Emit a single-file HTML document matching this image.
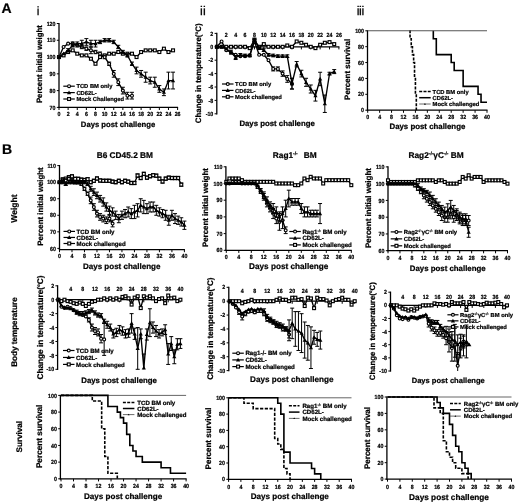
<!DOCTYPE html>
<html><head><meta charset="utf-8"><title>Figure</title>
<style>
html,body{margin:0;padding:0;background:#fff;width:520px;height:504px;overflow:hidden}
svg{display:block}
text{font-family:"Liberation Sans", Arial, sans-serif;fill:#000;text-rendering:geometricPrecision}
text.b{font-weight:bold;stroke:#000;stroke-width:0.22px}
text.n{font-weight:normal;stroke:#000;stroke-width:0.25px}
.mo{fill:#fff;stroke:#000;stroke-width:1.15px}
</style></head>
<body>
<svg width="520" height="504" viewBox="0 0 520 504">
<rect width="520" height="504" fill="#fff"/>
<path d="M59.00 22.90L59.00 108.05" stroke="#000" stroke-width="1.3"/>
<path d="M56.80 107.40L59.00 107.40" stroke="#000" stroke-width="1.0"/>
<text transform="translate(55.50 109.55) scale(0.88 1)" font-size="6.0" class="b" text-anchor="end">70</text>
<path d="M56.80 90.62L59.00 90.62" stroke="#000" stroke-width="1.0"/>
<text transform="translate(55.50 92.77) scale(0.88 1)" font-size="6.0" class="b" text-anchor="end">80</text>
<path d="M56.80 73.84L59.00 73.84" stroke="#000" stroke-width="1.0"/>
<text transform="translate(55.50 75.99) scale(0.88 1)" font-size="6.0" class="b" text-anchor="end">90</text>
<path d="M56.80 57.06L59.00 57.06" stroke="#000" stroke-width="1.0"/>
<text transform="translate(55.50 59.21) scale(0.88 1)" font-size="6.0" class="b" text-anchor="end">100</text>
<path d="M56.80 40.28L59.00 40.28" stroke="#000" stroke-width="1.0"/>
<text transform="translate(55.50 42.43) scale(0.88 1)" font-size="6.0" class="b" text-anchor="end">110</text>
<path d="M56.80 23.50L59.00 23.50" stroke="#000" stroke-width="1.0"/>
<text transform="translate(55.50 25.65) scale(0.88 1)" font-size="6.0" class="b" text-anchor="end">120</text>
<path d="M58.40 107.40L178.10 107.40" stroke="#000" stroke-width="1.3"/>
<path d="M59.00 107.40L59.00 110.00" stroke="#000" stroke-width="1.0"/>
<text transform="translate(59.00 116.40) scale(0.88 1)" font-size="6.0" class="b" text-anchor="middle">0</text>
<path d="M68.12 107.40L68.12 110.00" stroke="#000" stroke-width="1.0"/>
<text transform="translate(68.12 116.40) scale(0.88 1)" font-size="6.0" class="b" text-anchor="middle">2</text>
<path d="M77.25 107.40L77.25 110.00" stroke="#000" stroke-width="1.0"/>
<text transform="translate(77.25 116.40) scale(0.88 1)" font-size="6.0" class="b" text-anchor="middle">4</text>
<path d="M86.37 107.40L86.37 110.00" stroke="#000" stroke-width="1.0"/>
<text transform="translate(86.37 116.40) scale(0.88 1)" font-size="6.0" class="b" text-anchor="middle">6</text>
<path d="M95.49 107.40L95.49 110.00" stroke="#000" stroke-width="1.0"/>
<text transform="translate(95.49 116.40) scale(0.88 1)" font-size="6.0" class="b" text-anchor="middle">8</text>
<path d="M104.62 107.40L104.62 110.00" stroke="#000" stroke-width="1.0"/>
<text transform="translate(104.62 116.40) scale(0.88 1)" font-size="6.0" class="b" text-anchor="middle">10</text>
<path d="M113.74 107.40L113.74 110.00" stroke="#000" stroke-width="1.0"/>
<text transform="translate(113.74 116.40) scale(0.88 1)" font-size="6.0" class="b" text-anchor="middle">12</text>
<path d="M122.86 107.40L122.86 110.00" stroke="#000" stroke-width="1.0"/>
<text transform="translate(122.86 116.40) scale(0.88 1)" font-size="6.0" class="b" text-anchor="middle">14</text>
<path d="M131.98 107.40L131.98 110.00" stroke="#000" stroke-width="1.0"/>
<text transform="translate(131.98 116.40) scale(0.88 1)" font-size="6.0" class="b" text-anchor="middle">16</text>
<path d="M141.11 107.40L141.11 110.00" stroke="#000" stroke-width="1.0"/>
<text transform="translate(141.11 116.40) scale(0.88 1)" font-size="6.0" class="b" text-anchor="middle">18</text>
<path d="M150.23 107.40L150.23 110.00" stroke="#000" stroke-width="1.0"/>
<text transform="translate(150.23 116.40) scale(0.88 1)" font-size="6.0" class="b" text-anchor="middle">20</text>
<path d="M159.35 107.40L159.35 110.00" stroke="#000" stroke-width="1.0"/>
<text transform="translate(159.35 116.40) scale(0.88 1)" font-size="6.0" class="b" text-anchor="middle">22</text>
<path d="M168.48 107.40L168.48 110.00" stroke="#000" stroke-width="1.0"/>
<text transform="translate(168.48 116.40) scale(0.88 1)" font-size="6.0" class="b" text-anchor="middle">24</text>
<path d="M177.60 107.40L177.60 110.00" stroke="#000" stroke-width="1.0"/>
<text transform="translate(177.60 116.40) scale(0.88 1)" font-size="6.0" class="b" text-anchor="middle">26</text>
<text x="1.40" y="13.00" font-size="14.0" class="b" stroke-width="0.55">A</text>
<text x="36.70" y="14.70" font-size="12.0" class="n">i</text>
<text x="42.00" y="64.10" font-size="7.8" class="b" text-anchor="middle" transform="rotate(-90 42.00 64.10)">Percent initial weight</text>
<text x="118.00" y="127.00" font-size="7.7" class="b" text-anchor="middle">Days post challenge</text>
<polyline points="59.00,57.06 63.56,55.38 68.12,52.03 72.68,50.35 77.25,53.70 81.81,55.38 86.37,55.38 90.93,58.74 95.49,63.77 100.05,57.06 104.62,55.38 109.18,53.70 113.74,53.70 118.30,52.03 122.86,53.70 127.42,53.70 131.98,53.70 136.55,57.06 141.11,52.03 145.67,50.35 150.23,50.35 154.79,50.35 159.35,52.03 163.92,48.67 168.48,52.03 173.04,50.35" fill="none" stroke="#000" stroke-width="1.35" stroke-linejoin="miter"/>
<rect x="57.55" y="55.61" width="2.90" height="2.90" class="mo"/>
<rect x="62.11" y="53.93" width="2.90" height="2.90" class="mo"/>
<rect x="66.67" y="50.58" width="2.90" height="2.90" class="mo"/>
<rect x="71.23" y="48.90" width="2.90" height="2.90" class="mo"/>
<rect x="75.80" y="52.25" width="2.90" height="2.90" class="mo"/>
<rect x="80.36" y="53.93" width="2.90" height="2.90" class="mo"/>
<rect x="84.92" y="53.93" width="2.90" height="2.90" class="mo"/>
<rect x="89.48" y="57.29" width="2.90" height="2.90" class="mo"/>
<rect x="94.04" y="62.32" width="2.90" height="2.90" class="mo"/>
<rect x="98.60" y="55.61" width="2.90" height="2.90" class="mo"/>
<rect x="103.17" y="53.93" width="2.90" height="2.90" class="mo"/>
<rect x="107.73" y="52.25" width="2.90" height="2.90" class="mo"/>
<rect x="112.29" y="52.25" width="2.90" height="2.90" class="mo"/>
<rect x="116.85" y="50.58" width="2.90" height="2.90" class="mo"/>
<rect x="121.41" y="52.25" width="2.90" height="2.90" class="mo"/>
<rect x="125.97" y="52.25" width="2.90" height="2.90" class="mo"/>
<rect x="130.53" y="52.25" width="2.90" height="2.90" class="mo"/>
<rect x="135.10" y="55.61" width="2.90" height="2.90" class="mo"/>
<rect x="139.66" y="50.58" width="2.90" height="2.90" class="mo"/>
<rect x="144.22" y="48.90" width="2.90" height="2.90" class="mo"/>
<rect x="148.78" y="48.90" width="2.90" height="2.90" class="mo"/>
<rect x="153.34" y="48.90" width="2.90" height="2.90" class="mo"/>
<rect x="157.90" y="50.58" width="2.90" height="2.90" class="mo"/>
<rect x="162.47" y="47.22" width="2.90" height="2.90" class="mo"/>
<rect x="167.03" y="50.58" width="2.90" height="2.90" class="mo"/>
<rect x="171.59" y="48.90" width="2.90" height="2.90" class="mo"/>
<polyline points="59.00,57.06 63.56,46.99 68.12,43.64 72.68,43.64 77.25,45.31 81.81,46.99 86.37,48.67 90.93,50.35 95.49,52.03 100.05,53.70 104.62,57.06 109.18,63.77 113.74,73.84 118.30,82.23 122.86,90.62 127.42,95.65 131.98,95.65" fill="none" stroke="#000" stroke-width="1.35" stroke-linejoin="miter"/>
<path d="M72.68 41.96L72.68 45.31" stroke="#000" stroke-width="1.0"/>
<path d="M70.68 41.96L74.68 41.96" stroke="#000" stroke-width="1.0"/>
<path d="M70.68 45.31L74.68 45.31" stroke="#000" stroke-width="1.0"/>
<path d="M77.25 43.64L77.25 46.99" stroke="#000" stroke-width="1.0"/>
<path d="M75.25 43.64L79.25 43.64" stroke="#000" stroke-width="1.0"/>
<path d="M75.25 46.99L79.25 46.99" stroke="#000" stroke-width="1.0"/>
<path d="M81.81 45.31L81.81 48.67" stroke="#000" stroke-width="1.0"/>
<path d="M79.81 45.31L83.81 45.31" stroke="#000" stroke-width="1.0"/>
<path d="M79.81 48.67L83.81 48.67" stroke="#000" stroke-width="1.0"/>
<path d="M86.37 46.99L86.37 50.35" stroke="#000" stroke-width="1.0"/>
<path d="M84.37 46.99L88.37 46.99" stroke="#000" stroke-width="1.0"/>
<path d="M84.37 50.35L88.37 50.35" stroke="#000" stroke-width="1.0"/>
<path d="M90.93 46.99L90.93 53.70" stroke="#000" stroke-width="1.0"/>
<path d="M88.93 46.99L92.93 46.99" stroke="#000" stroke-width="1.0"/>
<path d="M88.93 53.70L92.93 53.70" stroke="#000" stroke-width="1.0"/>
<path d="M95.49 50.35L95.49 53.70" stroke="#000" stroke-width="1.0"/>
<path d="M93.49 50.35L97.49 50.35" stroke="#000" stroke-width="1.0"/>
<path d="M93.49 53.70L97.49 53.70" stroke="#000" stroke-width="1.0"/>
<path d="M100.05 52.03L100.05 55.38" stroke="#000" stroke-width="1.0"/>
<path d="M98.05 52.03L102.05 52.03" stroke="#000" stroke-width="1.0"/>
<path d="M98.05 55.38L102.05 55.38" stroke="#000" stroke-width="1.0"/>
<path d="M104.62 55.38L104.62 58.74" stroke="#000" stroke-width="1.0"/>
<path d="M102.62 55.38L106.62 55.38" stroke="#000" stroke-width="1.0"/>
<path d="M102.62 58.74L106.62 58.74" stroke="#000" stroke-width="1.0"/>
<path d="M109.18 62.09L109.18 65.45" stroke="#000" stroke-width="1.0"/>
<path d="M107.18 62.09L111.18 62.09" stroke="#000" stroke-width="1.0"/>
<path d="M107.18 65.45L111.18 65.45" stroke="#000" stroke-width="1.0"/>
<path d="M113.74 70.48L113.74 77.20" stroke="#000" stroke-width="1.0"/>
<path d="M111.74 70.48L115.74 70.48" stroke="#000" stroke-width="1.0"/>
<path d="M111.74 77.20L115.74 77.20" stroke="#000" stroke-width="1.0"/>
<path d="M118.30 78.87L118.30 85.59" stroke="#000" stroke-width="1.0"/>
<path d="M116.30 78.87L120.30 78.87" stroke="#000" stroke-width="1.0"/>
<path d="M116.30 85.59L120.30 85.59" stroke="#000" stroke-width="1.0"/>
<path d="M122.86 87.26L122.86 93.98" stroke="#000" stroke-width="1.0"/>
<path d="M120.86 87.26L124.86 87.26" stroke="#000" stroke-width="1.0"/>
<path d="M120.86 93.98L124.86 93.98" stroke="#000" stroke-width="1.0"/>
<path d="M127.42 92.30L127.42 99.01" stroke="#000" stroke-width="1.0"/>
<path d="M125.42 92.30L129.42 92.30" stroke="#000" stroke-width="1.0"/>
<path d="M125.42 99.01L129.42 99.01" stroke="#000" stroke-width="1.0"/>
<path d="M131.98 92.30L131.98 99.01" stroke="#000" stroke-width="1.0"/>
<path d="M129.98 92.30L133.98 92.30" stroke="#000" stroke-width="1.0"/>
<path d="M129.98 99.01L133.98 99.01" stroke="#000" stroke-width="1.0"/>
<circle cx="59.00" cy="57.06" r="1.45" class="mo"/>
<circle cx="63.56" cy="46.99" r="1.45" class="mo"/>
<circle cx="68.12" cy="43.64" r="1.45" class="mo"/>
<circle cx="72.68" cy="43.64" r="1.45" class="mo"/>
<circle cx="77.25" cy="45.31" r="1.45" class="mo"/>
<circle cx="81.81" cy="46.99" r="1.45" class="mo"/>
<circle cx="86.37" cy="48.67" r="1.45" class="mo"/>
<circle cx="90.93" cy="50.35" r="1.45" class="mo"/>
<circle cx="95.49" cy="52.03" r="1.45" class="mo"/>
<circle cx="100.05" cy="53.70" r="1.45" class="mo"/>
<circle cx="104.62" cy="57.06" r="1.45" class="mo"/>
<circle cx="109.18" cy="63.77" r="1.45" class="mo"/>
<circle cx="113.74" cy="73.84" r="1.45" class="mo"/>
<circle cx="118.30" cy="82.23" r="1.45" class="mo"/>
<circle cx="122.86" cy="90.62" r="1.45" class="mo"/>
<circle cx="127.42" cy="95.65" r="1.45" class="mo"/>
<circle cx="131.98" cy="95.65" r="1.45" class="mo"/>
<polyline points="59.00,57.06 63.56,53.70 68.12,50.35 72.68,45.31 77.25,43.64 81.81,43.64 86.37,41.96 90.93,43.64 95.49,43.64 100.05,41.96 104.62,40.28 109.18,40.28 113.74,41.96 118.30,46.99 122.86,52.03 127.42,55.38 131.98,63.77 136.55,70.48 141.11,73.84 145.67,77.20 150.23,80.55 154.79,82.23 159.35,88.94 163.92,92.30 168.48,80.55 173.04,80.55" fill="none" stroke="#000" stroke-width="1.35" stroke-linejoin="miter"/>
<path d="M68.12 48.67L68.12 52.03" stroke="#000" stroke-width="1.0"/>
<path d="M66.12 48.67L70.12 48.67" stroke="#000" stroke-width="1.0"/>
<path d="M66.12 52.03L70.12 52.03" stroke="#000" stroke-width="1.0"/>
<path d="M72.68 43.64L72.68 46.99" stroke="#000" stroke-width="1.0"/>
<path d="M70.68 43.64L74.68 43.64" stroke="#000" stroke-width="1.0"/>
<path d="M70.68 46.99L74.68 46.99" stroke="#000" stroke-width="1.0"/>
<path d="M77.25 41.96L77.25 45.31" stroke="#000" stroke-width="1.0"/>
<path d="M75.25 41.96L79.25 41.96" stroke="#000" stroke-width="1.0"/>
<path d="M75.25 45.31L79.25 45.31" stroke="#000" stroke-width="1.0"/>
<path d="M81.81 40.28L81.81 46.99" stroke="#000" stroke-width="1.0"/>
<path d="M79.81 40.28L83.81 40.28" stroke="#000" stroke-width="1.0"/>
<path d="M79.81 46.99L83.81 46.99" stroke="#000" stroke-width="1.0"/>
<path d="M86.37 38.60L86.37 45.31" stroke="#000" stroke-width="1.0"/>
<path d="M84.37 38.60L88.37 38.60" stroke="#000" stroke-width="1.0"/>
<path d="M84.37 45.31L88.37 45.31" stroke="#000" stroke-width="1.0"/>
<path d="M90.93 40.28L90.93 46.99" stroke="#000" stroke-width="1.0"/>
<path d="M88.93 40.28L92.93 40.28" stroke="#000" stroke-width="1.0"/>
<path d="M88.93 46.99L92.93 46.99" stroke="#000" stroke-width="1.0"/>
<path d="M95.49 40.28L95.49 46.99" stroke="#000" stroke-width="1.0"/>
<path d="M93.49 40.28L97.49 40.28" stroke="#000" stroke-width="1.0"/>
<path d="M93.49 46.99L97.49 46.99" stroke="#000" stroke-width="1.0"/>
<path d="M100.05 40.28L100.05 43.64" stroke="#000" stroke-width="1.0"/>
<path d="M98.05 40.28L102.05 40.28" stroke="#000" stroke-width="1.0"/>
<path d="M98.05 43.64L102.05 43.64" stroke="#000" stroke-width="1.0"/>
<path d="M104.62 38.60L104.62 41.96" stroke="#000" stroke-width="1.0"/>
<path d="M102.62 38.60L106.62 38.60" stroke="#000" stroke-width="1.0"/>
<path d="M102.62 41.96L106.62 41.96" stroke="#000" stroke-width="1.0"/>
<path d="M109.18 38.60L109.18 41.96" stroke="#000" stroke-width="1.0"/>
<path d="M107.18 38.60L111.18 38.60" stroke="#000" stroke-width="1.0"/>
<path d="M107.18 41.96L111.18 41.96" stroke="#000" stroke-width="1.0"/>
<path d="M113.74 40.28L113.74 43.64" stroke="#000" stroke-width="1.0"/>
<path d="M111.74 40.28L115.74 40.28" stroke="#000" stroke-width="1.0"/>
<path d="M111.74 43.64L115.74 43.64" stroke="#000" stroke-width="1.0"/>
<path d="M118.30 45.31L118.30 48.67" stroke="#000" stroke-width="1.0"/>
<path d="M116.30 45.31L120.30 45.31" stroke="#000" stroke-width="1.0"/>
<path d="M116.30 48.67L120.30 48.67" stroke="#000" stroke-width="1.0"/>
<path d="M122.86 50.35L122.86 53.70" stroke="#000" stroke-width="1.0"/>
<path d="M120.86 50.35L124.86 50.35" stroke="#000" stroke-width="1.0"/>
<path d="M120.86 53.70L124.86 53.70" stroke="#000" stroke-width="1.0"/>
<path d="M127.42 53.70L127.42 57.06" stroke="#000" stroke-width="1.0"/>
<path d="M125.42 53.70L129.42 53.70" stroke="#000" stroke-width="1.0"/>
<path d="M125.42 57.06L129.42 57.06" stroke="#000" stroke-width="1.0"/>
<path d="M131.98 62.09L131.98 65.45" stroke="#000" stroke-width="1.0"/>
<path d="M129.98 62.09L133.98 62.09" stroke="#000" stroke-width="1.0"/>
<path d="M129.98 65.45L133.98 65.45" stroke="#000" stroke-width="1.0"/>
<path d="M136.55 67.13L136.55 73.84" stroke="#000" stroke-width="1.0"/>
<path d="M134.55 67.13L138.55 67.13" stroke="#000" stroke-width="1.0"/>
<path d="M134.55 73.84L138.55 73.84" stroke="#000" stroke-width="1.0"/>
<path d="M141.11 70.48L141.11 77.20" stroke="#000" stroke-width="1.0"/>
<path d="M139.11 70.48L143.11 70.48" stroke="#000" stroke-width="1.0"/>
<path d="M139.11 77.20L143.11 77.20" stroke="#000" stroke-width="1.0"/>
<path d="M145.67 72.16L145.67 82.23" stroke="#000" stroke-width="1.0"/>
<path d="M143.67 72.16L147.67 72.16" stroke="#000" stroke-width="1.0"/>
<path d="M143.67 82.23L147.67 82.23" stroke="#000" stroke-width="1.0"/>
<path d="M150.23 77.20L150.23 83.91" stroke="#000" stroke-width="1.0"/>
<path d="M148.23 77.20L152.23 77.20" stroke="#000" stroke-width="1.0"/>
<path d="M148.23 83.91L152.23 83.91" stroke="#000" stroke-width="1.0"/>
<path d="M154.79 77.20L154.79 87.26" stroke="#000" stroke-width="1.0"/>
<path d="M152.79 77.20L156.79 77.20" stroke="#000" stroke-width="1.0"/>
<path d="M152.79 87.26L156.79 87.26" stroke="#000" stroke-width="1.0"/>
<path d="M159.35 85.59L159.35 92.30" stroke="#000" stroke-width="1.0"/>
<path d="M157.35 85.59L161.35 85.59" stroke="#000" stroke-width="1.0"/>
<path d="M157.35 92.30L161.35 92.30" stroke="#000" stroke-width="1.0"/>
<path d="M163.92 88.94L163.92 95.65" stroke="#000" stroke-width="1.0"/>
<path d="M161.92 88.94L165.92 88.94" stroke="#000" stroke-width="1.0"/>
<path d="M161.92 95.65L165.92 95.65" stroke="#000" stroke-width="1.0"/>
<path d="M168.48 72.16L168.48 88.94" stroke="#000" stroke-width="1.0"/>
<path d="M166.48 72.16L170.48 72.16" stroke="#000" stroke-width="1.0"/>
<path d="M166.48 88.94L170.48 88.94" stroke="#000" stroke-width="1.0"/>
<path d="M173.04 72.16L173.04 88.94" stroke="#000" stroke-width="1.0"/>
<path d="M171.04 72.16L175.04 72.16" stroke="#000" stroke-width="1.0"/>
<path d="M171.04 88.94L175.04 88.94" stroke="#000" stroke-width="1.0"/>
<path d="M59.00 54.96L61.10 58.64L56.90 58.64Z"/>
<path d="M63.56 51.60L65.66 55.28L61.46 55.28Z"/>
<path d="M68.12 48.25L70.22 51.92L66.02 51.92Z"/>
<path d="M72.68 43.21L74.78 46.89L70.58 46.89Z"/>
<path d="M77.25 41.54L79.35 45.21L75.15 45.21Z"/>
<path d="M81.81 41.54L83.91 45.21L79.71 45.21Z"/>
<path d="M86.37 39.86L88.47 43.53L84.27 43.53Z"/>
<path d="M90.93 41.54L93.03 45.21L88.83 45.21Z"/>
<path d="M95.49 41.54L97.59 45.21L93.39 45.21Z"/>
<path d="M100.05 39.86L102.15 43.53L97.95 43.53Z"/>
<path d="M104.62 38.18L106.72 41.86L102.52 41.86Z"/>
<path d="M109.18 38.18L111.28 41.86L107.08 41.86Z"/>
<path d="M113.74 39.86L115.84 43.53L111.64 43.53Z"/>
<path d="M118.30 44.89L120.40 48.57L116.20 48.57Z"/>
<path d="M122.86 49.93L124.96 53.60L120.76 53.60Z"/>
<path d="M127.42 53.28L129.52 56.96L125.32 56.96Z"/>
<path d="M131.98 61.67L134.08 65.35L129.88 65.35Z"/>
<path d="M136.55 68.38L138.65 72.06L134.45 72.06Z"/>
<path d="M141.11 71.74L143.21 75.42L139.01 75.42Z"/>
<path d="M145.67 75.10L147.77 78.77L143.57 78.77Z"/>
<path d="M150.23 78.45L152.33 82.13L148.13 82.13Z"/>
<path d="M154.79 80.13L156.89 83.81L152.69 83.81Z"/>
<path d="M159.35 86.84L161.45 90.52L157.25 90.52Z"/>
<path d="M163.92 90.20L166.02 93.87L161.82 93.87Z"/>
<path d="M168.48 78.45L170.58 82.13L166.38 82.13Z"/>
<path d="M173.04 78.45L175.14 82.13L170.94 82.13Z"/>
<path d="M63.30 86.20L74.80 86.20" stroke="#000" stroke-width="1.2"/>
<circle cx="69.05" cy="86.20" r="1.45" class="mo"/>
<text x="76.40" y="88.35" font-size="5.8" class="b">TCD BM only</text>
<path d="M63.30 92.60L74.80 92.60" stroke="#000" stroke-width="1.2"/>
<path d="M69.05 90.50L71.15 94.18L66.95 94.18Z"/>
<text x="76.40" y="94.75" font-size="5.8" class="b">CD62L-</text>
<path d="M63.30 99.00L74.80 99.00" stroke="#000" stroke-width="1.2"/>
<rect x="67.60" y="97.55" width="2.90" height="2.90" class="mo"/>
<text x="76.40" y="101.15" font-size="5.8" class="b">Mock Challenged</text>
<path d="M216.80 32.80L216.80 114.45" stroke="#000" stroke-width="1.3"/>
<path d="M214.60 113.80L216.80 113.80" stroke="#000" stroke-width="1.0"/>
<text transform="translate(213.30 115.95) scale(0.88 1)" font-size="6.0" class="b" text-anchor="end">-10</text>
<path d="M214.60 100.40L216.80 100.40" stroke="#000" stroke-width="1.0"/>
<text transform="translate(213.30 102.55) scale(0.88 1)" font-size="6.0" class="b" text-anchor="end">-8</text>
<path d="M214.60 87.00L216.80 87.00" stroke="#000" stroke-width="1.0"/>
<text transform="translate(213.30 89.15) scale(0.88 1)" font-size="6.0" class="b" text-anchor="end">-6</text>
<path d="M214.60 73.60L216.80 73.60" stroke="#000" stroke-width="1.0"/>
<text transform="translate(213.30 75.75) scale(0.88 1)" font-size="6.0" class="b" text-anchor="end">-4</text>
<path d="M214.60 60.20L216.80 60.20" stroke="#000" stroke-width="1.0"/>
<text transform="translate(213.30 62.35) scale(0.88 1)" font-size="6.0" class="b" text-anchor="end">-2</text>
<path d="M214.60 46.80L216.80 46.80" stroke="#000" stroke-width="1.0"/>
<text transform="translate(213.30 48.95) scale(0.88 1)" font-size="6.0" class="b" text-anchor="end">0</text>
<path d="M214.60 33.40L216.80 33.40" stroke="#000" stroke-width="1.0"/>
<text transform="translate(213.30 35.55) scale(0.88 1)" font-size="6.0" class="b" text-anchor="end">2</text>
<path d="M216.20 46.80L339.40 46.80" stroke="#000" stroke-width="1.3"/>
<path d="M216.90 46.80L216.90 49.40" stroke="#000" stroke-width="1.0"/>
<path d="M226.28 46.80L226.28 49.40" stroke="#000" stroke-width="1.0"/>
<text transform="translate(226.28 36.50) scale(0.88 1)" font-size="6.0" class="b" text-anchor="middle">2</text>
<path d="M235.67 46.80L235.67 49.40" stroke="#000" stroke-width="1.0"/>
<text transform="translate(235.67 36.50) scale(0.88 1)" font-size="6.0" class="b" text-anchor="middle">4</text>
<path d="M245.05 46.80L245.05 49.40" stroke="#000" stroke-width="1.0"/>
<text transform="translate(245.05 36.50) scale(0.88 1)" font-size="6.0" class="b" text-anchor="middle">6</text>
<path d="M254.44 46.80L254.44 49.40" stroke="#000" stroke-width="1.0"/>
<text transform="translate(254.44 36.50) scale(0.88 1)" font-size="6.0" class="b" text-anchor="middle">8</text>
<path d="M263.82 46.80L263.82 49.40" stroke="#000" stroke-width="1.0"/>
<text transform="translate(263.82 36.50) scale(0.88 1)" font-size="6.0" class="b" text-anchor="middle">10</text>
<path d="M273.21 46.80L273.21 49.40" stroke="#000" stroke-width="1.0"/>
<text transform="translate(273.21 36.50) scale(0.88 1)" font-size="6.0" class="b" text-anchor="middle">12</text>
<path d="M282.59 46.80L282.59 49.40" stroke="#000" stroke-width="1.0"/>
<text transform="translate(282.59 36.50) scale(0.88 1)" font-size="6.0" class="b" text-anchor="middle">14</text>
<path d="M291.98 46.80L291.98 49.40" stroke="#000" stroke-width="1.0"/>
<text transform="translate(291.98 36.50) scale(0.88 1)" font-size="6.0" class="b" text-anchor="middle">16</text>
<path d="M301.36 46.80L301.36 49.40" stroke="#000" stroke-width="1.0"/>
<text transform="translate(301.36 36.50) scale(0.88 1)" font-size="6.0" class="b" text-anchor="middle">18</text>
<path d="M310.75 46.80L310.75 49.40" stroke="#000" stroke-width="1.0"/>
<text transform="translate(310.75 36.50) scale(0.88 1)" font-size="6.0" class="b" text-anchor="middle">20</text>
<path d="M320.13 46.80L320.13 49.40" stroke="#000" stroke-width="1.0"/>
<text transform="translate(320.13 36.50) scale(0.88 1)" font-size="6.0" class="b" text-anchor="middle">22</text>
<path d="M329.52 46.80L329.52 49.40" stroke="#000" stroke-width="1.0"/>
<text transform="translate(329.52 36.50) scale(0.88 1)" font-size="6.0" class="b" text-anchor="middle">24</text>
<path d="M338.90 46.80L338.90 49.40" stroke="#000" stroke-width="1.0"/>
<text transform="translate(338.90 36.50) scale(0.88 1)" font-size="6.0" class="b" text-anchor="middle">26</text>
<text x="200.00" y="14.80" font-size="12.5" class="n">i<tspan dx="0.3">i</tspan></text>
<text x="200.60" y="73.30" font-size="7.92" class="b" text-anchor="middle" transform="rotate(-90 200.60 73.30)">Change in temperature(<tspan font-size="4.6" dy="-2.8">o</tspan><tspan dy="2.8">C)</tspan></text>
<text x="277.10" y="126.20" font-size="7.8" class="b" text-anchor="middle">Days post challenge</text>
<polyline points="216.90,46.80 221.59,46.80 226.28,46.80 230.98,46.80 235.67,46.80 240.36,46.80 245.05,46.80 249.75,48.14 254.44,40.10 259.13,46.80 263.82,44.12 268.52,46.80 273.21,46.80 277.90,46.80 282.59,46.80 287.28,45.46 291.98,46.80 296.67,41.44 301.36,42.78 306.05,44.79 310.75,46.80 315.44,48.14 320.13,44.79 324.82,42.78 329.52,42.11 334.21,44.12" fill="none" stroke="#000" stroke-width="1.35" stroke-linejoin="miter"/>
<rect x="215.45" y="45.35" width="2.90" height="2.90" class="mo"/>
<rect x="220.14" y="45.35" width="2.90" height="2.90" class="mo"/>
<rect x="224.83" y="45.35" width="2.90" height="2.90" class="mo"/>
<rect x="229.53" y="45.35" width="2.90" height="2.90" class="mo"/>
<rect x="234.22" y="45.35" width="2.90" height="2.90" class="mo"/>
<rect x="238.91" y="45.35" width="2.90" height="2.90" class="mo"/>
<rect x="243.60" y="45.35" width="2.90" height="2.90" class="mo"/>
<rect x="248.30" y="46.69" width="2.90" height="2.90" class="mo"/>
<rect x="252.99" y="38.65" width="2.90" height="2.90" class="mo"/>
<rect x="257.68" y="45.35" width="2.90" height="2.90" class="mo"/>
<rect x="262.37" y="42.67" width="2.90" height="2.90" class="mo"/>
<rect x="267.07" y="45.35" width="2.90" height="2.90" class="mo"/>
<rect x="271.76" y="45.35" width="2.90" height="2.90" class="mo"/>
<rect x="276.45" y="45.35" width="2.90" height="2.90" class="mo"/>
<rect x="281.14" y="45.35" width="2.90" height="2.90" class="mo"/>
<rect x="285.83" y="44.01" width="2.90" height="2.90" class="mo"/>
<rect x="290.53" y="45.35" width="2.90" height="2.90" class="mo"/>
<rect x="295.22" y="39.99" width="2.90" height="2.90" class="mo"/>
<rect x="299.91" y="41.33" width="2.90" height="2.90" class="mo"/>
<rect x="304.60" y="43.34" width="2.90" height="2.90" class="mo"/>
<rect x="309.30" y="45.35" width="2.90" height="2.90" class="mo"/>
<rect x="313.99" y="46.69" width="2.90" height="2.90" class="mo"/>
<rect x="318.68" y="43.34" width="2.90" height="2.90" class="mo"/>
<rect x="323.37" y="41.33" width="2.90" height="2.90" class="mo"/>
<rect x="328.07" y="40.66" width="2.90" height="2.90" class="mo"/>
<rect x="332.76" y="42.67" width="2.90" height="2.90" class="mo"/>
<polyline points="216.90,46.80 221.59,41.44 226.28,50.15 230.98,52.16 235.67,54.84 240.36,56.18 245.05,56.18 249.75,55.51 254.44,41.44 259.13,54.84 263.82,54.84 268.52,60.20 273.21,68.91 277.90,68.91 282.59,73.60 287.28,78.96 291.98,83.65" fill="none" stroke="#000" stroke-width="1.35" stroke-linejoin="miter"/>
<path d="M254.44 39.43L254.44 43.45" stroke="#000" stroke-width="1.0"/>
<path d="M252.44 39.43L256.44 39.43" stroke="#000" stroke-width="1.0"/>
<path d="M252.44 43.45L256.44 43.45" stroke="#000" stroke-width="1.0"/>
<path d="M273.21 66.90L273.21 70.92" stroke="#000" stroke-width="1.0"/>
<path d="M271.21 66.90L275.21 66.90" stroke="#000" stroke-width="1.0"/>
<path d="M271.21 70.92L275.21 70.92" stroke="#000" stroke-width="1.0"/>
<path d="M277.90 66.90L277.90 70.92" stroke="#000" stroke-width="1.0"/>
<path d="M275.90 66.90L279.90 66.90" stroke="#000" stroke-width="1.0"/>
<path d="M275.90 70.92L279.90 70.92" stroke="#000" stroke-width="1.0"/>
<path d="M282.59 70.92L282.59 76.28" stroke="#000" stroke-width="1.0"/>
<path d="M280.59 70.92L284.59 70.92" stroke="#000" stroke-width="1.0"/>
<path d="M280.59 76.28L284.59 76.28" stroke="#000" stroke-width="1.0"/>
<path d="M287.28 75.61L287.28 82.31" stroke="#000" stroke-width="1.0"/>
<path d="M285.28 75.61L289.28 75.61" stroke="#000" stroke-width="1.0"/>
<path d="M285.28 82.31L289.28 82.31" stroke="#000" stroke-width="1.0"/>
<path d="M291.98 78.29L291.98 89.01" stroke="#000" stroke-width="1.0"/>
<path d="M289.98 78.29L293.98 78.29" stroke="#000" stroke-width="1.0"/>
<path d="M289.98 89.01L293.98 89.01" stroke="#000" stroke-width="1.0"/>
<circle cx="216.90" cy="46.80" r="1.45" class="mo"/>
<circle cx="221.59" cy="41.44" r="1.45" class="mo"/>
<circle cx="226.28" cy="50.15" r="1.45" class="mo"/>
<circle cx="230.98" cy="52.16" r="1.45" class="mo"/>
<circle cx="235.67" cy="54.84" r="1.45" class="mo"/>
<circle cx="240.36" cy="56.18" r="1.45" class="mo"/>
<circle cx="245.05" cy="56.18" r="1.45" class="mo"/>
<circle cx="249.75" cy="55.51" r="1.45" class="mo"/>
<circle cx="254.44" cy="41.44" r="1.45" class="mo"/>
<circle cx="259.13" cy="54.84" r="1.45" class="mo"/>
<circle cx="263.82" cy="54.84" r="1.45" class="mo"/>
<circle cx="268.52" cy="60.20" r="1.45" class="mo"/>
<circle cx="273.21" cy="68.91" r="1.45" class="mo"/>
<circle cx="277.90" cy="68.91" r="1.45" class="mo"/>
<circle cx="282.59" cy="73.60" r="1.45" class="mo"/>
<circle cx="287.28" cy="78.96" r="1.45" class="mo"/>
<circle cx="291.98" cy="83.65" r="1.45" class="mo"/>
<polyline points="216.90,46.80 221.59,46.80 226.28,48.81 230.98,52.16 235.67,57.52 240.36,54.84 245.05,55.51 249.75,55.51 254.44,40.10 259.13,48.14 263.82,50.15 268.52,54.84 273.21,55.51 277.90,56.18 282.59,56.18 287.28,56.18 291.98,83.65 296.67,64.22 301.36,73.60 306.05,82.31 310.75,89.01 315.44,95.71 320.13,78.96 324.82,103.75 329.52,73.60 334.21,71.59" fill="none" stroke="#000" stroke-width="1.35" stroke-linejoin="miter"/>
<path d="M230.98 50.15L230.98 54.17" stroke="#000" stroke-width="1.0"/>
<path d="M228.98 50.15L232.98 50.15" stroke="#000" stroke-width="1.0"/>
<path d="M228.98 54.17L232.98 54.17" stroke="#000" stroke-width="1.0"/>
<path d="M235.67 55.51L235.67 59.53" stroke="#000" stroke-width="1.0"/>
<path d="M233.67 55.51L237.67 55.51" stroke="#000" stroke-width="1.0"/>
<path d="M233.67 59.53L237.67 59.53" stroke="#000" stroke-width="1.0"/>
<path d="M240.36 53.50L240.36 56.18" stroke="#000" stroke-width="1.0"/>
<path d="M238.36 53.50L242.36 53.50" stroke="#000" stroke-width="1.0"/>
<path d="M238.36 56.18L242.36 56.18" stroke="#000" stroke-width="1.0"/>
<path d="M245.05 54.17L245.05 56.85" stroke="#000" stroke-width="1.0"/>
<path d="M243.05 54.17L247.05 54.17" stroke="#000" stroke-width="1.0"/>
<path d="M243.05 56.85L247.05 56.85" stroke="#000" stroke-width="1.0"/>
<path d="M249.75 54.17L249.75 56.85" stroke="#000" stroke-width="1.0"/>
<path d="M247.75 54.17L251.75 54.17" stroke="#000" stroke-width="1.0"/>
<path d="M247.75 56.85L251.75 56.85" stroke="#000" stroke-width="1.0"/>
<path d="M254.44 38.09L254.44 42.11" stroke="#000" stroke-width="1.0"/>
<path d="M252.44 38.09L256.44 38.09" stroke="#000" stroke-width="1.0"/>
<path d="M252.44 42.11L256.44 42.11" stroke="#000" stroke-width="1.0"/>
<path d="M259.13 46.80L259.13 49.48" stroke="#000" stroke-width="1.0"/>
<path d="M257.13 46.80L261.13 46.80" stroke="#000" stroke-width="1.0"/>
<path d="M257.13 49.48L261.13 49.48" stroke="#000" stroke-width="1.0"/>
<path d="M263.82 48.81L263.82 51.49" stroke="#000" stroke-width="1.0"/>
<path d="M261.82 48.81L265.82 48.81" stroke="#000" stroke-width="1.0"/>
<path d="M261.82 51.49L265.82 51.49" stroke="#000" stroke-width="1.0"/>
<path d="M268.52 53.50L268.52 56.18" stroke="#000" stroke-width="1.0"/>
<path d="M266.52 53.50L270.52 53.50" stroke="#000" stroke-width="1.0"/>
<path d="M266.52 56.18L270.52 56.18" stroke="#000" stroke-width="1.0"/>
<path d="M273.21 54.17L273.21 56.85" stroke="#000" stroke-width="1.0"/>
<path d="M271.21 54.17L275.21 54.17" stroke="#000" stroke-width="1.0"/>
<path d="M271.21 56.85L275.21 56.85" stroke="#000" stroke-width="1.0"/>
<path d="M277.90 54.84L277.90 57.52" stroke="#000" stroke-width="1.0"/>
<path d="M275.90 54.84L279.90 54.84" stroke="#000" stroke-width="1.0"/>
<path d="M275.90 57.52L279.90 57.52" stroke="#000" stroke-width="1.0"/>
<path d="M282.59 54.84L282.59 57.52" stroke="#000" stroke-width="1.0"/>
<path d="M280.59 54.84L284.59 54.84" stroke="#000" stroke-width="1.0"/>
<path d="M280.59 57.52L284.59 57.52" stroke="#000" stroke-width="1.0"/>
<path d="M287.28 54.84L287.28 57.52" stroke="#000" stroke-width="1.0"/>
<path d="M285.28 54.84L289.28 54.84" stroke="#000" stroke-width="1.0"/>
<path d="M285.28 57.52L289.28 57.52" stroke="#000" stroke-width="1.0"/>
<path d="M291.98 78.29L291.98 89.01" stroke="#000" stroke-width="1.0"/>
<path d="M289.98 78.29L293.98 78.29" stroke="#000" stroke-width="1.0"/>
<path d="M289.98 89.01L293.98 89.01" stroke="#000" stroke-width="1.0"/>
<path d="M296.67 61.54L296.67 66.90" stroke="#000" stroke-width="1.0"/>
<path d="M294.67 61.54L298.67 61.54" stroke="#000" stroke-width="1.0"/>
<path d="M294.67 66.90L298.67 66.90" stroke="#000" stroke-width="1.0"/>
<path d="M301.36 70.25L301.36 76.95" stroke="#000" stroke-width="1.0"/>
<path d="M299.36 70.25L303.36 70.25" stroke="#000" stroke-width="1.0"/>
<path d="M299.36 76.95L303.36 76.95" stroke="#000" stroke-width="1.0"/>
<path d="M306.05 78.29L306.05 86.33" stroke="#000" stroke-width="1.0"/>
<path d="M304.05 78.29L308.05 78.29" stroke="#000" stroke-width="1.0"/>
<path d="M304.05 86.33L308.05 86.33" stroke="#000" stroke-width="1.0"/>
<path d="M310.75 84.99L310.75 93.03" stroke="#000" stroke-width="1.0"/>
<path d="M308.75 84.99L312.75 84.99" stroke="#000" stroke-width="1.0"/>
<path d="M308.75 93.03L312.75 93.03" stroke="#000" stroke-width="1.0"/>
<path d="M315.44 90.35L315.44 101.07" stroke="#000" stroke-width="1.0"/>
<path d="M313.44 90.35L317.44 90.35" stroke="#000" stroke-width="1.0"/>
<path d="M313.44 101.07L317.44 101.07" stroke="#000" stroke-width="1.0"/>
<path d="M320.13 72.26L320.13 85.66" stroke="#000" stroke-width="1.0"/>
<path d="M318.13 72.26L322.13 72.26" stroke="#000" stroke-width="1.0"/>
<path d="M318.13 85.66L322.13 85.66" stroke="#000" stroke-width="1.0"/>
<path d="M324.82 95.04L324.82 112.46" stroke="#000" stroke-width="1.0"/>
<path d="M322.82 95.04L326.82 95.04" stroke="#000" stroke-width="1.0"/>
<path d="M322.82 112.46L326.82 112.46" stroke="#000" stroke-width="1.0"/>
<path d="M329.52 72.26L329.52 74.94" stroke="#000" stroke-width="1.0"/>
<path d="M327.52 72.26L331.52 72.26" stroke="#000" stroke-width="1.0"/>
<path d="M327.52 74.94L331.52 74.94" stroke="#000" stroke-width="1.0"/>
<path d="M334.21 69.58L334.21 73.60" stroke="#000" stroke-width="1.0"/>
<path d="M332.21 69.58L336.21 69.58" stroke="#000" stroke-width="1.0"/>
<path d="M332.21 73.60L336.21 73.60" stroke="#000" stroke-width="1.0"/>
<path d="M216.90 44.70L219.00 48.38L214.80 48.38Z"/>
<path d="M221.59 44.70L223.69 48.38L219.49 48.38Z"/>
<path d="M226.28 46.71L228.38 50.39L224.18 50.39Z"/>
<path d="M230.98 50.06L233.08 53.74L228.88 53.74Z"/>
<path d="M235.67 55.42L237.77 59.09L233.57 59.09Z"/>
<path d="M240.36 52.74L242.46 56.41L238.26 56.41Z"/>
<path d="M245.05 53.41L247.15 57.09L242.95 57.09Z"/>
<path d="M249.75 53.41L251.85 57.09L247.65 57.09Z"/>
<path d="M254.44 38.00L256.54 41.67L252.34 41.67Z"/>
<path d="M259.13 46.04L261.23 49.71L257.03 49.71Z"/>
<path d="M263.82 48.05L265.92 51.73L261.72 51.73Z"/>
<path d="M268.52 52.74L270.62 56.41L266.42 56.41Z"/>
<path d="M273.21 53.41L275.31 57.09L271.11 57.09Z"/>
<path d="M277.90 54.08L280.00 57.76L275.80 57.76Z"/>
<path d="M282.59 54.08L284.69 57.76L280.49 57.76Z"/>
<path d="M287.28 54.08L289.38 57.76L285.18 57.76Z"/>
<path d="M291.98 81.55L294.08 85.22L289.88 85.22Z"/>
<path d="M296.67 62.12L298.77 65.80L294.57 65.80Z"/>
<path d="M301.36 71.50L303.46 75.17L299.26 75.17Z"/>
<path d="M306.05 80.21L308.15 83.89L303.95 83.89Z"/>
<path d="M310.75 86.91L312.85 90.58L308.65 90.58Z"/>
<path d="M315.44 93.61L317.54 97.28L313.34 97.28Z"/>
<path d="M320.13 76.86L322.23 80.53L318.03 80.53Z"/>
<path d="M324.82 101.65L326.92 105.33L322.72 105.33Z"/>
<path d="M329.52 71.50L331.62 75.17L327.42 75.17Z"/>
<path d="M334.21 69.49L336.31 73.17L332.11 73.17Z"/>
<path d="M222.00 84.00L233.50 84.00" stroke="#000" stroke-width="1.2"/>
<circle cx="227.75" cy="84.00" r="1.45" class="mo"/>
<text x="235.10" y="86.15" font-size="5.8" class="b">TCD BM only</text>
<path d="M222.00 90.40L233.50 90.40" stroke="#000" stroke-width="1.2"/>
<path d="M227.75 88.30L229.85 91.98L225.65 91.98Z"/>
<text x="235.10" y="92.55" font-size="5.8" class="b">CD62L-</text>
<path d="M222.00 96.80L233.50 96.80" stroke="#000" stroke-width="1.2"/>
<rect x="226.30" y="95.35" width="2.90" height="2.90" class="mo"/>
<text x="235.10" y="98.95" font-size="5.8" class="b">Mock challenged</text>
<path d="M367.50 30.20L367.50 110.85" stroke="#000" stroke-width="1.3"/>
<path d="M365.30 110.20L367.50 110.20" stroke="#000" stroke-width="1.0"/>
<text transform="translate(364.00 112.35) scale(0.88 1)" font-size="6.0" class="b" text-anchor="end">0</text>
<path d="M365.30 94.32L367.50 94.32" stroke="#000" stroke-width="1.0"/>
<text transform="translate(364.00 96.47) scale(0.88 1)" font-size="6.0" class="b" text-anchor="end">20</text>
<path d="M365.30 78.44L367.50 78.44" stroke="#000" stroke-width="1.0"/>
<text transform="translate(364.00 80.59) scale(0.88 1)" font-size="6.0" class="b" text-anchor="end">40</text>
<path d="M365.30 62.56L367.50 62.56" stroke="#000" stroke-width="1.0"/>
<text transform="translate(364.00 64.71) scale(0.88 1)" font-size="6.0" class="b" text-anchor="end">60</text>
<path d="M365.30 46.68L367.50 46.68" stroke="#000" stroke-width="1.0"/>
<text transform="translate(364.00 48.83) scale(0.88 1)" font-size="6.0" class="b" text-anchor="end">80</text>
<path d="M365.30 30.80L367.50 30.80" stroke="#000" stroke-width="1.0"/>
<text transform="translate(364.00 32.95) scale(0.88 1)" font-size="6.0" class="b" text-anchor="end">100</text>
<path d="M366.90 110.20L487.50 110.20" stroke="#000" stroke-width="1.3"/>
<path d="M367.70 110.20L367.70 112.80" stroke="#000" stroke-width="1.0"/>
<text transform="translate(367.70 118.70) scale(0.88 1)" font-size="6.0" class="b" text-anchor="middle">0</text>
<path d="M379.63 110.20L379.63 112.80" stroke="#000" stroke-width="1.0"/>
<text transform="translate(379.63 118.70) scale(0.88 1)" font-size="6.0" class="b" text-anchor="middle">4</text>
<path d="M391.56 110.20L391.56 112.80" stroke="#000" stroke-width="1.0"/>
<text transform="translate(391.56 118.70) scale(0.88 1)" font-size="6.0" class="b" text-anchor="middle">8</text>
<path d="M403.49 110.20L403.49 112.80" stroke="#000" stroke-width="1.0"/>
<text transform="translate(403.49 118.70) scale(0.88 1)" font-size="6.0" class="b" text-anchor="middle">12</text>
<path d="M415.42 110.20L415.42 112.80" stroke="#000" stroke-width="1.0"/>
<text transform="translate(415.42 118.70) scale(0.88 1)" font-size="6.0" class="b" text-anchor="middle">16</text>
<path d="M427.35 110.20L427.35 112.80" stroke="#000" stroke-width="1.0"/>
<text transform="translate(427.35 118.70) scale(0.88 1)" font-size="6.0" class="b" text-anchor="middle">20</text>
<path d="M439.28 110.20L439.28 112.80" stroke="#000" stroke-width="1.0"/>
<text transform="translate(439.28 118.70) scale(0.88 1)" font-size="6.0" class="b" text-anchor="middle">24</text>
<path d="M451.21 110.20L451.21 112.80" stroke="#000" stroke-width="1.0"/>
<text transform="translate(451.21 118.70) scale(0.88 1)" font-size="6.0" class="b" text-anchor="middle">28</text>
<path d="M463.14 110.20L463.14 112.80" stroke="#000" stroke-width="1.0"/>
<text transform="translate(463.14 118.70) scale(0.88 1)" font-size="6.0" class="b" text-anchor="middle">32</text>
<path d="M475.07 110.20L475.07 112.80" stroke="#000" stroke-width="1.0"/>
<text transform="translate(475.07 118.70) scale(0.88 1)" font-size="6.0" class="b" text-anchor="middle">36</text>
<path d="M487.00 110.20L487.00 112.80" stroke="#000" stroke-width="1.0"/>
<text transform="translate(487.00 118.70) scale(0.88 1)" font-size="6.0" class="b" text-anchor="middle">40</text>
<text x="356.70" y="14.80" font-size="12.5" class="n" letter-spacing="-0.35">iii</text>
<text x="350.30" y="69.40" font-size="7.9" class="b" text-anchor="middle" transform="rotate(-90 350.30 69.40)">Percent survival</text>
<text x="427.40" y="129.00" font-size="7.85" class="b" text-anchor="middle">Days post challenge</text>
<polyline points="409.45,30.80 410.05,30.80 410.05,38.74 411.24,38.74 411.24,46.68 412.44,46.68 412.44,54.62 413.63,54.62 413.63,62.56 414.53,62.56 414.53,78.44 415.42,78.44 415.42,94.32 416.31,94.32 416.31,110.20" fill="none" stroke="#000" stroke-width="1.6" stroke-linejoin="miter" stroke-dasharray="3,1.4"/>
<polyline points="433.31,30.80 433.31,30.80 433.31,38.74 436.30,38.74 436.30,54.62 451.21,54.62 451.21,62.56 454.19,62.56 454.19,70.50 463.14,70.50 463.14,86.38 478.05,86.38 478.05,94.32 481.03,94.32 481.03,102.26 487.00,102.26 487.00,102.26" fill="none" stroke="#000" stroke-width="1.6" stroke-linejoin="miter"/>
<polyline points="367.70,30.80 487.00,30.80 487.00,30.80" fill="none" stroke="#555" stroke-width="1.1" stroke-linejoin="miter"/>
<path d="M419.20 91.40L430.70 91.40" stroke="#000" stroke-width="1.5" stroke-dasharray="3,1.3"/>
<text x="432.60" y="93.55" font-size="5.8" class="b">TCD BM only</text>
<path d="M419.20 97.70L430.70 97.70" stroke="#000" stroke-width="1.5"/>
<text x="432.60" y="99.85" font-size="5.8" class="b">CD62L-</text>
<path d="M419.20 104.00L430.70 104.00" stroke="#444" stroke-width="0.8"/>
<path d="M424.95 103.06L425.89 104.71L424.00 104.71Z"/>
<text x="432.60" y="106.15" font-size="5.8" class="b">Mock challenged</text>
<text x="1.90" y="154.20" font-size="14.0" class="b" stroke-width="0.5">B</text>
<text x="17.50" y="208.60" font-size="8.5" class="b" text-anchor="middle" transform="rotate(-90 17.50 208.60)">Weight</text>
<text x="17.40" y="332.10" font-size="8.15" class="b" text-anchor="middle" transform="rotate(-90 17.40 332.10)">Body temperature</text>
<text x="21.90" y="436.70" font-size="8.1" class="b" text-anchor="middle" transform="rotate(-90 21.90 436.70)">Survival</text>
<path d="M59.50 165.00L59.50 250.25" stroke="#000" stroke-width="1.3"/>
<path d="M57.30 248.40L59.50 248.40" stroke="#000" stroke-width="1.0"/>
<text transform="translate(56.00 250.55) scale(0.88 1)" font-size="6.0" class="b" text-anchor="end">60</text>
<path d="M57.30 231.84L59.50 231.84" stroke="#000" stroke-width="1.0"/>
<text transform="translate(56.00 233.99) scale(0.88 1)" font-size="6.0" class="b" text-anchor="end">70</text>
<path d="M57.30 215.28L59.50 215.28" stroke="#000" stroke-width="1.0"/>
<text transform="translate(56.00 217.43) scale(0.88 1)" font-size="6.0" class="b" text-anchor="end">80</text>
<path d="M57.30 198.72L59.50 198.72" stroke="#000" stroke-width="1.0"/>
<text transform="translate(56.00 200.87) scale(0.88 1)" font-size="6.0" class="b" text-anchor="end">90</text>
<path d="M57.30 182.16L59.50 182.16" stroke="#000" stroke-width="1.0"/>
<text transform="translate(56.00 184.31) scale(0.88 1)" font-size="6.0" class="b" text-anchor="end">100</text>
<path d="M57.30 165.60L59.50 165.60" stroke="#000" stroke-width="1.0"/>
<text transform="translate(56.00 167.75) scale(0.88 1)" font-size="6.0" class="b" text-anchor="end">110</text>
<path d="M58.90 249.60L184.90 249.60" stroke="#000" stroke-width="1.3"/>
<path d="M59.50 249.60L59.50 252.20" stroke="#000" stroke-width="1.0"/>
<text transform="translate(59.50 257.80) scale(0.88 1)" font-size="6.0" class="b" text-anchor="middle">0</text>
<path d="M71.99 249.60L71.99 252.20" stroke="#000" stroke-width="1.0"/>
<text transform="translate(71.99 257.80) scale(0.88 1)" font-size="6.0" class="b" text-anchor="middle">4</text>
<path d="M84.48 249.60L84.48 252.20" stroke="#000" stroke-width="1.0"/>
<text transform="translate(84.48 257.80) scale(0.88 1)" font-size="6.0" class="b" text-anchor="middle">8</text>
<path d="M96.97 249.60L96.97 252.20" stroke="#000" stroke-width="1.0"/>
<text transform="translate(96.97 257.80) scale(0.88 1)" font-size="6.0" class="b" text-anchor="middle">12</text>
<path d="M109.46 249.60L109.46 252.20" stroke="#000" stroke-width="1.0"/>
<text transform="translate(109.46 257.80) scale(0.88 1)" font-size="6.0" class="b" text-anchor="middle">16</text>
<path d="M121.95 249.60L121.95 252.20" stroke="#000" stroke-width="1.0"/>
<text transform="translate(121.95 257.80) scale(0.88 1)" font-size="6.0" class="b" text-anchor="middle">20</text>
<path d="M134.44 249.60L134.44 252.20" stroke="#000" stroke-width="1.0"/>
<text transform="translate(134.44 257.80) scale(0.88 1)" font-size="6.0" class="b" text-anchor="middle">24</text>
<path d="M146.93 249.60L146.93 252.20" stroke="#000" stroke-width="1.0"/>
<text transform="translate(146.93 257.80) scale(0.88 1)" font-size="6.0" class="b" text-anchor="middle">28</text>
<path d="M159.42 249.60L159.42 252.20" stroke="#000" stroke-width="1.0"/>
<text transform="translate(159.42 257.80) scale(0.88 1)" font-size="6.0" class="b" text-anchor="middle">32</text>
<path d="M171.91 249.60L171.91 252.20" stroke="#000" stroke-width="1.0"/>
<text transform="translate(171.91 257.80) scale(0.88 1)" font-size="6.0" class="b" text-anchor="middle">36</text>
<path d="M184.40 249.60L184.40 252.20" stroke="#000" stroke-width="1.0"/>
<text transform="translate(184.40 257.80) scale(0.88 1)" font-size="6.0" class="b" text-anchor="middle">40</text>
<text x="124.85" y="158.00" font-size="8.3" class="b" text-anchor="middle">B6 CD45.2 BM</text>
<text x="42.80" y="206.50" font-size="7.85" class="b" text-anchor="middle" transform="rotate(-90 42.80 206.50)">Percent initial weight</text>
<text x="121.70" y="268.90" font-size="8.0" class="b" text-anchor="middle">Days post challenge</text>
<polyline points="59.50,182.16 62.62,179.18 65.75,178.52 68.87,177.19 71.99,176.36 75.11,178.85 78.23,178.85 81.36,179.68 84.48,180.01 87.60,179.18 90.72,182.16 93.85,180.84 96.97,178.52 100.09,180.50 103.22,180.84 106.34,180.84 109.46,180.84 112.58,181.66 115.70,182.16 118.83,180.84 121.95,182.16 125.07,180.84 128.19,181.66 131.32,182.99 134.44,182.99 137.56,175.54 140.69,178.02 143.81,173.88 146.93,177.69 150.05,176.20 153.18,175.20 156.30,175.70 159.42,178.68 162.54,181.50 165.67,178.68 168.79,177.69 171.91,178.02 175.03,178.02 178.16,178.02 181.28,184.64" fill="none" stroke="#000" stroke-width="1.35" stroke-linejoin="miter"/>
<path d="M68.87 175.54L68.87 178.85" stroke="#000" stroke-width="1.0"/>
<path d="M66.87 175.54L70.87 175.54" stroke="#000" stroke-width="1.0"/>
<path d="M66.87 178.85L70.87 178.85" stroke="#000" stroke-width="1.0"/>
<path d="M71.99 174.71L71.99 178.02" stroke="#000" stroke-width="1.0"/>
<path d="M69.99 174.71L73.99 174.71" stroke="#000" stroke-width="1.0"/>
<path d="M69.99 178.02L73.99 178.02" stroke="#000" stroke-width="1.0"/>
<path d="M75.11 177.19L75.11 180.50" stroke="#000" stroke-width="1.0"/>
<path d="M73.11 177.19L77.11 177.19" stroke="#000" stroke-width="1.0"/>
<path d="M73.11 180.50L77.11 180.50" stroke="#000" stroke-width="1.0"/>
<path d="M78.23 177.19L78.23 180.50" stroke="#000" stroke-width="1.0"/>
<path d="M76.23 177.19L80.23 177.19" stroke="#000" stroke-width="1.0"/>
<path d="M76.23 180.50L80.23 180.50" stroke="#000" stroke-width="1.0"/>
<path d="M81.36 178.02L81.36 181.33" stroke="#000" stroke-width="1.0"/>
<path d="M79.36 178.02L83.36 178.02" stroke="#000" stroke-width="1.0"/>
<path d="M79.36 181.33L83.36 181.33" stroke="#000" stroke-width="1.0"/>
<path d="M84.48 178.35L84.48 181.66" stroke="#000" stroke-width="1.0"/>
<path d="M82.48 178.35L86.48 178.35" stroke="#000" stroke-width="1.0"/>
<path d="M82.48 181.66L86.48 181.66" stroke="#000" stroke-width="1.0"/>
<path d="M87.60 177.52L87.60 180.84" stroke="#000" stroke-width="1.0"/>
<path d="M85.60 177.52L89.60 177.52" stroke="#000" stroke-width="1.0"/>
<path d="M85.60 180.84L89.60 180.84" stroke="#000" stroke-width="1.0"/>
<path d="M90.72 180.50L90.72 183.82" stroke="#000" stroke-width="1.0"/>
<path d="M88.72 180.50L92.72 180.50" stroke="#000" stroke-width="1.0"/>
<path d="M88.72 183.82L92.72 183.82" stroke="#000" stroke-width="1.0"/>
<path d="M93.85 179.18L93.85 182.49" stroke="#000" stroke-width="1.0"/>
<path d="M91.85 179.18L95.85 179.18" stroke="#000" stroke-width="1.0"/>
<path d="M91.85 182.49L95.85 182.49" stroke="#000" stroke-width="1.0"/>
<path d="M96.97 176.86L96.97 180.17" stroke="#000" stroke-width="1.0"/>
<path d="M94.97 176.86L98.97 176.86" stroke="#000" stroke-width="1.0"/>
<path d="M94.97 180.17L98.97 180.17" stroke="#000" stroke-width="1.0"/>
<path d="M100.09 178.85L100.09 182.16" stroke="#000" stroke-width="1.0"/>
<path d="M98.09 178.85L102.09 178.85" stroke="#000" stroke-width="1.0"/>
<path d="M98.09 182.16L102.09 182.16" stroke="#000" stroke-width="1.0"/>
<path d="M103.22 179.18L103.22 182.49" stroke="#000" stroke-width="1.0"/>
<path d="M101.22 179.18L105.22 179.18" stroke="#000" stroke-width="1.0"/>
<path d="M101.22 182.49L105.22 182.49" stroke="#000" stroke-width="1.0"/>
<path d="M106.34 179.18L106.34 182.49" stroke="#000" stroke-width="1.0"/>
<path d="M104.34 179.18L108.34 179.18" stroke="#000" stroke-width="1.0"/>
<path d="M104.34 182.49L108.34 182.49" stroke="#000" stroke-width="1.0"/>
<path d="M109.46 179.18L109.46 182.49" stroke="#000" stroke-width="1.0"/>
<path d="M107.46 179.18L111.46 179.18" stroke="#000" stroke-width="1.0"/>
<path d="M107.46 182.49L111.46 182.49" stroke="#000" stroke-width="1.0"/>
<path d="M112.58 180.01L112.58 183.32" stroke="#000" stroke-width="1.0"/>
<path d="M110.58 180.01L114.58 180.01" stroke="#000" stroke-width="1.0"/>
<path d="M110.58 183.32L114.58 183.32" stroke="#000" stroke-width="1.0"/>
<path d="M115.70 180.50L115.70 183.82" stroke="#000" stroke-width="1.0"/>
<path d="M113.70 180.50L117.70 180.50" stroke="#000" stroke-width="1.0"/>
<path d="M113.70 183.82L117.70 183.82" stroke="#000" stroke-width="1.0"/>
<path d="M118.83 179.18L118.83 182.49" stroke="#000" stroke-width="1.0"/>
<path d="M116.83 179.18L120.83 179.18" stroke="#000" stroke-width="1.0"/>
<path d="M116.83 182.49L120.83 182.49" stroke="#000" stroke-width="1.0"/>
<path d="M121.95 180.50L121.95 183.82" stroke="#000" stroke-width="1.0"/>
<path d="M119.95 180.50L123.95 180.50" stroke="#000" stroke-width="1.0"/>
<path d="M119.95 183.82L123.95 183.82" stroke="#000" stroke-width="1.0"/>
<path d="M125.07 179.18L125.07 182.49" stroke="#000" stroke-width="1.0"/>
<path d="M123.07 179.18L127.07 179.18" stroke="#000" stroke-width="1.0"/>
<path d="M123.07 182.49L127.07 182.49" stroke="#000" stroke-width="1.0"/>
<path d="M128.19 180.01L128.19 183.32" stroke="#000" stroke-width="1.0"/>
<path d="M126.19 180.01L130.19 180.01" stroke="#000" stroke-width="1.0"/>
<path d="M126.19 183.32L130.19 183.32" stroke="#000" stroke-width="1.0"/>
<path d="M131.32 181.33L131.32 184.64" stroke="#000" stroke-width="1.0"/>
<path d="M129.32 181.33L133.32 181.33" stroke="#000" stroke-width="1.0"/>
<path d="M129.32 184.64L133.32 184.64" stroke="#000" stroke-width="1.0"/>
<path d="M134.44 181.33L134.44 184.64" stroke="#000" stroke-width="1.0"/>
<path d="M132.44 181.33L136.44 181.33" stroke="#000" stroke-width="1.0"/>
<path d="M132.44 184.64L136.44 184.64" stroke="#000" stroke-width="1.0"/>
<path d="M137.56 173.88L137.56 177.19" stroke="#000" stroke-width="1.0"/>
<path d="M135.56 173.88L139.56 173.88" stroke="#000" stroke-width="1.0"/>
<path d="M135.56 177.19L139.56 177.19" stroke="#000" stroke-width="1.0"/>
<path d="M140.69 176.36L140.69 179.68" stroke="#000" stroke-width="1.0"/>
<path d="M138.69 176.36L142.69 176.36" stroke="#000" stroke-width="1.0"/>
<path d="M138.69 179.68L142.69 179.68" stroke="#000" stroke-width="1.0"/>
<path d="M143.81 172.22L143.81 175.54" stroke="#000" stroke-width="1.0"/>
<path d="M141.81 172.22L145.81 172.22" stroke="#000" stroke-width="1.0"/>
<path d="M141.81 175.54L145.81 175.54" stroke="#000" stroke-width="1.0"/>
<path d="M146.93 176.03L146.93 179.34" stroke="#000" stroke-width="1.0"/>
<path d="M144.93 176.03L148.93 176.03" stroke="#000" stroke-width="1.0"/>
<path d="M144.93 179.34L148.93 179.34" stroke="#000" stroke-width="1.0"/>
<path d="M150.05 174.54L150.05 177.85" stroke="#000" stroke-width="1.0"/>
<path d="M148.05 174.54L152.05 174.54" stroke="#000" stroke-width="1.0"/>
<path d="M148.05 177.85L152.05 177.85" stroke="#000" stroke-width="1.0"/>
<path d="M153.18 173.55L153.18 176.86" stroke="#000" stroke-width="1.0"/>
<path d="M151.18 173.55L155.18 173.55" stroke="#000" stroke-width="1.0"/>
<path d="M151.18 176.86L155.18 176.86" stroke="#000" stroke-width="1.0"/>
<path d="M156.30 174.05L156.30 177.36" stroke="#000" stroke-width="1.0"/>
<path d="M154.30 174.05L158.30 174.05" stroke="#000" stroke-width="1.0"/>
<path d="M154.30 177.36L158.30 177.36" stroke="#000" stroke-width="1.0"/>
<path d="M159.42 177.03L159.42 180.34" stroke="#000" stroke-width="1.0"/>
<path d="M157.42 177.03L161.42 177.03" stroke="#000" stroke-width="1.0"/>
<path d="M157.42 180.34L161.42 180.34" stroke="#000" stroke-width="1.0"/>
<path d="M162.54 179.84L162.54 183.15" stroke="#000" stroke-width="1.0"/>
<path d="M160.54 179.84L164.54 179.84" stroke="#000" stroke-width="1.0"/>
<path d="M160.54 183.15L164.54 183.15" stroke="#000" stroke-width="1.0"/>
<path d="M165.67 177.03L165.67 180.34" stroke="#000" stroke-width="1.0"/>
<path d="M163.67 177.03L167.67 177.03" stroke="#000" stroke-width="1.0"/>
<path d="M163.67 180.34L167.67 180.34" stroke="#000" stroke-width="1.0"/>
<path d="M168.79 176.03L168.79 179.34" stroke="#000" stroke-width="1.0"/>
<path d="M166.79 176.03L170.79 176.03" stroke="#000" stroke-width="1.0"/>
<path d="M166.79 179.34L170.79 179.34" stroke="#000" stroke-width="1.0"/>
<path d="M171.91 176.36L171.91 179.68" stroke="#000" stroke-width="1.0"/>
<path d="M169.91 176.36L173.91 176.36" stroke="#000" stroke-width="1.0"/>
<path d="M169.91 179.68L173.91 179.68" stroke="#000" stroke-width="1.0"/>
<path d="M175.03 176.36L175.03 179.68" stroke="#000" stroke-width="1.0"/>
<path d="M173.03 176.36L177.03 176.36" stroke="#000" stroke-width="1.0"/>
<path d="M173.03 179.68L177.03 179.68" stroke="#000" stroke-width="1.0"/>
<path d="M178.16 176.36L178.16 179.68" stroke="#000" stroke-width="1.0"/>
<path d="M176.16 176.36L180.16 176.36" stroke="#000" stroke-width="1.0"/>
<path d="M176.16 179.68L180.16 179.68" stroke="#000" stroke-width="1.0"/>
<path d="M181.28 182.99L181.28 186.30" stroke="#000" stroke-width="1.0"/>
<path d="M179.28 182.99L183.28 182.99" stroke="#000" stroke-width="1.0"/>
<path d="M179.28 186.30L183.28 186.30" stroke="#000" stroke-width="1.0"/>
<rect x="58.05" y="180.71" width="2.90" height="2.90" class="mo"/>
<rect x="61.17" y="177.73" width="2.90" height="2.90" class="mo"/>
<rect x="64.30" y="177.07" width="2.90" height="2.90" class="mo"/>
<rect x="67.42" y="175.74" width="2.90" height="2.90" class="mo"/>
<rect x="70.54" y="174.91" width="2.90" height="2.90" class="mo"/>
<rect x="73.66" y="177.40" width="2.90" height="2.90" class="mo"/>
<rect x="76.78" y="177.40" width="2.90" height="2.90" class="mo"/>
<rect x="79.91" y="178.23" width="2.90" height="2.90" class="mo"/>
<rect x="83.03" y="178.56" width="2.90" height="2.90" class="mo"/>
<rect x="86.15" y="177.73" width="2.90" height="2.90" class="mo"/>
<rect x="89.27" y="180.71" width="2.90" height="2.90" class="mo"/>
<rect x="92.40" y="179.39" width="2.90" height="2.90" class="mo"/>
<rect x="95.52" y="177.07" width="2.90" height="2.90" class="mo"/>
<rect x="98.64" y="179.05" width="2.90" height="2.90" class="mo"/>
<rect x="101.77" y="179.39" width="2.90" height="2.90" class="mo"/>
<rect x="104.89" y="179.39" width="2.90" height="2.90" class="mo"/>
<rect x="108.01" y="179.39" width="2.90" height="2.90" class="mo"/>
<rect x="111.13" y="180.21" width="2.90" height="2.90" class="mo"/>
<rect x="114.25" y="180.71" width="2.90" height="2.90" class="mo"/>
<rect x="117.38" y="179.39" width="2.90" height="2.90" class="mo"/>
<rect x="120.50" y="180.71" width="2.90" height="2.90" class="mo"/>
<rect x="123.62" y="179.39" width="2.90" height="2.90" class="mo"/>
<rect x="126.74" y="180.21" width="2.90" height="2.90" class="mo"/>
<rect x="129.87" y="181.54" width="2.90" height="2.90" class="mo"/>
<rect x="132.99" y="181.54" width="2.90" height="2.90" class="mo"/>
<rect x="136.11" y="174.09" width="2.90" height="2.90" class="mo"/>
<rect x="139.24" y="176.57" width="2.90" height="2.90" class="mo"/>
<rect x="142.36" y="172.43" width="2.90" height="2.90" class="mo"/>
<rect x="145.48" y="176.24" width="2.90" height="2.90" class="mo"/>
<rect x="148.60" y="174.75" width="2.90" height="2.90" class="mo"/>
<rect x="151.73" y="173.75" width="2.90" height="2.90" class="mo"/>
<rect x="154.85" y="174.25" width="2.90" height="2.90" class="mo"/>
<rect x="157.97" y="177.23" width="2.90" height="2.90" class="mo"/>
<rect x="161.09" y="180.05" width="2.90" height="2.90" class="mo"/>
<rect x="164.22" y="177.23" width="2.90" height="2.90" class="mo"/>
<rect x="167.34" y="176.24" width="2.90" height="2.90" class="mo"/>
<rect x="170.46" y="176.57" width="2.90" height="2.90" class="mo"/>
<rect x="173.58" y="176.57" width="2.90" height="2.90" class="mo"/>
<rect x="176.71" y="176.57" width="2.90" height="2.90" class="mo"/>
<rect x="179.83" y="183.19" width="2.90" height="2.90" class="mo"/>
<polyline points="59.50,182.16 62.62,180.50 65.75,180.50 68.87,178.85 71.99,180.50 75.11,182.16 78.23,182.16 81.36,183.82 84.48,188.78 87.60,193.75 90.72,200.38 93.85,207.00 96.97,213.62 100.09,216.94 103.22,218.59 106.34,220.25 109.46,218.59 112.58,223.56" fill="none" stroke="#000" stroke-width="1.35" stroke-linejoin="miter"/>
<path d="M62.62 178.85L62.62 182.16" stroke="#000" stroke-width="1.0"/>
<path d="M60.62 178.85L64.62 178.85" stroke="#000" stroke-width="1.0"/>
<path d="M60.62 182.16L64.62 182.16" stroke="#000" stroke-width="1.0"/>
<path d="M65.75 178.85L65.75 182.16" stroke="#000" stroke-width="1.0"/>
<path d="M63.75 178.85L67.75 178.85" stroke="#000" stroke-width="1.0"/>
<path d="M63.75 182.16L67.75 182.16" stroke="#000" stroke-width="1.0"/>
<path d="M68.87 177.19L68.87 180.50" stroke="#000" stroke-width="1.0"/>
<path d="M66.87 177.19L70.87 177.19" stroke="#000" stroke-width="1.0"/>
<path d="M66.87 180.50L70.87 180.50" stroke="#000" stroke-width="1.0"/>
<path d="M71.99 178.85L71.99 182.16" stroke="#000" stroke-width="1.0"/>
<path d="M69.99 178.85L73.99 178.85" stroke="#000" stroke-width="1.0"/>
<path d="M69.99 182.16L73.99 182.16" stroke="#000" stroke-width="1.0"/>
<path d="M75.11 180.50L75.11 183.82" stroke="#000" stroke-width="1.0"/>
<path d="M73.11 180.50L77.11 180.50" stroke="#000" stroke-width="1.0"/>
<path d="M73.11 183.82L77.11 183.82" stroke="#000" stroke-width="1.0"/>
<path d="M78.23 180.50L78.23 183.82" stroke="#000" stroke-width="1.0"/>
<path d="M76.23 180.50L80.23 180.50" stroke="#000" stroke-width="1.0"/>
<path d="M76.23 183.82L80.23 183.82" stroke="#000" stroke-width="1.0"/>
<path d="M81.36 182.16L81.36 185.47" stroke="#000" stroke-width="1.0"/>
<path d="M79.36 182.16L83.36 182.16" stroke="#000" stroke-width="1.0"/>
<path d="M79.36 185.47L83.36 185.47" stroke="#000" stroke-width="1.0"/>
<path d="M84.48 187.13L84.48 190.44" stroke="#000" stroke-width="1.0"/>
<path d="M82.48 187.13L86.48 187.13" stroke="#000" stroke-width="1.0"/>
<path d="M82.48 190.44L86.48 190.44" stroke="#000" stroke-width="1.0"/>
<path d="M87.60 192.10L87.60 195.41" stroke="#000" stroke-width="1.0"/>
<path d="M85.60 192.10L89.60 192.10" stroke="#000" stroke-width="1.0"/>
<path d="M85.60 195.41L89.60 195.41" stroke="#000" stroke-width="1.0"/>
<path d="M90.72 197.06L90.72 203.69" stroke="#000" stroke-width="1.0"/>
<path d="M88.72 197.06L92.72 197.06" stroke="#000" stroke-width="1.0"/>
<path d="M88.72 203.69L92.72 203.69" stroke="#000" stroke-width="1.0"/>
<path d="M93.85 203.69L93.85 210.31" stroke="#000" stroke-width="1.0"/>
<path d="M91.85 203.69L95.85 203.69" stroke="#000" stroke-width="1.0"/>
<path d="M91.85 210.31L95.85 210.31" stroke="#000" stroke-width="1.0"/>
<path d="M96.97 210.31L96.97 216.94" stroke="#000" stroke-width="1.0"/>
<path d="M94.97 210.31L98.97 210.31" stroke="#000" stroke-width="1.0"/>
<path d="M94.97 216.94L98.97 216.94" stroke="#000" stroke-width="1.0"/>
<path d="M100.09 213.62L100.09 220.25" stroke="#000" stroke-width="1.0"/>
<path d="M98.09 213.62L102.09 213.62" stroke="#000" stroke-width="1.0"/>
<path d="M98.09 220.25L102.09 220.25" stroke="#000" stroke-width="1.0"/>
<path d="M103.22 215.28L103.22 221.90" stroke="#000" stroke-width="1.0"/>
<path d="M101.22 215.28L105.22 215.28" stroke="#000" stroke-width="1.0"/>
<path d="M101.22 221.90L105.22 221.90" stroke="#000" stroke-width="1.0"/>
<path d="M106.34 216.94L106.34 223.56" stroke="#000" stroke-width="1.0"/>
<path d="M104.34 216.94L108.34 216.94" stroke="#000" stroke-width="1.0"/>
<path d="M104.34 223.56L108.34 223.56" stroke="#000" stroke-width="1.0"/>
<path d="M109.46 215.28L109.46 221.90" stroke="#000" stroke-width="1.0"/>
<path d="M107.46 215.28L111.46 215.28" stroke="#000" stroke-width="1.0"/>
<path d="M107.46 221.90L111.46 221.90" stroke="#000" stroke-width="1.0"/>
<path d="M112.58 220.25L112.58 226.87" stroke="#000" stroke-width="1.0"/>
<path d="M110.58 220.25L114.58 220.25" stroke="#000" stroke-width="1.0"/>
<path d="M110.58 226.87L114.58 226.87" stroke="#000" stroke-width="1.0"/>
<circle cx="59.50" cy="182.16" r="1.45" class="mo"/>
<circle cx="62.62" cy="180.50" r="1.45" class="mo"/>
<circle cx="65.75" cy="180.50" r="1.45" class="mo"/>
<circle cx="68.87" cy="178.85" r="1.45" class="mo"/>
<circle cx="71.99" cy="180.50" r="1.45" class="mo"/>
<circle cx="75.11" cy="182.16" r="1.45" class="mo"/>
<circle cx="78.23" cy="182.16" r="1.45" class="mo"/>
<circle cx="81.36" cy="183.82" r="1.45" class="mo"/>
<circle cx="84.48" cy="188.78" r="1.45" class="mo"/>
<circle cx="87.60" cy="193.75" r="1.45" class="mo"/>
<circle cx="90.72" cy="200.38" r="1.45" class="mo"/>
<circle cx="93.85" cy="207.00" r="1.45" class="mo"/>
<circle cx="96.97" cy="213.62" r="1.45" class="mo"/>
<circle cx="100.09" cy="216.94" r="1.45" class="mo"/>
<circle cx="103.22" cy="218.59" r="1.45" class="mo"/>
<circle cx="106.34" cy="220.25" r="1.45" class="mo"/>
<circle cx="109.46" cy="218.59" r="1.45" class="mo"/>
<circle cx="112.58" cy="223.56" r="1.45" class="mo"/>
<polyline points="59.50,182.16 62.62,182.16 65.75,183.82 68.87,182.16 71.99,182.16 75.11,182.16 78.23,182.16 81.36,182.16 84.48,182.16 87.60,183.82 90.72,188.78 93.85,192.10 96.97,195.41 100.09,198.72 103.22,202.03 106.34,207.00 109.46,210.31 112.58,211.97 115.70,215.28 118.83,218.59 121.95,215.28 125.07,213.62 128.19,211.97 131.32,213.62 134.44,211.97 137.56,210.31 140.69,205.34 143.81,207.00 146.93,208.66 150.05,207.00 153.18,207.00 156.30,210.31 159.42,211.97 162.54,213.62 165.67,215.28 168.79,220.25 171.91,215.28 175.03,218.59 178.16,220.25 181.28,221.90 184.40,225.22" fill="none" stroke="#000" stroke-width="1.35" stroke-linejoin="miter"/>
<path d="M62.62 180.50L62.62 183.82" stroke="#000" stroke-width="1.0"/>
<path d="M60.62 180.50L64.62 180.50" stroke="#000" stroke-width="1.0"/>
<path d="M60.62 183.82L64.62 183.82" stroke="#000" stroke-width="1.0"/>
<path d="M65.75 182.16L65.75 185.47" stroke="#000" stroke-width="1.0"/>
<path d="M63.75 182.16L67.75 182.16" stroke="#000" stroke-width="1.0"/>
<path d="M63.75 185.47L67.75 185.47" stroke="#000" stroke-width="1.0"/>
<path d="M68.87 180.50L68.87 183.82" stroke="#000" stroke-width="1.0"/>
<path d="M66.87 180.50L70.87 180.50" stroke="#000" stroke-width="1.0"/>
<path d="M66.87 183.82L70.87 183.82" stroke="#000" stroke-width="1.0"/>
<path d="M71.99 180.50L71.99 183.82" stroke="#000" stroke-width="1.0"/>
<path d="M69.99 180.50L73.99 180.50" stroke="#000" stroke-width="1.0"/>
<path d="M69.99 183.82L73.99 183.82" stroke="#000" stroke-width="1.0"/>
<path d="M75.11 180.50L75.11 183.82" stroke="#000" stroke-width="1.0"/>
<path d="M73.11 180.50L77.11 180.50" stroke="#000" stroke-width="1.0"/>
<path d="M73.11 183.82L77.11 183.82" stroke="#000" stroke-width="1.0"/>
<path d="M78.23 180.50L78.23 183.82" stroke="#000" stroke-width="1.0"/>
<path d="M76.23 180.50L80.23 180.50" stroke="#000" stroke-width="1.0"/>
<path d="M76.23 183.82L80.23 183.82" stroke="#000" stroke-width="1.0"/>
<path d="M81.36 180.50L81.36 183.82" stroke="#000" stroke-width="1.0"/>
<path d="M79.36 180.50L83.36 180.50" stroke="#000" stroke-width="1.0"/>
<path d="M79.36 183.82L83.36 183.82" stroke="#000" stroke-width="1.0"/>
<path d="M84.48 180.50L84.48 183.82" stroke="#000" stroke-width="1.0"/>
<path d="M82.48 180.50L86.48 180.50" stroke="#000" stroke-width="1.0"/>
<path d="M82.48 183.82L86.48 183.82" stroke="#000" stroke-width="1.0"/>
<path d="M87.60 182.16L87.60 185.47" stroke="#000" stroke-width="1.0"/>
<path d="M85.60 182.16L89.60 182.16" stroke="#000" stroke-width="1.0"/>
<path d="M85.60 185.47L89.60 185.47" stroke="#000" stroke-width="1.0"/>
<path d="M90.72 186.30L90.72 191.27" stroke="#000" stroke-width="1.0"/>
<path d="M88.72 186.30L92.72 186.30" stroke="#000" stroke-width="1.0"/>
<path d="M88.72 191.27L92.72 191.27" stroke="#000" stroke-width="1.0"/>
<path d="M93.85 188.78L93.85 195.41" stroke="#000" stroke-width="1.0"/>
<path d="M91.85 188.78L95.85 188.78" stroke="#000" stroke-width="1.0"/>
<path d="M91.85 195.41L95.85 195.41" stroke="#000" stroke-width="1.0"/>
<path d="M96.97 192.10L96.97 198.72" stroke="#000" stroke-width="1.0"/>
<path d="M94.97 192.10L98.97 192.10" stroke="#000" stroke-width="1.0"/>
<path d="M94.97 198.72L98.97 198.72" stroke="#000" stroke-width="1.0"/>
<path d="M100.09 195.41L100.09 202.03" stroke="#000" stroke-width="1.0"/>
<path d="M98.09 195.41L102.09 195.41" stroke="#000" stroke-width="1.0"/>
<path d="M98.09 202.03L102.09 202.03" stroke="#000" stroke-width="1.0"/>
<path d="M103.22 197.89L103.22 206.17" stroke="#000" stroke-width="1.0"/>
<path d="M101.22 197.89L105.22 197.89" stroke="#000" stroke-width="1.0"/>
<path d="M101.22 206.17L105.22 206.17" stroke="#000" stroke-width="1.0"/>
<path d="M106.34 202.86L106.34 211.14" stroke="#000" stroke-width="1.0"/>
<path d="M104.34 202.86L108.34 202.86" stroke="#000" stroke-width="1.0"/>
<path d="M104.34 211.14L108.34 211.14" stroke="#000" stroke-width="1.0"/>
<path d="M109.46 206.17L109.46 214.45" stroke="#000" stroke-width="1.0"/>
<path d="M107.46 206.17L111.46 206.17" stroke="#000" stroke-width="1.0"/>
<path d="M107.46 214.45L111.46 214.45" stroke="#000" stroke-width="1.0"/>
<path d="M112.58 207.83L112.58 216.11" stroke="#000" stroke-width="1.0"/>
<path d="M110.58 207.83L114.58 207.83" stroke="#000" stroke-width="1.0"/>
<path d="M110.58 216.11L114.58 216.11" stroke="#000" stroke-width="1.0"/>
<path d="M115.70 211.14L115.70 219.42" stroke="#000" stroke-width="1.0"/>
<path d="M113.70 211.14L117.70 211.14" stroke="#000" stroke-width="1.0"/>
<path d="M113.70 219.42L117.70 219.42" stroke="#000" stroke-width="1.0"/>
<path d="M118.83 214.45L118.83 222.73" stroke="#000" stroke-width="1.0"/>
<path d="M116.83 214.45L120.83 214.45" stroke="#000" stroke-width="1.0"/>
<path d="M116.83 222.73L120.83 222.73" stroke="#000" stroke-width="1.0"/>
<path d="M121.95 211.14L121.95 219.42" stroke="#000" stroke-width="1.0"/>
<path d="M119.95 211.14L123.95 211.14" stroke="#000" stroke-width="1.0"/>
<path d="M119.95 219.42L123.95 219.42" stroke="#000" stroke-width="1.0"/>
<path d="M125.07 209.48L125.07 217.76" stroke="#000" stroke-width="1.0"/>
<path d="M123.07 209.48L127.07 209.48" stroke="#000" stroke-width="1.0"/>
<path d="M123.07 217.76L127.07 217.76" stroke="#000" stroke-width="1.0"/>
<path d="M128.19 207.00L128.19 216.94" stroke="#000" stroke-width="1.0"/>
<path d="M126.19 207.00L130.19 207.00" stroke="#000" stroke-width="1.0"/>
<path d="M126.19 216.94L130.19 216.94" stroke="#000" stroke-width="1.0"/>
<path d="M131.32 208.66L131.32 218.59" stroke="#000" stroke-width="1.0"/>
<path d="M129.32 208.66L133.32 208.66" stroke="#000" stroke-width="1.0"/>
<path d="M129.32 218.59L133.32 218.59" stroke="#000" stroke-width="1.0"/>
<path d="M134.44 205.34L134.44 218.59" stroke="#000" stroke-width="1.0"/>
<path d="M132.44 205.34L136.44 205.34" stroke="#000" stroke-width="1.0"/>
<path d="M132.44 218.59L136.44 218.59" stroke="#000" stroke-width="1.0"/>
<path d="M137.56 203.69L137.56 216.94" stroke="#000" stroke-width="1.0"/>
<path d="M135.56 203.69L139.56 203.69" stroke="#000" stroke-width="1.0"/>
<path d="M135.56 216.94L139.56 216.94" stroke="#000" stroke-width="1.0"/>
<path d="M140.69 198.72L140.69 211.97" stroke="#000" stroke-width="1.0"/>
<path d="M138.69 198.72L142.69 198.72" stroke="#000" stroke-width="1.0"/>
<path d="M138.69 211.97L142.69 211.97" stroke="#000" stroke-width="1.0"/>
<path d="M143.81 200.38L143.81 213.62" stroke="#000" stroke-width="1.0"/>
<path d="M141.81 200.38L145.81 200.38" stroke="#000" stroke-width="1.0"/>
<path d="M141.81 213.62L145.81 213.62" stroke="#000" stroke-width="1.0"/>
<path d="M146.93 203.69L146.93 213.62" stroke="#000" stroke-width="1.0"/>
<path d="M144.93 203.69L148.93 203.69" stroke="#000" stroke-width="1.0"/>
<path d="M144.93 213.62L148.93 213.62" stroke="#000" stroke-width="1.0"/>
<path d="M150.05 202.03L150.05 211.97" stroke="#000" stroke-width="1.0"/>
<path d="M148.05 202.03L152.05 202.03" stroke="#000" stroke-width="1.0"/>
<path d="M148.05 211.97L152.05 211.97" stroke="#000" stroke-width="1.0"/>
<path d="M153.18 202.03L153.18 211.97" stroke="#000" stroke-width="1.0"/>
<path d="M151.18 202.03L155.18 202.03" stroke="#000" stroke-width="1.0"/>
<path d="M151.18 211.97L155.18 211.97" stroke="#000" stroke-width="1.0"/>
<path d="M156.30 205.34L156.30 215.28" stroke="#000" stroke-width="1.0"/>
<path d="M154.30 205.34L158.30 205.34" stroke="#000" stroke-width="1.0"/>
<path d="M154.30 215.28L158.30 215.28" stroke="#000" stroke-width="1.0"/>
<path d="M159.42 207.83L159.42 216.11" stroke="#000" stroke-width="1.0"/>
<path d="M157.42 207.83L161.42 207.83" stroke="#000" stroke-width="1.0"/>
<path d="M157.42 216.11L161.42 216.11" stroke="#000" stroke-width="1.0"/>
<path d="M162.54 209.48L162.54 217.76" stroke="#000" stroke-width="1.0"/>
<path d="M160.54 209.48L164.54 209.48" stroke="#000" stroke-width="1.0"/>
<path d="M160.54 217.76L164.54 217.76" stroke="#000" stroke-width="1.0"/>
<path d="M165.67 210.31L165.67 220.25" stroke="#000" stroke-width="1.0"/>
<path d="M163.67 210.31L167.67 210.31" stroke="#000" stroke-width="1.0"/>
<path d="M163.67 220.25L167.67 220.25" stroke="#000" stroke-width="1.0"/>
<path d="M168.79 215.28L168.79 225.22" stroke="#000" stroke-width="1.0"/>
<path d="M166.79 215.28L170.79 215.28" stroke="#000" stroke-width="1.0"/>
<path d="M166.79 225.22L170.79 225.22" stroke="#000" stroke-width="1.0"/>
<path d="M171.91 210.31L171.91 220.25" stroke="#000" stroke-width="1.0"/>
<path d="M169.91 210.31L173.91 210.31" stroke="#000" stroke-width="1.0"/>
<path d="M169.91 220.25L173.91 220.25" stroke="#000" stroke-width="1.0"/>
<path d="M175.03 213.62L175.03 223.56" stroke="#000" stroke-width="1.0"/>
<path d="M173.03 213.62L177.03 213.62" stroke="#000" stroke-width="1.0"/>
<path d="M173.03 223.56L177.03 223.56" stroke="#000" stroke-width="1.0"/>
<path d="M178.16 216.11L178.16 224.39" stroke="#000" stroke-width="1.0"/>
<path d="M176.16 216.11L180.16 216.11" stroke="#000" stroke-width="1.0"/>
<path d="M176.16 224.39L180.16 224.39" stroke="#000" stroke-width="1.0"/>
<path d="M181.28 217.76L181.28 226.04" stroke="#000" stroke-width="1.0"/>
<path d="M179.28 217.76L183.28 217.76" stroke="#000" stroke-width="1.0"/>
<path d="M179.28 226.04L183.28 226.04" stroke="#000" stroke-width="1.0"/>
<path d="M184.40 221.08L184.40 229.36" stroke="#000" stroke-width="1.0"/>
<path d="M182.40 221.08L186.40 221.08" stroke="#000" stroke-width="1.0"/>
<path d="M182.40 229.36L186.40 229.36" stroke="#000" stroke-width="1.0"/>
<path d="M59.50 180.06L61.60 183.73L57.40 183.73Z"/>
<path d="M62.62 180.06L64.72 183.73L60.52 183.73Z"/>
<path d="M65.75 181.72L67.84 185.39L63.65 185.39Z"/>
<path d="M68.87 180.06L70.97 183.73L66.77 183.73Z"/>
<path d="M71.99 180.06L74.09 183.73L69.89 183.73Z"/>
<path d="M75.11 180.06L77.21 183.73L73.01 183.73Z"/>
<path d="M78.23 180.06L80.33 183.73L76.14 183.73Z"/>
<path d="M81.36 180.06L83.46 183.73L79.26 183.73Z"/>
<path d="M84.48 180.06L86.58 183.73L82.38 183.73Z"/>
<path d="M87.60 181.72L89.70 185.39L85.50 185.39Z"/>
<path d="M90.72 186.68L92.82 190.36L88.62 190.36Z"/>
<path d="M93.85 190.00L95.95 193.67L91.75 193.67Z"/>
<path d="M96.97 193.31L99.07 196.98L94.87 196.98Z"/>
<path d="M100.09 196.62L102.19 200.29L97.99 200.29Z"/>
<path d="M103.22 199.93L105.31 203.61L101.12 203.61Z"/>
<path d="M106.34 204.90L108.44 208.57L104.24 208.57Z"/>
<path d="M109.46 208.21L111.56 211.89L107.36 211.89Z"/>
<path d="M112.58 209.87L114.68 213.54L110.48 213.54Z"/>
<path d="M115.70 213.18L117.80 216.85L113.61 216.85Z"/>
<path d="M118.83 216.49L120.93 220.17L116.73 220.17Z"/>
<path d="M121.95 213.18L124.05 216.85L119.85 216.85Z"/>
<path d="M125.07 211.52L127.17 215.20L122.97 215.20Z"/>
<path d="M128.19 209.87L130.29 213.54L126.09 213.54Z"/>
<path d="M131.32 211.52L133.42 215.20L129.22 215.20Z"/>
<path d="M134.44 209.87L136.54 213.54L132.34 213.54Z"/>
<path d="M137.56 208.21L139.66 211.89L135.46 211.89Z"/>
<path d="M140.69 203.24L142.78 206.92L138.59 206.92Z"/>
<path d="M143.81 204.90L145.91 208.57L141.71 208.57Z"/>
<path d="M146.93 206.56L149.03 210.23L144.83 210.23Z"/>
<path d="M150.05 204.90L152.15 208.57L147.95 208.57Z"/>
<path d="M153.18 204.90L155.28 208.57L151.08 208.57Z"/>
<path d="M156.30 208.21L158.40 211.89L154.20 211.89Z"/>
<path d="M159.42 209.87L161.52 213.54L157.32 213.54Z"/>
<path d="M162.54 211.52L164.64 215.20L160.44 215.20Z"/>
<path d="M165.67 213.18L167.77 216.85L163.57 216.85Z"/>
<path d="M168.79 218.15L170.89 221.82L166.69 221.82Z"/>
<path d="M171.91 213.18L174.01 216.85L169.81 216.85Z"/>
<path d="M175.03 216.49L177.13 220.17L172.93 220.17Z"/>
<path d="M178.16 218.15L180.25 221.82L176.06 221.82Z"/>
<path d="M181.28 219.80L183.38 223.48L179.18 223.48Z"/>
<path d="M184.40 223.12L186.50 226.79L182.30 226.79Z"/>
<path d="M63.50 231.40L75.00 231.40" stroke="#000" stroke-width="1.2"/>
<circle cx="69.25" cy="231.40" r="1.45" class="mo"/>
<text x="76.60" y="233.66" font-size="6.1" class="b">TCD BM only</text>
<path d="M63.50 237.45L75.00 237.45" stroke="#000" stroke-width="1.2"/>
<path d="M69.25 235.35L71.35 239.03L67.15 239.03Z"/>
<text x="76.60" y="239.71" font-size="6.1" class="b">CD62L-</text>
<path d="M63.50 243.50L75.00 243.50" stroke="#000" stroke-width="1.2"/>
<rect x="67.80" y="242.05" width="2.90" height="2.90" class="mo"/>
<text x="76.60" y="245.76" font-size="6.1" class="b">Mock challenged</text>
<path d="M225.90 166.20L225.90 250.95" stroke="#000" stroke-width="1.3"/>
<path d="M223.70 250.30L225.90 250.30" stroke="#000" stroke-width="1.0"/>
<text transform="translate(222.40 252.45) scale(0.88 1)" font-size="6.0" class="b" text-anchor="end">60</text>
<path d="M223.70 233.60L225.90 233.60" stroke="#000" stroke-width="1.0"/>
<text transform="translate(222.40 235.75) scale(0.88 1)" font-size="6.0" class="b" text-anchor="end">70</text>
<path d="M223.70 216.90L225.90 216.90" stroke="#000" stroke-width="1.0"/>
<text transform="translate(222.40 219.05) scale(0.88 1)" font-size="6.0" class="b" text-anchor="end">80</text>
<path d="M223.70 200.20L225.90 200.20" stroke="#000" stroke-width="1.0"/>
<text transform="translate(222.40 202.35) scale(0.88 1)" font-size="6.0" class="b" text-anchor="end">90</text>
<path d="M223.70 183.50L225.90 183.50" stroke="#000" stroke-width="1.0"/>
<text transform="translate(222.40 185.65) scale(0.88 1)" font-size="6.0" class="b" text-anchor="end">100</text>
<path d="M223.70 166.80L225.90 166.80" stroke="#000" stroke-width="1.0"/>
<text transform="translate(222.40 168.95) scale(0.88 1)" font-size="6.0" class="b" text-anchor="end">110</text>
<path d="M225.30 250.30L351.80 250.30" stroke="#000" stroke-width="1.3"/>
<path d="M226.30 250.30L226.30 252.90" stroke="#000" stroke-width="1.0"/>
<text transform="translate(226.30 259.10) scale(0.88 1)" font-size="6.0" class="b" text-anchor="middle">0</text>
<path d="M238.80 250.30L238.80 252.90" stroke="#000" stroke-width="1.0"/>
<text transform="translate(238.80 259.10) scale(0.88 1)" font-size="6.0" class="b" text-anchor="middle">4</text>
<path d="M251.30 250.30L251.30 252.90" stroke="#000" stroke-width="1.0"/>
<text transform="translate(251.30 259.10) scale(0.88 1)" font-size="6.0" class="b" text-anchor="middle">8</text>
<path d="M263.80 250.30L263.80 252.90" stroke="#000" stroke-width="1.0"/>
<text transform="translate(263.80 259.10) scale(0.88 1)" font-size="6.0" class="b" text-anchor="middle">12</text>
<path d="M276.30 250.30L276.30 252.90" stroke="#000" stroke-width="1.0"/>
<text transform="translate(276.30 259.10) scale(0.88 1)" font-size="6.0" class="b" text-anchor="middle">16</text>
<path d="M288.80 250.30L288.80 252.90" stroke="#000" stroke-width="1.0"/>
<text transform="translate(288.80 259.10) scale(0.88 1)" font-size="6.0" class="b" text-anchor="middle">20</text>
<path d="M301.30 250.30L301.30 252.90" stroke="#000" stroke-width="1.0"/>
<text transform="translate(301.30 259.10) scale(0.88 1)" font-size="6.0" class="b" text-anchor="middle">24</text>
<path d="M313.80 250.30L313.80 252.90" stroke="#000" stroke-width="1.0"/>
<text transform="translate(313.80 259.10) scale(0.88 1)" font-size="6.0" class="b" text-anchor="middle">28</text>
<path d="M326.30 250.30L326.30 252.90" stroke="#000" stroke-width="1.0"/>
<text transform="translate(326.30 259.10) scale(0.88 1)" font-size="6.0" class="b" text-anchor="middle">32</text>
<path d="M338.80 250.30L338.80 252.90" stroke="#000" stroke-width="1.0"/>
<text transform="translate(338.80 259.10) scale(0.88 1)" font-size="6.0" class="b" text-anchor="middle">36</text>
<path d="M351.30 250.30L351.30 252.90" stroke="#000" stroke-width="1.0"/>
<text transform="translate(351.30 259.10) scale(0.88 1)" font-size="6.0" class="b" text-anchor="middle">40</text>
<text x="272.80" y="158.30" font-size="8.3" class="b">Rag1<tspan font-size="4.8" dy="-3.0">-/-</tspan><tspan dy="3.0"></tspan></text>
<text x="303.70" y="158.30" font-size="8.3" class="b">BM</text>
<text x="208.00" y="207.60" font-size="7.9" class="b" text-anchor="middle" transform="rotate(-90 208.00 207.60)">Percent initial weight</text>
<text x="288.70" y="268.80" font-size="8.2" class="b" text-anchor="middle">Days post challenge</text>
<polyline points="226.30,181.83 229.43,178.49 232.55,178.49 235.68,178.49 238.80,178.49 241.93,180.16 245.05,181.83 248.18,181.83 251.30,181.83 254.43,181.83 257.55,181.83 260.68,181.83 263.80,181.83 266.93,181.83 270.05,181.83 273.18,181.83 276.30,183.50 279.43,183.50 282.55,183.50 285.68,183.50 288.80,183.50 291.93,183.50 295.05,185.17 298.18,185.17 301.30,183.50 304.43,178.49 307.55,180.16 310.68,176.82 313.80,178.49 316.93,178.49 320.05,178.49 323.18,183.50 326.30,180.16 329.43,180.16 332.55,180.16 335.68,180.16 338.80,180.16 341.93,180.16 345.05,180.16 348.18,180.16 351.30,185.17" fill="none" stroke="#000" stroke-width="1.35" stroke-linejoin="miter"/>
<rect x="224.85" y="180.38" width="2.90" height="2.90" class="mo"/>
<rect x="227.98" y="177.04" width="2.90" height="2.90" class="mo"/>
<rect x="231.10" y="177.04" width="2.90" height="2.90" class="mo"/>
<rect x="234.23" y="177.04" width="2.90" height="2.90" class="mo"/>
<rect x="237.35" y="177.04" width="2.90" height="2.90" class="mo"/>
<rect x="240.48" y="178.71" width="2.90" height="2.90" class="mo"/>
<rect x="243.60" y="180.38" width="2.90" height="2.90" class="mo"/>
<rect x="246.73" y="180.38" width="2.90" height="2.90" class="mo"/>
<rect x="249.85" y="180.38" width="2.90" height="2.90" class="mo"/>
<rect x="252.98" y="180.38" width="2.90" height="2.90" class="mo"/>
<rect x="256.10" y="180.38" width="2.90" height="2.90" class="mo"/>
<rect x="259.23" y="180.38" width="2.90" height="2.90" class="mo"/>
<rect x="262.35" y="180.38" width="2.90" height="2.90" class="mo"/>
<rect x="265.48" y="180.38" width="2.90" height="2.90" class="mo"/>
<rect x="268.60" y="180.38" width="2.90" height="2.90" class="mo"/>
<rect x="271.73" y="180.38" width="2.90" height="2.90" class="mo"/>
<rect x="274.85" y="182.05" width="2.90" height="2.90" class="mo"/>
<rect x="277.98" y="182.05" width="2.90" height="2.90" class="mo"/>
<rect x="281.10" y="182.05" width="2.90" height="2.90" class="mo"/>
<rect x="284.23" y="182.05" width="2.90" height="2.90" class="mo"/>
<rect x="287.35" y="182.05" width="2.90" height="2.90" class="mo"/>
<rect x="290.48" y="182.05" width="2.90" height="2.90" class="mo"/>
<rect x="293.60" y="183.72" width="2.90" height="2.90" class="mo"/>
<rect x="296.73" y="183.72" width="2.90" height="2.90" class="mo"/>
<rect x="299.85" y="182.05" width="2.90" height="2.90" class="mo"/>
<rect x="302.98" y="177.04" width="2.90" height="2.90" class="mo"/>
<rect x="306.10" y="178.71" width="2.90" height="2.90" class="mo"/>
<rect x="309.23" y="175.37" width="2.90" height="2.90" class="mo"/>
<rect x="312.35" y="177.04" width="2.90" height="2.90" class="mo"/>
<rect x="315.48" y="177.04" width="2.90" height="2.90" class="mo"/>
<rect x="318.60" y="177.04" width="2.90" height="2.90" class="mo"/>
<rect x="321.73" y="182.05" width="2.90" height="2.90" class="mo"/>
<rect x="324.85" y="178.71" width="2.90" height="2.90" class="mo"/>
<rect x="327.98" y="178.71" width="2.90" height="2.90" class="mo"/>
<rect x="331.10" y="178.71" width="2.90" height="2.90" class="mo"/>
<rect x="334.23" y="178.71" width="2.90" height="2.90" class="mo"/>
<rect x="337.35" y="178.71" width="2.90" height="2.90" class="mo"/>
<rect x="340.48" y="178.71" width="2.90" height="2.90" class="mo"/>
<rect x="343.60" y="178.71" width="2.90" height="2.90" class="mo"/>
<rect x="346.73" y="178.71" width="2.90" height="2.90" class="mo"/>
<rect x="349.85" y="183.72" width="2.90" height="2.90" class="mo"/>
<polyline points="226.30,183.50 229.43,183.50 232.55,181.83 235.68,181.83 238.80,181.83 241.93,183.50 245.05,183.50 248.18,183.50 251.30,183.50 254.43,183.50 257.55,186.84 260.68,191.85 263.80,196.86 266.93,203.54 270.05,208.55 273.18,213.56 276.30,218.57 279.43,221.91 282.55,220.24 285.68,230.26" fill="none" stroke="#000" stroke-width="1.35" stroke-linejoin="miter"/>
<path d="M257.55 185.17L257.55 188.51" stroke="#000" stroke-width="1.0"/>
<path d="M255.55 185.17L259.55 185.17" stroke="#000" stroke-width="1.0"/>
<path d="M255.55 188.51L259.55 188.51" stroke="#000" stroke-width="1.0"/>
<path d="M260.68 190.18L260.68 193.52" stroke="#000" stroke-width="1.0"/>
<path d="M258.68 190.18L262.68 190.18" stroke="#000" stroke-width="1.0"/>
<path d="M258.68 193.52L262.68 193.52" stroke="#000" stroke-width="1.0"/>
<path d="M263.80 193.52L263.80 200.20" stroke="#000" stroke-width="1.0"/>
<path d="M261.80 193.52L265.80 193.52" stroke="#000" stroke-width="1.0"/>
<path d="M261.80 200.20L265.80 200.20" stroke="#000" stroke-width="1.0"/>
<path d="M266.93 200.20L266.93 206.88" stroke="#000" stroke-width="1.0"/>
<path d="M264.93 200.20L268.93 200.20" stroke="#000" stroke-width="1.0"/>
<path d="M264.93 206.88L268.93 206.88" stroke="#000" stroke-width="1.0"/>
<path d="M270.05 205.21L270.05 211.89" stroke="#000" stroke-width="1.0"/>
<path d="M268.05 205.21L272.05 205.21" stroke="#000" stroke-width="1.0"/>
<path d="M268.05 211.89L272.05 211.89" stroke="#000" stroke-width="1.0"/>
<path d="M273.18 208.55L273.18 218.57" stroke="#000" stroke-width="1.0"/>
<path d="M271.18 208.55L275.18 208.55" stroke="#000" stroke-width="1.0"/>
<path d="M271.18 218.57L275.18 218.57" stroke="#000" stroke-width="1.0"/>
<path d="M276.30 213.56L276.30 223.58" stroke="#000" stroke-width="1.0"/>
<path d="M274.30 213.56L278.30 213.56" stroke="#000" stroke-width="1.0"/>
<path d="M274.30 223.58L278.30 223.58" stroke="#000" stroke-width="1.0"/>
<path d="M279.43 213.56L279.43 230.26" stroke="#000" stroke-width="1.0"/>
<path d="M277.43 213.56L281.43 213.56" stroke="#000" stroke-width="1.0"/>
<path d="M277.43 230.26L281.43 230.26" stroke="#000" stroke-width="1.0"/>
<path d="M282.55 211.89L282.55 228.59" stroke="#000" stroke-width="1.0"/>
<path d="M280.55 211.89L284.55 211.89" stroke="#000" stroke-width="1.0"/>
<path d="M280.55 228.59L284.55 228.59" stroke="#000" stroke-width="1.0"/>
<path d="M285.68 226.92L285.68 233.60" stroke="#000" stroke-width="1.0"/>
<path d="M283.68 226.92L287.68 226.92" stroke="#000" stroke-width="1.0"/>
<path d="M283.68 233.60L287.68 233.60" stroke="#000" stroke-width="1.0"/>
<circle cx="226.30" cy="183.50" r="1.45" class="mo"/>
<circle cx="229.43" cy="183.50" r="1.45" class="mo"/>
<circle cx="232.55" cy="181.83" r="1.45" class="mo"/>
<circle cx="235.68" cy="181.83" r="1.45" class="mo"/>
<circle cx="238.80" cy="181.83" r="1.45" class="mo"/>
<circle cx="241.93" cy="183.50" r="1.45" class="mo"/>
<circle cx="245.05" cy="183.50" r="1.45" class="mo"/>
<circle cx="248.18" cy="183.50" r="1.45" class="mo"/>
<circle cx="251.30" cy="183.50" r="1.45" class="mo"/>
<circle cx="254.43" cy="183.50" r="1.45" class="mo"/>
<circle cx="257.55" cy="186.84" r="1.45" class="mo"/>
<circle cx="260.68" cy="191.85" r="1.45" class="mo"/>
<circle cx="263.80" cy="196.86" r="1.45" class="mo"/>
<circle cx="266.93" cy="203.54" r="1.45" class="mo"/>
<circle cx="270.05" cy="208.55" r="1.45" class="mo"/>
<circle cx="273.18" cy="213.56" r="1.45" class="mo"/>
<circle cx="276.30" cy="218.57" r="1.45" class="mo"/>
<circle cx="279.43" cy="221.91" r="1.45" class="mo"/>
<circle cx="282.55" cy="220.24" r="1.45" class="mo"/>
<circle cx="285.68" cy="230.26" r="1.45" class="mo"/>
<polyline points="226.30,183.50 229.43,183.50 232.55,183.50 235.68,183.50 238.80,183.50 241.93,183.50 245.05,183.50 248.18,183.50 251.30,183.50 254.43,183.50 257.55,185.17 260.68,190.18 263.80,195.19 266.93,200.20 270.05,205.21 273.18,208.55 276.30,211.89 279.43,216.90 282.55,213.56 285.68,208.55 288.80,198.53 291.93,201.87 295.05,201.87 298.18,201.87 301.30,208.55 304.43,211.89 307.55,211.89 310.68,213.56 313.80,213.56 316.93,213.56 320.05,213.56" fill="none" stroke="#000" stroke-width="1.35" stroke-linejoin="miter"/>
<path d="M257.55 183.50L257.55 186.84" stroke="#000" stroke-width="1.0"/>
<path d="M255.55 183.50L259.55 183.50" stroke="#000" stroke-width="1.0"/>
<path d="M255.55 186.84L259.55 186.84" stroke="#000" stroke-width="1.0"/>
<path d="M260.68 188.51L260.68 191.85" stroke="#000" stroke-width="1.0"/>
<path d="M258.68 188.51L262.68 188.51" stroke="#000" stroke-width="1.0"/>
<path d="M258.68 191.85L262.68 191.85" stroke="#000" stroke-width="1.0"/>
<path d="M263.80 191.85L263.80 198.53" stroke="#000" stroke-width="1.0"/>
<path d="M261.80 191.85L265.80 191.85" stroke="#000" stroke-width="1.0"/>
<path d="M261.80 198.53L265.80 198.53" stroke="#000" stroke-width="1.0"/>
<path d="M266.93 196.86L266.93 203.54" stroke="#000" stroke-width="1.0"/>
<path d="M264.93 196.86L268.93 196.86" stroke="#000" stroke-width="1.0"/>
<path d="M264.93 203.54L268.93 203.54" stroke="#000" stroke-width="1.0"/>
<path d="M270.05 201.87L270.05 208.55" stroke="#000" stroke-width="1.0"/>
<path d="M268.05 201.87L272.05 201.87" stroke="#000" stroke-width="1.0"/>
<path d="M268.05 208.55L272.05 208.55" stroke="#000" stroke-width="1.0"/>
<path d="M273.18 203.54L273.18 213.56" stroke="#000" stroke-width="1.0"/>
<path d="M271.18 203.54L275.18 203.54" stroke="#000" stroke-width="1.0"/>
<path d="M271.18 213.56L275.18 213.56" stroke="#000" stroke-width="1.0"/>
<path d="M276.30 206.88L276.30 216.90" stroke="#000" stroke-width="1.0"/>
<path d="M274.30 206.88L278.30 206.88" stroke="#000" stroke-width="1.0"/>
<path d="M274.30 216.90L278.30 216.90" stroke="#000" stroke-width="1.0"/>
<path d="M279.43 211.89L279.43 221.91" stroke="#000" stroke-width="1.0"/>
<path d="M277.43 211.89L281.43 211.89" stroke="#000" stroke-width="1.0"/>
<path d="M277.43 221.91L281.43 221.91" stroke="#000" stroke-width="1.0"/>
<path d="M282.55 206.88L282.55 220.24" stroke="#000" stroke-width="1.0"/>
<path d="M280.55 206.88L284.55 206.88" stroke="#000" stroke-width="1.0"/>
<path d="M280.55 220.24L284.55 220.24" stroke="#000" stroke-width="1.0"/>
<path d="M285.68 200.20L285.68 216.90" stroke="#000" stroke-width="1.0"/>
<path d="M283.68 200.20L287.68 200.20" stroke="#000" stroke-width="1.0"/>
<path d="M283.68 216.90L287.68 216.90" stroke="#000" stroke-width="1.0"/>
<path d="M288.80 190.18L288.80 206.88" stroke="#000" stroke-width="1.0"/>
<path d="M286.80 190.18L290.80 190.18" stroke="#000" stroke-width="1.0"/>
<path d="M286.80 206.88L290.80 206.88" stroke="#000" stroke-width="1.0"/>
<path d="M291.93 198.53L291.93 205.21" stroke="#000" stroke-width="1.0"/>
<path d="M289.93 198.53L293.93 198.53" stroke="#000" stroke-width="1.0"/>
<path d="M289.93 205.21L293.93 205.21" stroke="#000" stroke-width="1.0"/>
<path d="M295.05 198.53L295.05 205.21" stroke="#000" stroke-width="1.0"/>
<path d="M293.05 198.53L297.05 198.53" stroke="#000" stroke-width="1.0"/>
<path d="M293.05 205.21L297.05 205.21" stroke="#000" stroke-width="1.0"/>
<path d="M298.18 198.53L298.18 205.21" stroke="#000" stroke-width="1.0"/>
<path d="M296.18 198.53L300.18 198.53" stroke="#000" stroke-width="1.0"/>
<path d="M296.18 205.21L300.18 205.21" stroke="#000" stroke-width="1.0"/>
<path d="M301.30 203.54L301.30 213.56" stroke="#000" stroke-width="1.0"/>
<path d="M299.30 203.54L303.30 203.54" stroke="#000" stroke-width="1.0"/>
<path d="M299.30 213.56L303.30 213.56" stroke="#000" stroke-width="1.0"/>
<path d="M304.43 206.88L304.43 216.90" stroke="#000" stroke-width="1.0"/>
<path d="M302.43 206.88L306.43 206.88" stroke="#000" stroke-width="1.0"/>
<path d="M302.43 216.90L306.43 216.90" stroke="#000" stroke-width="1.0"/>
<path d="M307.55 206.88L307.55 216.90" stroke="#000" stroke-width="1.0"/>
<path d="M305.55 206.88L309.55 206.88" stroke="#000" stroke-width="1.0"/>
<path d="M305.55 216.90L309.55 216.90" stroke="#000" stroke-width="1.0"/>
<path d="M310.68 210.22L310.68 216.90" stroke="#000" stroke-width="1.0"/>
<path d="M308.68 210.22L312.68 210.22" stroke="#000" stroke-width="1.0"/>
<path d="M308.68 216.90L312.68 216.90" stroke="#000" stroke-width="1.0"/>
<path d="M313.80 210.22L313.80 216.90" stroke="#000" stroke-width="1.0"/>
<path d="M311.80 210.22L315.80 210.22" stroke="#000" stroke-width="1.0"/>
<path d="M311.80 216.90L315.80 216.90" stroke="#000" stroke-width="1.0"/>
<path d="M316.93 210.22L316.93 216.90" stroke="#000" stroke-width="1.0"/>
<path d="M314.93 210.22L318.93 210.22" stroke="#000" stroke-width="1.0"/>
<path d="M314.93 216.90L318.93 216.90" stroke="#000" stroke-width="1.0"/>
<path d="M320.05 203.54L320.05 223.58" stroke="#000" stroke-width="1.0"/>
<path d="M318.05 203.54L322.05 203.54" stroke="#000" stroke-width="1.0"/>
<path d="M318.05 223.58L322.05 223.58" stroke="#000" stroke-width="1.0"/>
<path d="M226.30 181.40L228.40 185.07L224.20 185.07Z"/>
<path d="M229.43 181.40L231.53 185.07L227.33 185.07Z"/>
<path d="M232.55 181.40L234.65 185.07L230.45 185.07Z"/>
<path d="M235.68 181.40L237.78 185.07L233.58 185.07Z"/>
<path d="M238.80 181.40L240.90 185.07L236.70 185.07Z"/>
<path d="M241.93 181.40L244.03 185.07L239.83 185.07Z"/>
<path d="M245.05 181.40L247.15 185.07L242.95 185.07Z"/>
<path d="M248.18 181.40L250.28 185.07L246.08 185.07Z"/>
<path d="M251.30 181.40L253.40 185.07L249.20 185.07Z"/>
<path d="M254.43 181.40L256.53 185.07L252.33 185.07Z"/>
<path d="M257.55 183.07L259.65 186.75L255.45 186.75Z"/>
<path d="M260.68 188.08L262.78 191.75L258.57 191.75Z"/>
<path d="M263.80 193.09L265.90 196.76L261.70 196.76Z"/>
<path d="M266.93 198.10L269.03 201.78L264.82 201.78Z"/>
<path d="M270.05 203.11L272.15 206.78L267.95 206.78Z"/>
<path d="M273.18 206.45L275.28 210.12L271.07 210.12Z"/>
<path d="M276.30 209.79L278.40 213.47L274.20 213.47Z"/>
<path d="M279.43 214.80L281.53 218.47L277.32 218.47Z"/>
<path d="M282.55 211.46L284.65 215.13L280.45 215.13Z"/>
<path d="M285.68 206.45L287.78 210.12L283.57 210.12Z"/>
<path d="M288.80 196.43L290.90 200.11L286.70 200.11Z"/>
<path d="M291.93 199.77L294.03 203.44L289.82 203.44Z"/>
<path d="M295.05 199.77L297.15 203.44L292.95 203.44Z"/>
<path d="M298.18 199.77L300.28 203.44L296.07 203.44Z"/>
<path d="M301.30 206.45L303.40 210.12L299.20 210.12Z"/>
<path d="M304.43 209.79L306.53 213.47L302.32 213.47Z"/>
<path d="M307.55 209.79L309.65 213.47L305.45 213.47Z"/>
<path d="M310.68 211.46L312.78 215.13L308.57 215.13Z"/>
<path d="M313.80 211.46L315.90 215.13L311.70 215.13Z"/>
<path d="M316.93 211.46L319.03 215.13L314.82 215.13Z"/>
<path d="M320.05 211.46L322.15 215.13L317.95 215.13Z"/>
<path d="M289.30 231.50L300.80 231.50" stroke="#000" stroke-width="1.2"/>
<circle cx="295.05" cy="231.50" r="1.45" class="mo"/>
<text x="302.40" y="233.78" font-size="6.15" class="b">Rag1<tspan font-size="3.8" dy="-2.2">-/-</tspan><tspan dy="2.2"> BM only</tspan></text>
<path d="M289.30 238.20L300.80 238.20" stroke="#000" stroke-width="1.2"/>
<path d="M295.05 236.10L297.15 239.77L292.95 239.77Z"/>
<text x="302.40" y="240.48" font-size="6.15" class="b">CD62L-</text>
<path d="M289.30 244.90L300.80 244.90" stroke="#000" stroke-width="1.2"/>
<rect x="293.60" y="243.45" width="2.90" height="2.90" class="mo"/>
<text x="302.40" y="247.18" font-size="6.15" class="b">Mock challenged</text>
<path d="M388.00 166.30L388.00 251.35" stroke="#000" stroke-width="1.3"/>
<path d="M385.80 250.70L388.00 250.70" stroke="#000" stroke-width="1.0"/>
<text transform="translate(384.50 252.85) scale(0.88 1)" font-size="6.0" class="b" text-anchor="end">60</text>
<path d="M385.80 233.94L388.00 233.94" stroke="#000" stroke-width="1.0"/>
<text transform="translate(384.50 236.09) scale(0.88 1)" font-size="6.0" class="b" text-anchor="end">70</text>
<path d="M385.80 217.18L388.00 217.18" stroke="#000" stroke-width="1.0"/>
<text transform="translate(384.50 219.33) scale(0.88 1)" font-size="6.0" class="b" text-anchor="end">80</text>
<path d="M385.80 200.42L388.00 200.42" stroke="#000" stroke-width="1.0"/>
<text transform="translate(384.50 202.57) scale(0.88 1)" font-size="6.0" class="b" text-anchor="end">90</text>
<path d="M385.80 183.66L388.00 183.66" stroke="#000" stroke-width="1.0"/>
<text transform="translate(384.50 185.81) scale(0.88 1)" font-size="6.0" class="b" text-anchor="end">100</text>
<path d="M385.80 166.90L388.00 166.90" stroke="#000" stroke-width="1.0"/>
<text transform="translate(384.50 169.05) scale(0.88 1)" font-size="6.0" class="b" text-anchor="end">110</text>
<path d="M387.40 250.70L508.00 250.70" stroke="#000" stroke-width="1.3"/>
<path d="M388.00 250.70L388.00 253.30" stroke="#000" stroke-width="1.0"/>
<text transform="translate(388.00 259.70) scale(0.88 1)" font-size="6.0" class="b" text-anchor="middle">0</text>
<path d="M399.95 250.70L399.95 253.30" stroke="#000" stroke-width="1.0"/>
<text transform="translate(399.95 259.70) scale(0.88 1)" font-size="6.0" class="b" text-anchor="middle">4</text>
<path d="M411.90 250.70L411.90 253.30" stroke="#000" stroke-width="1.0"/>
<text transform="translate(411.90 259.70) scale(0.88 1)" font-size="6.0" class="b" text-anchor="middle">8</text>
<path d="M423.85 250.70L423.85 253.30" stroke="#000" stroke-width="1.0"/>
<text transform="translate(423.85 259.70) scale(0.88 1)" font-size="6.0" class="b" text-anchor="middle">12</text>
<path d="M435.80 250.70L435.80 253.30" stroke="#000" stroke-width="1.0"/>
<text transform="translate(435.80 259.70) scale(0.88 1)" font-size="6.0" class="b" text-anchor="middle">16</text>
<path d="M447.75 250.70L447.75 253.30" stroke="#000" stroke-width="1.0"/>
<text transform="translate(447.75 259.70) scale(0.88 1)" font-size="6.0" class="b" text-anchor="middle">20</text>
<path d="M459.70 250.70L459.70 253.30" stroke="#000" stroke-width="1.0"/>
<text transform="translate(459.70 259.70) scale(0.88 1)" font-size="6.0" class="b" text-anchor="middle">24</text>
<path d="M471.65 250.70L471.65 253.30" stroke="#000" stroke-width="1.0"/>
<text transform="translate(471.65 259.70) scale(0.88 1)" font-size="6.0" class="b" text-anchor="middle">28</text>
<path d="M483.60 250.70L483.60 253.30" stroke="#000" stroke-width="1.0"/>
<text transform="translate(483.60 259.70) scale(0.88 1)" font-size="6.0" class="b" text-anchor="middle">32</text>
<path d="M495.55 250.70L495.55 253.30" stroke="#000" stroke-width="1.0"/>
<text transform="translate(495.55 259.70) scale(0.88 1)" font-size="6.0" class="b" text-anchor="middle">36</text>
<path d="M507.50 250.70L507.50 253.30" stroke="#000" stroke-width="1.0"/>
<text transform="translate(507.50 259.70) scale(0.88 1)" font-size="6.0" class="b" text-anchor="middle">40</text>
<text x="408.50" y="158.10" font-size="8.3" class="b">Rag2<tspan font-size="4.8" dy="-3.0">-/-</tspan><tspan dy="3.0">&#947;C</tspan><tspan font-size="4.8" dy="-3.0">-/-</tspan><tspan dy="3.0"> BM</tspan></text>
<text x="370.90" y="208.00" font-size="8.0" class="b" text-anchor="middle" transform="rotate(-90 370.90 208.00)">Percent initial weight</text>
<text x="447.70" y="271.00" font-size="7.85" class="b" text-anchor="middle">Days post challenge</text>
<polyline points="388.00,180.31 390.99,181.98 393.98,181.98 396.96,181.98 399.95,181.98 402.94,181.98 405.93,181.98 408.91,181.98 411.90,181.98 414.89,181.98 417.88,180.31 420.86,180.31 423.85,180.31 426.84,180.31 429.82,180.31 432.81,180.31 435.80,181.98 438.79,180.31 441.77,180.31 444.76,181.98 447.75,183.66 450.74,183.66 453.73,183.66 456.71,183.66 459.70,181.98 462.69,176.96 465.68,178.63 468.66,175.28 471.65,178.63 474.64,176.96 477.62,176.96 480.61,176.96 483.60,181.98 486.59,180.31 489.57,180.31 492.56,180.31 495.55,180.31 498.54,180.31 501.52,180.31 504.51,181.98 507.50,183.66" fill="none" stroke="#000" stroke-width="1.35" stroke-linejoin="miter"/>
<rect x="386.55" y="178.86" width="2.90" height="2.90" class="mo"/>
<rect x="389.54" y="180.53" width="2.90" height="2.90" class="mo"/>
<rect x="392.53" y="180.53" width="2.90" height="2.90" class="mo"/>
<rect x="395.51" y="180.53" width="2.90" height="2.90" class="mo"/>
<rect x="398.50" y="180.53" width="2.90" height="2.90" class="mo"/>
<rect x="401.49" y="180.53" width="2.90" height="2.90" class="mo"/>
<rect x="404.48" y="180.53" width="2.90" height="2.90" class="mo"/>
<rect x="407.46" y="180.53" width="2.90" height="2.90" class="mo"/>
<rect x="410.45" y="180.53" width="2.90" height="2.90" class="mo"/>
<rect x="413.44" y="180.53" width="2.90" height="2.90" class="mo"/>
<rect x="416.43" y="178.86" width="2.90" height="2.90" class="mo"/>
<rect x="419.41" y="178.86" width="2.90" height="2.90" class="mo"/>
<rect x="422.40" y="178.86" width="2.90" height="2.90" class="mo"/>
<rect x="425.39" y="178.86" width="2.90" height="2.90" class="mo"/>
<rect x="428.38" y="178.86" width="2.90" height="2.90" class="mo"/>
<rect x="431.36" y="178.86" width="2.90" height="2.90" class="mo"/>
<rect x="434.35" y="180.53" width="2.90" height="2.90" class="mo"/>
<rect x="437.34" y="178.86" width="2.90" height="2.90" class="mo"/>
<rect x="440.32" y="178.86" width="2.90" height="2.90" class="mo"/>
<rect x="443.31" y="180.53" width="2.90" height="2.90" class="mo"/>
<rect x="446.30" y="182.21" width="2.90" height="2.90" class="mo"/>
<rect x="449.29" y="182.21" width="2.90" height="2.90" class="mo"/>
<rect x="452.28" y="182.21" width="2.90" height="2.90" class="mo"/>
<rect x="455.26" y="182.21" width="2.90" height="2.90" class="mo"/>
<rect x="458.25" y="180.53" width="2.90" height="2.90" class="mo"/>
<rect x="461.24" y="175.51" width="2.90" height="2.90" class="mo"/>
<rect x="464.23" y="177.18" width="2.90" height="2.90" class="mo"/>
<rect x="467.21" y="173.83" width="2.90" height="2.90" class="mo"/>
<rect x="470.20" y="177.18" width="2.90" height="2.90" class="mo"/>
<rect x="473.19" y="175.51" width="2.90" height="2.90" class="mo"/>
<rect x="476.18" y="175.51" width="2.90" height="2.90" class="mo"/>
<rect x="479.16" y="175.51" width="2.90" height="2.90" class="mo"/>
<rect x="482.15" y="180.53" width="2.90" height="2.90" class="mo"/>
<rect x="485.14" y="178.86" width="2.90" height="2.90" class="mo"/>
<rect x="488.12" y="178.86" width="2.90" height="2.90" class="mo"/>
<rect x="491.11" y="178.86" width="2.90" height="2.90" class="mo"/>
<rect x="494.10" y="178.86" width="2.90" height="2.90" class="mo"/>
<rect x="497.09" y="178.86" width="2.90" height="2.90" class="mo"/>
<rect x="500.07" y="178.86" width="2.90" height="2.90" class="mo"/>
<rect x="503.06" y="180.53" width="2.90" height="2.90" class="mo"/>
<rect x="506.05" y="182.21" width="2.90" height="2.90" class="mo"/>
<polyline points="388.00,183.66 390.99,183.66 393.98,183.66 396.96,183.66 399.95,183.66 402.94,183.66 405.93,183.66 408.91,183.66 411.90,183.66 414.89,185.34 417.88,188.69 420.86,192.04 423.85,195.39 426.84,198.74 429.82,202.10 432.81,205.45 435.80,208.80 438.79,212.15 441.77,215.50 444.76,217.18 447.75,217.18 450.74,213.83 453.73,217.18 456.71,215.50 459.70,218.86 462.69,220.53 465.68,220.53 468.66,220.53" fill="none" stroke="#000" stroke-width="1.35" stroke-linejoin="miter"/>
<path d="M414.89 183.66L414.89 187.01" stroke="#000" stroke-width="1.0"/>
<path d="M412.89 183.66L416.89 183.66" stroke="#000" stroke-width="1.0"/>
<path d="M412.89 187.01L416.89 187.01" stroke="#000" stroke-width="1.0"/>
<path d="M417.88 187.01L417.88 190.36" stroke="#000" stroke-width="1.0"/>
<path d="M415.88 187.01L419.88 187.01" stroke="#000" stroke-width="1.0"/>
<path d="M415.88 190.36L419.88 190.36" stroke="#000" stroke-width="1.0"/>
<path d="M420.86 190.36L420.86 193.72" stroke="#000" stroke-width="1.0"/>
<path d="M418.86 190.36L422.86 190.36" stroke="#000" stroke-width="1.0"/>
<path d="M418.86 193.72L422.86 193.72" stroke="#000" stroke-width="1.0"/>
<path d="M423.85 192.04L423.85 198.74" stroke="#000" stroke-width="1.0"/>
<path d="M421.85 192.04L425.85 192.04" stroke="#000" stroke-width="1.0"/>
<path d="M421.85 198.74L425.85 198.74" stroke="#000" stroke-width="1.0"/>
<path d="M426.84 195.39L426.84 202.10" stroke="#000" stroke-width="1.0"/>
<path d="M424.84 195.39L428.84 195.39" stroke="#000" stroke-width="1.0"/>
<path d="M424.84 202.10L428.84 202.10" stroke="#000" stroke-width="1.0"/>
<path d="M429.82 198.74L429.82 205.45" stroke="#000" stroke-width="1.0"/>
<path d="M427.82 198.74L431.82 198.74" stroke="#000" stroke-width="1.0"/>
<path d="M427.82 205.45L431.82 205.45" stroke="#000" stroke-width="1.0"/>
<path d="M432.81 202.10L432.81 208.80" stroke="#000" stroke-width="1.0"/>
<path d="M430.81 202.10L434.81 202.10" stroke="#000" stroke-width="1.0"/>
<path d="M430.81 208.80L434.81 208.80" stroke="#000" stroke-width="1.0"/>
<path d="M435.80 205.45L435.80 212.15" stroke="#000" stroke-width="1.0"/>
<path d="M433.80 205.45L437.80 205.45" stroke="#000" stroke-width="1.0"/>
<path d="M433.80 212.15L437.80 212.15" stroke="#000" stroke-width="1.0"/>
<path d="M438.79 208.80L438.79 215.50" stroke="#000" stroke-width="1.0"/>
<path d="M436.79 208.80L440.79 208.80" stroke="#000" stroke-width="1.0"/>
<path d="M436.79 215.50L440.79 215.50" stroke="#000" stroke-width="1.0"/>
<path d="M441.77 210.48L441.77 220.53" stroke="#000" stroke-width="1.0"/>
<path d="M439.77 210.48L443.77 210.48" stroke="#000" stroke-width="1.0"/>
<path d="M439.77 220.53L443.77 220.53" stroke="#000" stroke-width="1.0"/>
<path d="M444.76 212.15L444.76 222.21" stroke="#000" stroke-width="1.0"/>
<path d="M442.76 212.15L446.76 212.15" stroke="#000" stroke-width="1.0"/>
<path d="M442.76 222.21L446.76 222.21" stroke="#000" stroke-width="1.0"/>
<path d="M447.75 212.15L447.75 222.21" stroke="#000" stroke-width="1.0"/>
<path d="M445.75 212.15L449.75 212.15" stroke="#000" stroke-width="1.0"/>
<path d="M445.75 222.21L449.75 222.21" stroke="#000" stroke-width="1.0"/>
<path d="M450.74 208.80L450.74 218.86" stroke="#000" stroke-width="1.0"/>
<path d="M448.74 208.80L452.74 208.80" stroke="#000" stroke-width="1.0"/>
<path d="M448.74 218.86L452.74 218.86" stroke="#000" stroke-width="1.0"/>
<path d="M453.73 212.15L453.73 222.21" stroke="#000" stroke-width="1.0"/>
<path d="M451.73 212.15L455.73 212.15" stroke="#000" stroke-width="1.0"/>
<path d="M451.73 222.21L455.73 222.21" stroke="#000" stroke-width="1.0"/>
<path d="M456.71 210.48L456.71 220.53" stroke="#000" stroke-width="1.0"/>
<path d="M454.71 210.48L458.71 210.48" stroke="#000" stroke-width="1.0"/>
<path d="M454.71 220.53L458.71 220.53" stroke="#000" stroke-width="1.0"/>
<path d="M459.70 213.83L459.70 223.88" stroke="#000" stroke-width="1.0"/>
<path d="M457.70 213.83L461.70 213.83" stroke="#000" stroke-width="1.0"/>
<path d="M457.70 223.88L461.70 223.88" stroke="#000" stroke-width="1.0"/>
<path d="M462.69 215.50L462.69 225.56" stroke="#000" stroke-width="1.0"/>
<path d="M460.69 215.50L464.69 215.50" stroke="#000" stroke-width="1.0"/>
<path d="M460.69 225.56L464.69 225.56" stroke="#000" stroke-width="1.0"/>
<path d="M465.68 215.50L465.68 225.56" stroke="#000" stroke-width="1.0"/>
<path d="M463.68 215.50L467.68 215.50" stroke="#000" stroke-width="1.0"/>
<path d="M463.68 225.56L467.68 225.56" stroke="#000" stroke-width="1.0"/>
<path d="M468.66 215.50L468.66 225.56" stroke="#000" stroke-width="1.0"/>
<path d="M466.66 215.50L470.66 215.50" stroke="#000" stroke-width="1.0"/>
<path d="M466.66 225.56L470.66 225.56" stroke="#000" stroke-width="1.0"/>
<circle cx="388.00" cy="183.66" r="1.45" class="mo"/>
<circle cx="390.99" cy="183.66" r="1.45" class="mo"/>
<circle cx="393.98" cy="183.66" r="1.45" class="mo"/>
<circle cx="396.96" cy="183.66" r="1.45" class="mo"/>
<circle cx="399.95" cy="183.66" r="1.45" class="mo"/>
<circle cx="402.94" cy="183.66" r="1.45" class="mo"/>
<circle cx="405.93" cy="183.66" r="1.45" class="mo"/>
<circle cx="408.91" cy="183.66" r="1.45" class="mo"/>
<circle cx="411.90" cy="183.66" r="1.45" class="mo"/>
<circle cx="414.89" cy="185.34" r="1.45" class="mo"/>
<circle cx="417.88" cy="188.69" r="1.45" class="mo"/>
<circle cx="420.86" cy="192.04" r="1.45" class="mo"/>
<circle cx="423.85" cy="195.39" r="1.45" class="mo"/>
<circle cx="426.84" cy="198.74" r="1.45" class="mo"/>
<circle cx="429.82" cy="202.10" r="1.45" class="mo"/>
<circle cx="432.81" cy="205.45" r="1.45" class="mo"/>
<circle cx="435.80" cy="208.80" r="1.45" class="mo"/>
<circle cx="438.79" cy="212.15" r="1.45" class="mo"/>
<circle cx="441.77" cy="215.50" r="1.45" class="mo"/>
<circle cx="444.76" cy="217.18" r="1.45" class="mo"/>
<circle cx="447.75" cy="217.18" r="1.45" class="mo"/>
<circle cx="450.74" cy="213.83" r="1.45" class="mo"/>
<circle cx="453.73" cy="217.18" r="1.45" class="mo"/>
<circle cx="456.71" cy="215.50" r="1.45" class="mo"/>
<circle cx="459.70" cy="218.86" r="1.45" class="mo"/>
<circle cx="462.69" cy="220.53" r="1.45" class="mo"/>
<circle cx="465.68" cy="220.53" r="1.45" class="mo"/>
<circle cx="468.66" cy="220.53" r="1.45" class="mo"/>
<polyline points="388.00,183.66 390.99,183.66 393.98,183.66 396.96,183.66 399.95,183.66 402.94,183.66 405.93,183.66 408.91,183.66 411.90,183.66 414.89,183.66 417.88,185.34 420.86,188.69 423.85,190.36 426.84,192.04 429.82,195.39 432.81,198.74 435.80,202.10 438.79,205.45 441.77,208.80 444.76,212.15 447.75,210.48 450.74,207.12 453.73,210.48 456.71,213.83 459.70,217.18 462.69,218.86 465.68,218.86 468.66,232.26" fill="none" stroke="#000" stroke-width="1.35" stroke-linejoin="miter"/>
<path d="M417.88 183.66L417.88 187.01" stroke="#000" stroke-width="1.0"/>
<path d="M415.88 183.66L419.88 183.66" stroke="#000" stroke-width="1.0"/>
<path d="M415.88 187.01L419.88 187.01" stroke="#000" stroke-width="1.0"/>
<path d="M420.86 187.01L420.86 190.36" stroke="#000" stroke-width="1.0"/>
<path d="M418.86 187.01L422.86 187.01" stroke="#000" stroke-width="1.0"/>
<path d="M418.86 190.36L422.86 190.36" stroke="#000" stroke-width="1.0"/>
<path d="M423.85 188.69L423.85 192.04" stroke="#000" stroke-width="1.0"/>
<path d="M421.85 188.69L425.85 188.69" stroke="#000" stroke-width="1.0"/>
<path d="M421.85 192.04L425.85 192.04" stroke="#000" stroke-width="1.0"/>
<path d="M426.84 190.36L426.84 193.72" stroke="#000" stroke-width="1.0"/>
<path d="M424.84 190.36L428.84 190.36" stroke="#000" stroke-width="1.0"/>
<path d="M424.84 193.72L428.84 193.72" stroke="#000" stroke-width="1.0"/>
<path d="M429.82 192.04L429.82 198.74" stroke="#000" stroke-width="1.0"/>
<path d="M427.82 192.04L431.82 192.04" stroke="#000" stroke-width="1.0"/>
<path d="M427.82 198.74L431.82 198.74" stroke="#000" stroke-width="1.0"/>
<path d="M432.81 195.39L432.81 202.10" stroke="#000" stroke-width="1.0"/>
<path d="M430.81 195.39L434.81 195.39" stroke="#000" stroke-width="1.0"/>
<path d="M430.81 202.10L434.81 202.10" stroke="#000" stroke-width="1.0"/>
<path d="M435.80 198.74L435.80 205.45" stroke="#000" stroke-width="1.0"/>
<path d="M433.80 198.74L437.80 198.74" stroke="#000" stroke-width="1.0"/>
<path d="M433.80 205.45L437.80 205.45" stroke="#000" stroke-width="1.0"/>
<path d="M438.79 202.10L438.79 208.80" stroke="#000" stroke-width="1.0"/>
<path d="M436.79 202.10L440.79 202.10" stroke="#000" stroke-width="1.0"/>
<path d="M436.79 208.80L440.79 208.80" stroke="#000" stroke-width="1.0"/>
<path d="M441.77 205.45L441.77 212.15" stroke="#000" stroke-width="1.0"/>
<path d="M439.77 205.45L443.77 205.45" stroke="#000" stroke-width="1.0"/>
<path d="M439.77 212.15L443.77 212.15" stroke="#000" stroke-width="1.0"/>
<path d="M444.76 207.12L444.76 217.18" stroke="#000" stroke-width="1.0"/>
<path d="M442.76 207.12L446.76 207.12" stroke="#000" stroke-width="1.0"/>
<path d="M442.76 217.18L446.76 217.18" stroke="#000" stroke-width="1.0"/>
<path d="M447.75 203.77L447.75 217.18" stroke="#000" stroke-width="1.0"/>
<path d="M445.75 203.77L449.75 203.77" stroke="#000" stroke-width="1.0"/>
<path d="M445.75 217.18L449.75 217.18" stroke="#000" stroke-width="1.0"/>
<path d="M450.74 200.42L450.74 213.83" stroke="#000" stroke-width="1.0"/>
<path d="M448.74 200.42L452.74 200.42" stroke="#000" stroke-width="1.0"/>
<path d="M448.74 213.83L452.74 213.83" stroke="#000" stroke-width="1.0"/>
<path d="M453.73 205.45L453.73 215.50" stroke="#000" stroke-width="1.0"/>
<path d="M451.73 205.45L455.73 205.45" stroke="#000" stroke-width="1.0"/>
<path d="M451.73 215.50L455.73 215.50" stroke="#000" stroke-width="1.0"/>
<path d="M456.71 208.80L456.71 218.86" stroke="#000" stroke-width="1.0"/>
<path d="M454.71 208.80L458.71 208.80" stroke="#000" stroke-width="1.0"/>
<path d="M454.71 218.86L458.71 218.86" stroke="#000" stroke-width="1.0"/>
<path d="M459.70 212.15L459.70 222.21" stroke="#000" stroke-width="1.0"/>
<path d="M457.70 212.15L461.70 212.15" stroke="#000" stroke-width="1.0"/>
<path d="M457.70 222.21L461.70 222.21" stroke="#000" stroke-width="1.0"/>
<path d="M462.69 213.83L462.69 223.88" stroke="#000" stroke-width="1.0"/>
<path d="M460.69 213.83L464.69 213.83" stroke="#000" stroke-width="1.0"/>
<path d="M460.69 223.88L464.69 223.88" stroke="#000" stroke-width="1.0"/>
<path d="M465.68 213.83L465.68 223.88" stroke="#000" stroke-width="1.0"/>
<path d="M463.68 213.83L467.68 213.83" stroke="#000" stroke-width="1.0"/>
<path d="M463.68 223.88L467.68 223.88" stroke="#000" stroke-width="1.0"/>
<path d="M468.66 227.24L468.66 237.29" stroke="#000" stroke-width="1.0"/>
<path d="M466.66 227.24L470.66 227.24" stroke="#000" stroke-width="1.0"/>
<path d="M466.66 237.29L470.66 237.29" stroke="#000" stroke-width="1.0"/>
<path d="M388.00 181.56L390.10 185.23L385.90 185.23Z"/>
<path d="M390.99 181.56L393.09 185.23L388.89 185.23Z"/>
<path d="M393.98 181.56L396.08 185.23L391.88 185.23Z"/>
<path d="M396.96 181.56L399.06 185.23L394.86 185.23Z"/>
<path d="M399.95 181.56L402.05 185.23L397.85 185.23Z"/>
<path d="M402.94 181.56L405.04 185.23L400.84 185.23Z"/>
<path d="M405.93 181.56L408.03 185.23L403.82 185.23Z"/>
<path d="M408.91 181.56L411.01 185.23L406.81 185.23Z"/>
<path d="M411.90 181.56L414.00 185.23L409.80 185.23Z"/>
<path d="M414.89 181.56L416.99 185.23L412.79 185.23Z"/>
<path d="M417.88 183.24L419.98 186.91L415.77 186.91Z"/>
<path d="M420.86 186.59L422.96 190.26L418.76 190.26Z"/>
<path d="M423.85 188.26L425.95 191.94L421.75 191.94Z"/>
<path d="M426.84 189.94L428.94 193.61L424.74 193.61Z"/>
<path d="M429.82 193.29L431.93 196.97L427.72 196.97Z"/>
<path d="M432.81 196.64L434.91 200.32L430.71 200.32Z"/>
<path d="M435.80 200.00L437.90 203.67L433.70 203.67Z"/>
<path d="M438.79 203.35L440.89 207.02L436.69 207.02Z"/>
<path d="M441.77 206.70L443.88 210.38L439.67 210.38Z"/>
<path d="M444.76 210.05L446.86 213.73L442.66 213.73Z"/>
<path d="M447.75 208.38L449.85 212.05L445.65 212.05Z"/>
<path d="M450.74 205.02L452.84 208.70L448.64 208.70Z"/>
<path d="M453.73 208.38L455.83 212.05L451.62 212.05Z"/>
<path d="M456.71 211.73L458.81 215.40L454.61 215.40Z"/>
<path d="M459.70 215.08L461.80 218.75L457.60 218.75Z"/>
<path d="M462.69 216.76L464.79 220.43L460.59 220.43Z"/>
<path d="M465.68 216.76L467.78 220.43L463.57 220.43Z"/>
<path d="M468.66 230.16L470.76 233.84L466.56 233.84Z"/>
<path d="M390.70 231.90L402.20 231.90" stroke="#000" stroke-width="1.2"/>
<circle cx="396.45" cy="231.90" r="1.45" class="mo"/>
<text x="403.80" y="234.06" font-size="5.85" class="b">Rag2<tspan font-size="3.8" dy="-2.2">-/-</tspan><tspan dy="2.2">&#947;C</tspan><tspan font-size="3.8" dy="-2.2">-/-</tspan><tspan dy="2.2"> BM only</tspan></text>
<path d="M390.70 238.85L402.20 238.85" stroke="#000" stroke-width="1.2"/>
<path d="M396.45 236.75L398.55 240.42L394.35 240.42Z"/>
<text x="403.80" y="241.01" font-size="5.85" class="b">CD62L-</text>
<path d="M390.70 245.80L402.20 245.80" stroke="#000" stroke-width="1.2"/>
<rect x="395.00" y="244.35" width="2.90" height="2.90" class="mo"/>
<text x="403.80" y="247.96" font-size="5.85" class="b">Mock challenged</text>
<path d="M57.60 285.20L57.60 369.95" stroke="#000" stroke-width="1.3"/>
<path d="M55.40 369.30L57.60 369.30" stroke="#000" stroke-width="1.0"/>
<text transform="translate(54.10 371.45) scale(0.88 1)" font-size="6.0" class="b" text-anchor="end">-10</text>
<path d="M55.40 355.38L57.60 355.38" stroke="#000" stroke-width="1.0"/>
<text transform="translate(54.10 357.53) scale(0.88 1)" font-size="6.0" class="b" text-anchor="end">-8</text>
<path d="M55.40 341.47L57.60 341.47" stroke="#000" stroke-width="1.0"/>
<text transform="translate(54.10 343.62) scale(0.88 1)" font-size="6.0" class="b" text-anchor="end">-6</text>
<path d="M55.40 327.55L57.60 327.55" stroke="#000" stroke-width="1.0"/>
<text transform="translate(54.10 329.70) scale(0.88 1)" font-size="6.0" class="b" text-anchor="end">-4</text>
<path d="M55.40 313.63L57.60 313.63" stroke="#000" stroke-width="1.0"/>
<text transform="translate(54.10 315.78) scale(0.88 1)" font-size="6.0" class="b" text-anchor="end">-2</text>
<path d="M55.40 299.72L57.60 299.72" stroke="#000" stroke-width="1.0"/>
<text transform="translate(54.10 301.87) scale(0.88 1)" font-size="6.0" class="b" text-anchor="end">0</text>
<path d="M55.40 285.80L57.60 285.80" stroke="#000" stroke-width="1.0"/>
<text transform="translate(54.10 287.95) scale(0.88 1)" font-size="6.0" class="b" text-anchor="end">2</text>
<path d="M57.00 299.72L180.90 299.72" stroke="#000" stroke-width="1.3"/>
<path d="M58.40 299.72L58.40 302.32" stroke="#000" stroke-width="1.0"/>
<path d="M70.60 299.72L70.60 302.32" stroke="#000" stroke-width="1.0"/>
<text transform="translate(70.60 291.10) scale(0.88 1)" font-size="6.0" class="b" text-anchor="middle">4</text>
<path d="M82.80 299.72L82.80 302.32" stroke="#000" stroke-width="1.0"/>
<text transform="translate(82.80 291.10) scale(0.88 1)" font-size="6.0" class="b" text-anchor="middle">8</text>
<path d="M95.00 299.72L95.00 302.32" stroke="#000" stroke-width="1.0"/>
<text transform="translate(95.00 291.10) scale(0.88 1)" font-size="6.0" class="b" text-anchor="middle">12</text>
<path d="M107.20 299.72L107.20 302.32" stroke="#000" stroke-width="1.0"/>
<text transform="translate(107.20 291.10) scale(0.88 1)" font-size="6.0" class="b" text-anchor="middle">16</text>
<path d="M119.40 299.72L119.40 302.32" stroke="#000" stroke-width="1.0"/>
<text transform="translate(119.40 291.10) scale(0.88 1)" font-size="6.0" class="b" text-anchor="middle">20</text>
<path d="M131.60 299.72L131.60 302.32" stroke="#000" stroke-width="1.0"/>
<text transform="translate(131.60 291.10) scale(0.88 1)" font-size="6.0" class="b" text-anchor="middle">24</text>
<path d="M143.80 299.72L143.80 302.32" stroke="#000" stroke-width="1.0"/>
<text transform="translate(143.80 291.10) scale(0.88 1)" font-size="6.0" class="b" text-anchor="middle">28</text>
<path d="M156.00 299.72L156.00 302.32" stroke="#000" stroke-width="1.0"/>
<text transform="translate(156.00 291.10) scale(0.88 1)" font-size="6.0" class="b" text-anchor="middle">32</text>
<path d="M168.20 299.72L168.20 302.32" stroke="#000" stroke-width="1.0"/>
<text transform="translate(168.20 291.10) scale(0.88 1)" font-size="6.0" class="b" text-anchor="middle">36</text>
<path d="M180.40 299.72L180.40 302.32" stroke="#000" stroke-width="1.0"/>
<text transform="translate(180.40 291.10) scale(0.88 1)" font-size="6.0" class="b" text-anchor="middle">40</text>
<text x="42.80" y="327.50" font-size="8.25" class="b" text-anchor="middle" transform="rotate(-90 42.80 327.50)">Change in temperature(<tspan font-size="4.6" dy="-2.8">o</tspan><tspan dy="2.8">C)</tspan></text>
<text x="119.10" y="383.30" font-size="7.83" class="b" text-anchor="middle">Days post challenge</text>
<polyline points="58.40,299.72 61.45,301.11 64.50,299.72 67.55,301.11 70.60,301.80 73.65,303.20 76.70,303.89 79.75,302.50 82.80,303.89 85.85,305.98 88.90,303.89 91.95,301.80 95.00,301.11 98.05,299.72 101.10,299.72 104.15,298.33 107.20,299.72 110.25,298.33 113.30,299.72 116.35,298.33 119.40,299.72 122.45,296.93 125.50,296.24 128.55,298.33 131.60,304.59 134.65,297.63 137.70,296.24 140.75,308.07 143.80,296.24 146.85,297.63 149.90,296.24 152.95,298.33 156.00,301.11 159.05,299.02 162.10,298.33 165.15,303.20 168.20,295.54 171.25,298.33 174.30,297.63 177.35,301.11 180.40,299.72" fill="none" stroke="#000" stroke-width="1.35" stroke-linejoin="miter"/>
<rect x="56.95" y="298.27" width="2.90" height="2.90" class="mo"/>
<rect x="60.00" y="299.66" width="2.90" height="2.90" class="mo"/>
<rect x="63.05" y="298.27" width="2.90" height="2.90" class="mo"/>
<rect x="66.10" y="299.66" width="2.90" height="2.90" class="mo"/>
<rect x="69.15" y="300.35" width="2.90" height="2.90" class="mo"/>
<rect x="72.20" y="301.75" width="2.90" height="2.90" class="mo"/>
<rect x="75.25" y="302.44" width="2.90" height="2.90" class="mo"/>
<rect x="78.30" y="301.05" width="2.90" height="2.90" class="mo"/>
<rect x="81.35" y="302.44" width="2.90" height="2.90" class="mo"/>
<rect x="84.40" y="304.53" width="2.90" height="2.90" class="mo"/>
<rect x="87.45" y="302.44" width="2.90" height="2.90" class="mo"/>
<rect x="90.50" y="300.35" width="2.90" height="2.90" class="mo"/>
<rect x="93.55" y="299.66" width="2.90" height="2.90" class="mo"/>
<rect x="96.60" y="298.27" width="2.90" height="2.90" class="mo"/>
<rect x="99.65" y="298.27" width="2.90" height="2.90" class="mo"/>
<rect x="102.70" y="296.88" width="2.90" height="2.90" class="mo"/>
<rect x="105.75" y="298.27" width="2.90" height="2.90" class="mo"/>
<rect x="108.80" y="296.88" width="2.90" height="2.90" class="mo"/>
<rect x="111.85" y="298.27" width="2.90" height="2.90" class="mo"/>
<rect x="114.90" y="296.88" width="2.90" height="2.90" class="mo"/>
<rect x="117.95" y="298.27" width="2.90" height="2.90" class="mo"/>
<rect x="121.00" y="295.48" width="2.90" height="2.90" class="mo"/>
<rect x="124.05" y="294.79" width="2.90" height="2.90" class="mo"/>
<rect x="127.10" y="296.88" width="2.90" height="2.90" class="mo"/>
<rect x="130.15" y="303.14" width="2.90" height="2.90" class="mo"/>
<rect x="133.20" y="296.18" width="2.90" height="2.90" class="mo"/>
<rect x="136.25" y="294.79" width="2.90" height="2.90" class="mo"/>
<rect x="139.30" y="306.62" width="2.90" height="2.90" class="mo"/>
<rect x="142.35" y="294.79" width="2.90" height="2.90" class="mo"/>
<rect x="145.40" y="296.18" width="2.90" height="2.90" class="mo"/>
<rect x="148.45" y="294.79" width="2.90" height="2.90" class="mo"/>
<rect x="151.50" y="296.88" width="2.90" height="2.90" class="mo"/>
<rect x="154.55" y="299.66" width="2.90" height="2.90" class="mo"/>
<rect x="157.60" y="297.57" width="2.90" height="2.90" class="mo"/>
<rect x="160.65" y="296.88" width="2.90" height="2.90" class="mo"/>
<rect x="163.70" y="301.75" width="2.90" height="2.90" class="mo"/>
<rect x="166.75" y="294.09" width="2.90" height="2.90" class="mo"/>
<rect x="169.80" y="296.88" width="2.90" height="2.90" class="mo"/>
<rect x="172.85" y="296.18" width="2.90" height="2.90" class="mo"/>
<rect x="175.90" y="299.66" width="2.90" height="2.90" class="mo"/>
<rect x="178.95" y="298.27" width="2.90" height="2.90" class="mo"/>
<polyline points="58.40,299.72 61.45,306.68 64.50,308.07 67.55,306.68 70.60,308.07 73.65,310.15 76.70,312.24 79.75,312.94 82.80,315.03 85.85,316.42 88.90,319.90 91.95,327.55 95.00,331.03 98.05,332.42 101.10,338.68 104.15,339.38" fill="none" stroke="#000" stroke-width="1.35" stroke-linejoin="miter"/>
<path d="M88.90 317.81L88.90 321.98" stroke="#000" stroke-width="1.0"/>
<path d="M86.90 317.81L90.90 317.81" stroke="#000" stroke-width="1.0"/>
<path d="M86.90 321.98L90.90 321.98" stroke="#000" stroke-width="1.0"/>
<path d="M91.95 324.07L91.95 331.03" stroke="#000" stroke-width="1.0"/>
<path d="M89.95 324.07L93.95 324.07" stroke="#000" stroke-width="1.0"/>
<path d="M89.95 331.03L93.95 331.03" stroke="#000" stroke-width="1.0"/>
<path d="M95.00 327.55L95.00 334.51" stroke="#000" stroke-width="1.0"/>
<path d="M93.00 327.55L97.00 327.55" stroke="#000" stroke-width="1.0"/>
<path d="M93.00 334.51L97.00 334.51" stroke="#000" stroke-width="1.0"/>
<path d="M98.05 328.94L98.05 335.90" stroke="#000" stroke-width="1.0"/>
<path d="M96.05 328.94L100.05 328.94" stroke="#000" stroke-width="1.0"/>
<path d="M96.05 335.90L100.05 335.90" stroke="#000" stroke-width="1.0"/>
<path d="M101.10 334.51L101.10 342.86" stroke="#000" stroke-width="1.0"/>
<path d="M99.10 334.51L103.10 334.51" stroke="#000" stroke-width="1.0"/>
<path d="M99.10 342.86L103.10 342.86" stroke="#000" stroke-width="1.0"/>
<path d="M104.15 323.38L104.15 355.38" stroke="#000" stroke-width="1.0"/>
<path d="M102.15 323.38L106.15 323.38" stroke="#000" stroke-width="1.0"/>
<path d="M102.15 355.38L106.15 355.38" stroke="#000" stroke-width="1.0"/>
<circle cx="58.40" cy="299.72" r="1.45" class="mo"/>
<circle cx="61.45" cy="306.68" r="1.45" class="mo"/>
<circle cx="64.50" cy="308.07" r="1.45" class="mo"/>
<circle cx="67.55" cy="306.68" r="1.45" class="mo"/>
<circle cx="70.60" cy="308.07" r="1.45" class="mo"/>
<circle cx="73.65" cy="310.15" r="1.45" class="mo"/>
<circle cx="76.70" cy="312.24" r="1.45" class="mo"/>
<circle cx="79.75" cy="312.94" r="1.45" class="mo"/>
<circle cx="82.80" cy="315.03" r="1.45" class="mo"/>
<circle cx="85.85" cy="316.42" r="1.45" class="mo"/>
<circle cx="88.90" cy="319.90" r="1.45" class="mo"/>
<circle cx="91.95" cy="327.55" r="1.45" class="mo"/>
<circle cx="95.00" cy="331.03" r="1.45" class="mo"/>
<circle cx="98.05" cy="332.42" r="1.45" class="mo"/>
<circle cx="101.10" cy="338.68" r="1.45" class="mo"/>
<circle cx="104.15" cy="339.38" r="1.45" class="mo"/>
<polyline points="58.40,299.72 61.45,305.28 64.50,307.37 67.55,308.07 70.60,308.76 73.65,310.15 76.70,312.24 79.75,313.63 82.80,313.63 85.85,312.94 88.90,311.55 91.95,310.15 95.00,312.94 98.05,315.03 101.10,315.72 104.15,321.29 107.20,324.77 110.25,327.55 113.30,333.81 116.35,332.42 119.40,329.64 122.45,331.03 125.50,333.81 128.55,333.12 131.60,323.38 134.65,333.81 137.70,348.43 140.75,333.81 143.80,367.91 146.85,334.51 149.90,322.68 152.95,327.55 156.00,331.03 159.05,333.81 162.10,332.42 165.15,329.64 168.20,353.99 171.25,343.55 174.30,356.78 177.35,344.25 180.40,343.55" fill="none" stroke="#000" stroke-width="1.35" stroke-linejoin="miter"/>
<path d="M76.70 310.15L76.70 314.33" stroke="#000" stroke-width="1.0"/>
<path d="M74.70 310.15L78.70 310.15" stroke="#000" stroke-width="1.0"/>
<path d="M74.70 314.33L78.70 314.33" stroke="#000" stroke-width="1.0"/>
<path d="M79.75 311.55L79.75 315.72" stroke="#000" stroke-width="1.0"/>
<path d="M77.75 311.55L81.75 311.55" stroke="#000" stroke-width="1.0"/>
<path d="M77.75 315.72L81.75 315.72" stroke="#000" stroke-width="1.0"/>
<path d="M82.80 311.55L82.80 315.72" stroke="#000" stroke-width="1.0"/>
<path d="M80.80 311.55L84.80 311.55" stroke="#000" stroke-width="1.0"/>
<path d="M80.80 315.72L84.80 315.72" stroke="#000" stroke-width="1.0"/>
<path d="M85.85 310.85L85.85 315.02" stroke="#000" stroke-width="1.0"/>
<path d="M83.85 310.85L87.85 310.85" stroke="#000" stroke-width="1.0"/>
<path d="M83.85 315.02L87.85 315.02" stroke="#000" stroke-width="1.0"/>
<path d="M88.90 309.46L88.90 313.63" stroke="#000" stroke-width="1.0"/>
<path d="M86.90 309.46L90.90 309.46" stroke="#000" stroke-width="1.0"/>
<path d="M86.90 313.63L90.90 313.63" stroke="#000" stroke-width="1.0"/>
<path d="M91.95 308.07L91.95 312.24" stroke="#000" stroke-width="1.0"/>
<path d="M89.95 308.07L93.95 308.07" stroke="#000" stroke-width="1.0"/>
<path d="M89.95 312.24L93.95 312.24" stroke="#000" stroke-width="1.0"/>
<path d="M95.00 310.85L95.00 315.02" stroke="#000" stroke-width="1.0"/>
<path d="M93.00 310.85L97.00 310.85" stroke="#000" stroke-width="1.0"/>
<path d="M93.00 315.02L97.00 315.02" stroke="#000" stroke-width="1.0"/>
<path d="M98.05 312.94L98.05 317.11" stroke="#000" stroke-width="1.0"/>
<path d="M96.05 312.94L100.05 312.94" stroke="#000" stroke-width="1.0"/>
<path d="M96.05 317.11L100.05 317.11" stroke="#000" stroke-width="1.0"/>
<path d="M101.10 313.63L101.10 317.81" stroke="#000" stroke-width="1.0"/>
<path d="M99.10 313.63L103.10 313.63" stroke="#000" stroke-width="1.0"/>
<path d="M99.10 317.81L103.10 317.81" stroke="#000" stroke-width="1.0"/>
<path d="M104.15 319.20L104.15 323.38" stroke="#000" stroke-width="1.0"/>
<path d="M102.15 319.20L106.15 319.20" stroke="#000" stroke-width="1.0"/>
<path d="M102.15 323.38L106.15 323.38" stroke="#000" stroke-width="1.0"/>
<path d="M107.20 321.29L107.20 328.25" stroke="#000" stroke-width="1.0"/>
<path d="M105.20 321.29L109.20 321.29" stroke="#000" stroke-width="1.0"/>
<path d="M105.20 328.25L109.20 328.25" stroke="#000" stroke-width="1.0"/>
<path d="M110.25 324.07L110.25 331.03" stroke="#000" stroke-width="1.0"/>
<path d="M108.25 324.07L112.25 324.07" stroke="#000" stroke-width="1.0"/>
<path d="M108.25 331.03L112.25 331.03" stroke="#000" stroke-width="1.0"/>
<path d="M113.30 329.64L113.30 337.99" stroke="#000" stroke-width="1.0"/>
<path d="M111.30 329.64L115.30 329.64" stroke="#000" stroke-width="1.0"/>
<path d="M111.30 337.99L115.30 337.99" stroke="#000" stroke-width="1.0"/>
<path d="M116.35 328.25L116.35 336.60" stroke="#000" stroke-width="1.0"/>
<path d="M114.35 328.25L118.35 328.25" stroke="#000" stroke-width="1.0"/>
<path d="M114.35 336.60L118.35 336.60" stroke="#000" stroke-width="1.0"/>
<path d="M119.40 325.46L119.40 333.81" stroke="#000" stroke-width="1.0"/>
<path d="M117.40 325.46L121.40 325.46" stroke="#000" stroke-width="1.0"/>
<path d="M117.40 333.81L121.40 333.81" stroke="#000" stroke-width="1.0"/>
<path d="M122.45 326.85L122.45 335.20" stroke="#000" stroke-width="1.0"/>
<path d="M120.45 326.85L124.45 326.85" stroke="#000" stroke-width="1.0"/>
<path d="M120.45 335.20L124.45 335.20" stroke="#000" stroke-width="1.0"/>
<path d="M125.50 329.64L125.50 337.99" stroke="#000" stroke-width="1.0"/>
<path d="M123.50 329.64L127.50 329.64" stroke="#000" stroke-width="1.0"/>
<path d="M123.50 337.99L127.50 337.99" stroke="#000" stroke-width="1.0"/>
<path d="M128.55 328.94L128.55 337.29" stroke="#000" stroke-width="1.0"/>
<path d="M126.55 328.94L130.55 328.94" stroke="#000" stroke-width="1.0"/>
<path d="M126.55 337.29L130.55 337.29" stroke="#000" stroke-width="1.0"/>
<path d="M131.60 313.63L131.60 333.12" stroke="#000" stroke-width="1.0"/>
<path d="M129.60 313.63L133.60 313.63" stroke="#000" stroke-width="1.0"/>
<path d="M129.60 333.12L133.60 333.12" stroke="#000" stroke-width="1.0"/>
<path d="M134.65 328.25L134.65 339.38" stroke="#000" stroke-width="1.0"/>
<path d="M132.65 328.25L136.65 328.25" stroke="#000" stroke-width="1.0"/>
<path d="M132.65 339.38L136.65 339.38" stroke="#000" stroke-width="1.0"/>
<path d="M137.70 327.55L137.70 369.30" stroke="#000" stroke-width="1.0"/>
<path d="M135.70 327.55L139.70 327.55" stroke="#000" stroke-width="1.0"/>
<path d="M135.70 369.30L139.70 369.30" stroke="#000" stroke-width="1.0"/>
<path d="M140.75 328.94L140.75 338.68" stroke="#000" stroke-width="1.0"/>
<path d="M138.75 328.94L142.75 328.94" stroke="#000" stroke-width="1.0"/>
<path d="M138.75 338.68L142.75 338.68" stroke="#000" stroke-width="1.0"/>
<path d="M143.80 353.99L143.80 369.30" stroke="#000" stroke-width="1.0"/>
<path d="M141.80 353.99L145.80 353.99" stroke="#000" stroke-width="1.0"/>
<path d="M146.85 328.94L146.85 340.07" stroke="#000" stroke-width="1.0"/>
<path d="M144.85 328.94L148.85 328.94" stroke="#000" stroke-width="1.0"/>
<path d="M144.85 340.07L148.85 340.07" stroke="#000" stroke-width="1.0"/>
<path d="M149.90 308.76L149.90 336.60" stroke="#000" stroke-width="1.0"/>
<path d="M147.90 308.76L151.90 308.76" stroke="#000" stroke-width="1.0"/>
<path d="M147.90 336.60L151.90 336.60" stroke="#000" stroke-width="1.0"/>
<path d="M152.95 321.98L152.95 333.12" stroke="#000" stroke-width="1.0"/>
<path d="M150.95 321.98L154.95 321.98" stroke="#000" stroke-width="1.0"/>
<path d="M150.95 333.12L154.95 333.12" stroke="#000" stroke-width="1.0"/>
<path d="M156.00 325.46L156.00 336.60" stroke="#000" stroke-width="1.0"/>
<path d="M154.00 325.46L158.00 325.46" stroke="#000" stroke-width="1.0"/>
<path d="M154.00 336.60L158.00 336.60" stroke="#000" stroke-width="1.0"/>
<path d="M159.05 329.64L159.05 337.99" stroke="#000" stroke-width="1.0"/>
<path d="M157.05 329.64L161.05 329.64" stroke="#000" stroke-width="1.0"/>
<path d="M157.05 337.99L161.05 337.99" stroke="#000" stroke-width="1.0"/>
<path d="M162.10 328.94L162.10 335.90" stroke="#000" stroke-width="1.0"/>
<path d="M160.10 328.94L164.10 328.94" stroke="#000" stroke-width="1.0"/>
<path d="M160.10 335.90L164.10 335.90" stroke="#000" stroke-width="1.0"/>
<path d="M165.15 324.77L165.15 334.51" stroke="#000" stroke-width="1.0"/>
<path d="M163.15 324.77L167.15 324.77" stroke="#000" stroke-width="1.0"/>
<path d="M163.15 334.51L167.15 334.51" stroke="#000" stroke-width="1.0"/>
<path d="M168.20 343.55L168.20 364.43" stroke="#000" stroke-width="1.0"/>
<path d="M166.20 343.55L170.20 343.55" stroke="#000" stroke-width="1.0"/>
<path d="M166.20 364.43L170.20 364.43" stroke="#000" stroke-width="1.0"/>
<path d="M171.25 336.60L171.25 350.51" stroke="#000" stroke-width="1.0"/>
<path d="M169.25 336.60L173.25 336.60" stroke="#000" stroke-width="1.0"/>
<path d="M169.25 350.51L173.25 350.51" stroke="#000" stroke-width="1.0"/>
<path d="M174.30 349.82L174.30 363.73" stroke="#000" stroke-width="1.0"/>
<path d="M172.30 349.82L176.30 349.82" stroke="#000" stroke-width="1.0"/>
<path d="M172.30 363.73L176.30 363.73" stroke="#000" stroke-width="1.0"/>
<path d="M177.35 338.68L177.35 349.82" stroke="#000" stroke-width="1.0"/>
<path d="M175.35 338.68L179.35 338.68" stroke="#000" stroke-width="1.0"/>
<path d="M175.35 349.82L179.35 349.82" stroke="#000" stroke-width="1.0"/>
<path d="M180.40 338.68L180.40 348.43" stroke="#000" stroke-width="1.0"/>
<path d="M178.40 338.68L182.40 338.68" stroke="#000" stroke-width="1.0"/>
<path d="M178.40 348.43L182.40 348.43" stroke="#000" stroke-width="1.0"/>
<path d="M58.40 297.62L60.50 301.29L56.30 301.29Z"/>
<path d="M61.45 303.18L63.55 306.86L59.35 306.86Z"/>
<path d="M64.50 305.27L66.60 308.95L62.40 308.95Z"/>
<path d="M67.55 305.97L69.65 309.64L65.45 309.64Z"/>
<path d="M70.60 306.66L72.70 310.34L68.50 310.34Z"/>
<path d="M73.65 308.05L75.75 311.73L71.55 311.73Z"/>
<path d="M76.70 310.14L78.80 313.82L74.60 313.82Z"/>
<path d="M79.75 311.53L81.85 315.21L77.65 315.21Z"/>
<path d="M82.80 311.53L84.90 315.21L80.70 315.21Z"/>
<path d="M85.85 310.84L87.95 314.51L83.75 314.51Z"/>
<path d="M88.90 309.45L91.00 313.12L86.80 313.12Z"/>
<path d="M91.95 308.05L94.05 311.73L89.85 311.73Z"/>
<path d="M95.00 310.84L97.10 314.51L92.90 314.51Z"/>
<path d="M98.05 312.93L100.15 316.60L95.95 316.60Z"/>
<path d="M101.10 313.62L103.20 317.30L99.00 317.30Z"/>
<path d="M104.15 319.19L106.25 322.86L102.05 322.86Z"/>
<path d="M107.20 322.67L109.30 326.34L105.10 326.34Z"/>
<path d="M110.25 325.45L112.35 329.12L108.15 329.12Z"/>
<path d="M113.30 331.71L115.40 335.39L111.20 335.39Z"/>
<path d="M116.35 330.32L118.45 334.00L114.25 334.00Z"/>
<path d="M119.40 327.54L121.50 331.21L117.30 331.21Z"/>
<path d="M122.45 328.93L124.55 332.60L120.35 332.60Z"/>
<path d="M125.50 331.71L127.60 335.39L123.40 335.39Z"/>
<path d="M128.55 331.02L130.65 334.69L126.45 334.69Z"/>
<path d="M131.60 321.27L133.70 324.95L129.50 324.95Z"/>
<path d="M134.65 331.71L136.75 335.39L132.55 335.39Z"/>
<path d="M137.70 346.32L139.80 350.00L135.60 350.00Z"/>
<path d="M140.75 331.71L142.85 335.39L138.65 335.39Z"/>
<path d="M143.80 365.81L145.90 369.48L141.70 369.48Z"/>
<path d="M146.85 332.41L148.95 336.08L144.75 336.08Z"/>
<path d="M149.90 320.58L152.00 324.25L147.80 324.25Z"/>
<path d="M152.95 325.45L155.05 329.12L150.85 329.12Z"/>
<path d="M156.00 328.93L158.10 332.60L153.90 332.60Z"/>
<path d="M159.05 331.71L161.15 335.39L156.95 335.39Z"/>
<path d="M162.10 330.32L164.20 334.00L160.00 334.00Z"/>
<path d="M165.15 327.54L167.25 331.21L163.05 331.21Z"/>
<path d="M168.20 351.89L170.30 355.57L166.10 355.57Z"/>
<path d="M171.25 341.45L173.35 345.13L169.15 345.13Z"/>
<path d="M174.30 354.68L176.40 358.35L172.20 358.35Z"/>
<path d="M177.35 342.15L179.45 345.82L175.25 345.82Z"/>
<path d="M180.40 341.45L182.50 345.13L178.30 345.13Z"/>
<path d="M63.00 350.50L74.50 350.50" stroke="#000" stroke-width="1.2"/>
<circle cx="68.75" cy="350.50" r="1.45" class="mo"/>
<text x="76.10" y="352.74" font-size="6.05" class="b">TCD BM only</text>
<path d="M63.00 357.45L74.50 357.45" stroke="#000" stroke-width="1.2"/>
<path d="M68.75 355.35L70.85 359.02L66.65 359.02Z"/>
<text x="76.10" y="359.69" font-size="6.05" class="b">CD62L-</text>
<path d="M63.00 364.40L74.50 364.40" stroke="#000" stroke-width="1.2"/>
<rect x="67.30" y="362.95" width="2.90" height="2.90" class="mo"/>
<text x="76.10" y="366.64" font-size="6.05" class="b">Mock challenged</text>
<path d="M228.80 286.70L228.80 371.25" stroke="#000" stroke-width="1.3"/>
<path d="M226.60 370.60L228.80 370.60" stroke="#000" stroke-width="1.0"/>
<text transform="translate(225.30 372.75) scale(0.88 1)" font-size="6.0" class="b" text-anchor="end">-10</text>
<path d="M226.60 356.72L228.80 356.72" stroke="#000" stroke-width="1.0"/>
<text transform="translate(225.30 358.87) scale(0.88 1)" font-size="6.0" class="b" text-anchor="end">-8</text>
<path d="M226.60 342.83L228.80 342.83" stroke="#000" stroke-width="1.0"/>
<text transform="translate(225.30 344.98) scale(0.88 1)" font-size="6.0" class="b" text-anchor="end">-6</text>
<path d="M226.60 328.95L228.80 328.95" stroke="#000" stroke-width="1.0"/>
<text transform="translate(225.30 331.10) scale(0.88 1)" font-size="6.0" class="b" text-anchor="end">-4</text>
<path d="M226.60 315.07L228.80 315.07" stroke="#000" stroke-width="1.0"/>
<text transform="translate(225.30 317.22) scale(0.88 1)" font-size="6.0" class="b" text-anchor="end">-2</text>
<path d="M226.60 301.18L228.80 301.18" stroke="#000" stroke-width="1.0"/>
<text transform="translate(225.30 303.33) scale(0.88 1)" font-size="6.0" class="b" text-anchor="end">0</text>
<path d="M226.60 287.30L228.80 287.30" stroke="#000" stroke-width="1.0"/>
<text transform="translate(225.30 289.45) scale(0.88 1)" font-size="6.0" class="b" text-anchor="end">2</text>
<path d="M228.20 301.18L355.20 301.18" stroke="#000" stroke-width="1.3"/>
<path d="M229.70 301.18L229.70 303.78" stroke="#000" stroke-width="1.0"/>
<path d="M242.20 301.18L242.20 303.78" stroke="#000" stroke-width="1.0"/>
<text transform="translate(242.20 292.60) scale(0.88 1)" font-size="6.0" class="b" text-anchor="middle">4</text>
<path d="M254.70 301.18L254.70 303.78" stroke="#000" stroke-width="1.0"/>
<text transform="translate(254.70 292.60) scale(0.88 1)" font-size="6.0" class="b" text-anchor="middle">8</text>
<path d="M267.20 301.18L267.20 303.78" stroke="#000" stroke-width="1.0"/>
<text transform="translate(267.20 292.60) scale(0.88 1)" font-size="6.0" class="b" text-anchor="middle">12</text>
<path d="M279.70 301.18L279.70 303.78" stroke="#000" stroke-width="1.0"/>
<text transform="translate(279.70 292.60) scale(0.88 1)" font-size="6.0" class="b" text-anchor="middle">16</text>
<path d="M292.20 301.18L292.20 303.78" stroke="#000" stroke-width="1.0"/>
<text transform="translate(292.20 292.60) scale(0.88 1)" font-size="6.0" class="b" text-anchor="middle">20</text>
<path d="M304.70 301.18L304.70 303.78" stroke="#000" stroke-width="1.0"/>
<text transform="translate(304.70 292.60) scale(0.88 1)" font-size="6.0" class="b" text-anchor="middle">24</text>
<path d="M317.20 301.18L317.20 303.78" stroke="#000" stroke-width="1.0"/>
<text transform="translate(317.20 292.60) scale(0.88 1)" font-size="6.0" class="b" text-anchor="middle">28</text>
<path d="M329.70 301.18L329.70 303.78" stroke="#000" stroke-width="1.0"/>
<text transform="translate(329.70 292.60) scale(0.88 1)" font-size="6.0" class="b" text-anchor="middle">32</text>
<path d="M342.20 301.18L342.20 303.78" stroke="#000" stroke-width="1.0"/>
<text transform="translate(342.20 292.60) scale(0.88 1)" font-size="6.0" class="b" text-anchor="middle">36</text>
<path d="M354.70 301.18L354.70 303.78" stroke="#000" stroke-width="1.0"/>
<text transform="translate(354.70 292.60) scale(0.88 1)" font-size="6.0" class="b" text-anchor="middle">40</text>
<text x="212.80" y="328.65" font-size="8.1" class="b" text-anchor="middle" transform="rotate(-90 212.80 328.65)">Change in temperature(<tspan font-size="4.6" dy="-2.8">o</tspan><tspan dy="2.8">C)</tspan></text>
<text x="291.75" y="382.30" font-size="8.12" class="b" text-anchor="middle">Days post chanllenge</text>
<polyline points="229.70,301.18 232.82,301.18 235.95,301.18 239.07,301.18 242.20,303.27 245.32,301.88 248.45,301.18 251.57,299.80 254.70,301.18 257.82,301.18 260.95,301.18 264.07,301.18 267.20,301.18 270.32,301.18 273.45,301.18 276.57,299.80 279.70,298.41 282.82,299.80 285.95,299.80 289.07,301.18 292.20,297.71 295.32,297.71 298.45,299.80 301.57,299.10 304.70,306.04 307.82,297.71 310.95,298.41 314.07,308.12 317.20,297.71 320.32,299.10 323.45,299.10 326.57,300.49 329.70,305.35 332.82,301.18 335.95,299.80 339.07,299.10 342.20,297.71 345.32,299.80 348.45,299.80 351.57,304.65 354.70,301.18" fill="none" stroke="#000" stroke-width="1.35" stroke-linejoin="miter"/>
<rect x="228.25" y="299.73" width="2.90" height="2.90" class="mo"/>
<rect x="231.38" y="299.73" width="2.90" height="2.90" class="mo"/>
<rect x="234.50" y="299.73" width="2.90" height="2.90" class="mo"/>
<rect x="237.62" y="299.73" width="2.90" height="2.90" class="mo"/>
<rect x="240.75" y="301.82" width="2.90" height="2.90" class="mo"/>
<rect x="243.88" y="300.43" width="2.90" height="2.90" class="mo"/>
<rect x="247.00" y="299.73" width="2.90" height="2.90" class="mo"/>
<rect x="250.12" y="298.35" width="2.90" height="2.90" class="mo"/>
<rect x="253.25" y="299.73" width="2.90" height="2.90" class="mo"/>
<rect x="256.38" y="299.73" width="2.90" height="2.90" class="mo"/>
<rect x="259.50" y="299.73" width="2.90" height="2.90" class="mo"/>
<rect x="262.62" y="299.73" width="2.90" height="2.90" class="mo"/>
<rect x="265.75" y="299.73" width="2.90" height="2.90" class="mo"/>
<rect x="268.88" y="299.73" width="2.90" height="2.90" class="mo"/>
<rect x="272.00" y="299.73" width="2.90" height="2.90" class="mo"/>
<rect x="275.12" y="298.35" width="2.90" height="2.90" class="mo"/>
<rect x="278.25" y="296.96" width="2.90" height="2.90" class="mo"/>
<rect x="281.38" y="298.35" width="2.90" height="2.90" class="mo"/>
<rect x="284.50" y="298.35" width="2.90" height="2.90" class="mo"/>
<rect x="287.62" y="299.73" width="2.90" height="2.90" class="mo"/>
<rect x="290.75" y="296.26" width="2.90" height="2.90" class="mo"/>
<rect x="293.88" y="296.26" width="2.90" height="2.90" class="mo"/>
<rect x="297.00" y="298.35" width="2.90" height="2.90" class="mo"/>
<rect x="300.12" y="297.65" width="2.90" height="2.90" class="mo"/>
<rect x="303.25" y="304.59" width="2.90" height="2.90" class="mo"/>
<rect x="306.38" y="296.26" width="2.90" height="2.90" class="mo"/>
<rect x="309.50" y="296.96" width="2.90" height="2.90" class="mo"/>
<rect x="312.62" y="306.68" width="2.90" height="2.90" class="mo"/>
<rect x="315.75" y="296.26" width="2.90" height="2.90" class="mo"/>
<rect x="318.88" y="297.65" width="2.90" height="2.90" class="mo"/>
<rect x="322.00" y="297.65" width="2.90" height="2.90" class="mo"/>
<rect x="325.12" y="299.04" width="2.90" height="2.90" class="mo"/>
<rect x="328.25" y="303.90" width="2.90" height="2.90" class="mo"/>
<rect x="331.38" y="299.73" width="2.90" height="2.90" class="mo"/>
<rect x="334.50" y="298.35" width="2.90" height="2.90" class="mo"/>
<rect x="337.62" y="297.65" width="2.90" height="2.90" class="mo"/>
<rect x="340.75" y="296.26" width="2.90" height="2.90" class="mo"/>
<rect x="343.88" y="298.35" width="2.90" height="2.90" class="mo"/>
<rect x="347.00" y="298.35" width="2.90" height="2.90" class="mo"/>
<rect x="350.12" y="303.20" width="2.90" height="2.90" class="mo"/>
<rect x="353.25" y="299.73" width="2.90" height="2.90" class="mo"/>
<polyline points="229.70,301.18 232.82,303.96 235.95,307.43 239.07,312.29 242.20,316.46 245.32,313.68 248.45,311.60 251.57,310.90 254.70,312.29 257.82,310.90 260.95,310.90 264.07,313.68 267.20,319.23 270.32,320.62 273.45,322.01 276.57,325.48 279.70,326.17 282.82,328.95 285.95,328.95 289.07,334.50" fill="none" stroke="#000" stroke-width="1.35" stroke-linejoin="miter"/>
<path d="M239.07 310.21L239.07 314.37" stroke="#000" stroke-width="1.0"/>
<path d="M237.07 310.21L241.07 310.21" stroke="#000" stroke-width="1.0"/>
<path d="M237.07 314.37L241.07 314.37" stroke="#000" stroke-width="1.0"/>
<path d="M242.20 312.98L242.20 319.93" stroke="#000" stroke-width="1.0"/>
<path d="M240.20 312.98L244.20 312.98" stroke="#000" stroke-width="1.0"/>
<path d="M240.20 319.93L244.20 319.93" stroke="#000" stroke-width="1.0"/>
<path d="M245.32 311.60L245.32 315.76" stroke="#000" stroke-width="1.0"/>
<path d="M243.32 311.60L247.32 311.60" stroke="#000" stroke-width="1.0"/>
<path d="M243.32 315.76L247.32 315.76" stroke="#000" stroke-width="1.0"/>
<path d="M248.45 310.21L248.45 312.98" stroke="#000" stroke-width="1.0"/>
<path d="M246.45 310.21L250.45 310.21" stroke="#000" stroke-width="1.0"/>
<path d="M246.45 312.98L250.45 312.98" stroke="#000" stroke-width="1.0"/>
<path d="M251.57 309.51L251.57 312.29" stroke="#000" stroke-width="1.0"/>
<path d="M249.57 309.51L253.57 309.51" stroke="#000" stroke-width="1.0"/>
<path d="M249.57 312.29L253.57 312.29" stroke="#000" stroke-width="1.0"/>
<path d="M254.70 310.90L254.70 313.68" stroke="#000" stroke-width="1.0"/>
<path d="M252.70 310.90L256.70 310.90" stroke="#000" stroke-width="1.0"/>
<path d="M252.70 313.68L256.70 313.68" stroke="#000" stroke-width="1.0"/>
<path d="M257.82 309.51L257.82 312.29" stroke="#000" stroke-width="1.0"/>
<path d="M255.82 309.51L259.82 309.51" stroke="#000" stroke-width="1.0"/>
<path d="M255.82 312.29L259.82 312.29" stroke="#000" stroke-width="1.0"/>
<path d="M260.95 309.51L260.95 312.29" stroke="#000" stroke-width="1.0"/>
<path d="M258.95 309.51L262.95 309.51" stroke="#000" stroke-width="1.0"/>
<path d="M258.95 312.29L262.95 312.29" stroke="#000" stroke-width="1.0"/>
<path d="M264.07 311.60L264.07 315.76" stroke="#000" stroke-width="1.0"/>
<path d="M262.07 311.60L266.07 311.60" stroke="#000" stroke-width="1.0"/>
<path d="M262.07 315.76L266.07 315.76" stroke="#000" stroke-width="1.0"/>
<path d="M267.20 317.15L267.20 321.31" stroke="#000" stroke-width="1.0"/>
<path d="M265.20 317.15L269.20 317.15" stroke="#000" stroke-width="1.0"/>
<path d="M265.20 321.31L269.20 321.31" stroke="#000" stroke-width="1.0"/>
<path d="M270.32 318.54L270.32 322.70" stroke="#000" stroke-width="1.0"/>
<path d="M268.32 318.54L272.32 318.54" stroke="#000" stroke-width="1.0"/>
<path d="M268.32 322.70L272.32 322.70" stroke="#000" stroke-width="1.0"/>
<path d="M273.45 319.93L273.45 324.09" stroke="#000" stroke-width="1.0"/>
<path d="M271.45 319.93L275.45 319.93" stroke="#000" stroke-width="1.0"/>
<path d="M271.45 324.09L275.45 324.09" stroke="#000" stroke-width="1.0"/>
<path d="M276.57 323.40L276.57 327.56" stroke="#000" stroke-width="1.0"/>
<path d="M274.57 323.40L278.57 323.40" stroke="#000" stroke-width="1.0"/>
<path d="M274.57 327.56L278.57 327.56" stroke="#000" stroke-width="1.0"/>
<path d="M279.70 324.09L279.70 328.26" stroke="#000" stroke-width="1.0"/>
<path d="M277.70 324.09L281.70 324.09" stroke="#000" stroke-width="1.0"/>
<path d="M277.70 328.26L281.70 328.26" stroke="#000" stroke-width="1.0"/>
<path d="M282.82 326.87L282.82 331.03" stroke="#000" stroke-width="1.0"/>
<path d="M280.82 326.87L284.82 326.87" stroke="#000" stroke-width="1.0"/>
<path d="M280.82 331.03L284.82 331.03" stroke="#000" stroke-width="1.0"/>
<path d="M285.95 326.87L285.95 331.03" stroke="#000" stroke-width="1.0"/>
<path d="M283.95 326.87L287.95 326.87" stroke="#000" stroke-width="1.0"/>
<path d="M283.95 331.03L287.95 331.03" stroke="#000" stroke-width="1.0"/>
<path d="M289.07 331.03L289.07 337.97" stroke="#000" stroke-width="1.0"/>
<path d="M287.07 331.03L291.07 331.03" stroke="#000" stroke-width="1.0"/>
<path d="M287.07 337.97L291.07 337.97" stroke="#000" stroke-width="1.0"/>
<circle cx="229.70" cy="301.18" r="1.45" class="mo"/>
<circle cx="232.82" cy="303.96" r="1.45" class="mo"/>
<circle cx="235.95" cy="307.43" r="1.45" class="mo"/>
<circle cx="239.07" cy="312.29" r="1.45" class="mo"/>
<circle cx="242.20" cy="316.46" r="1.45" class="mo"/>
<circle cx="245.32" cy="313.68" r="1.45" class="mo"/>
<circle cx="248.45" cy="311.60" r="1.45" class="mo"/>
<circle cx="251.57" cy="310.90" r="1.45" class="mo"/>
<circle cx="254.70" cy="312.29" r="1.45" class="mo"/>
<circle cx="257.82" cy="310.90" r="1.45" class="mo"/>
<circle cx="260.95" cy="310.90" r="1.45" class="mo"/>
<circle cx="264.07" cy="313.68" r="1.45" class="mo"/>
<circle cx="267.20" cy="319.23" r="1.45" class="mo"/>
<circle cx="270.32" cy="320.62" r="1.45" class="mo"/>
<circle cx="273.45" cy="322.01" r="1.45" class="mo"/>
<circle cx="276.57" cy="325.48" r="1.45" class="mo"/>
<circle cx="279.70" cy="326.17" r="1.45" class="mo"/>
<circle cx="282.82" cy="328.95" r="1.45" class="mo"/>
<circle cx="285.95" cy="328.95" r="1.45" class="mo"/>
<circle cx="289.07" cy="334.50" r="1.45" class="mo"/>
<polyline points="229.70,301.18 232.82,303.27 235.95,305.35 239.07,309.51 242.20,313.68 245.32,311.60 248.45,309.51 251.57,308.82 254.70,310.21 257.82,308.82 260.95,308.82 264.07,310.90 267.20,316.46 270.32,319.23 273.45,322.01 276.57,323.40 279.70,324.79 282.82,326.17 285.95,328.95 289.07,330.34 292.20,323.40 295.32,328.95 298.45,331.03 301.57,333.12 304.70,340.06 307.82,342.83 310.95,347.69 314.07,337.28 317.20,339.36 320.32,340.06" fill="none" stroke="#000" stroke-width="1.35" stroke-linejoin="miter"/>
<path d="M264.07 308.82L264.07 312.98" stroke="#000" stroke-width="1.0"/>
<path d="M262.07 308.82L266.07 308.82" stroke="#000" stroke-width="1.0"/>
<path d="M262.07 312.98L266.07 312.98" stroke="#000" stroke-width="1.0"/>
<path d="M267.20 314.37L267.20 318.54" stroke="#000" stroke-width="1.0"/>
<path d="M265.20 314.37L269.20 314.37" stroke="#000" stroke-width="1.0"/>
<path d="M265.20 318.54L269.20 318.54" stroke="#000" stroke-width="1.0"/>
<path d="M270.32 317.15L270.32 321.31" stroke="#000" stroke-width="1.0"/>
<path d="M268.32 317.15L272.32 317.15" stroke="#000" stroke-width="1.0"/>
<path d="M268.32 321.31L272.32 321.31" stroke="#000" stroke-width="1.0"/>
<path d="M273.45 319.93L273.45 324.09" stroke="#000" stroke-width="1.0"/>
<path d="M271.45 319.93L275.45 319.93" stroke="#000" stroke-width="1.0"/>
<path d="M271.45 324.09L275.45 324.09" stroke="#000" stroke-width="1.0"/>
<path d="M276.57 321.31L276.57 325.48" stroke="#000" stroke-width="1.0"/>
<path d="M274.57 321.31L278.57 321.31" stroke="#000" stroke-width="1.0"/>
<path d="M274.57 325.48L278.57 325.48" stroke="#000" stroke-width="1.0"/>
<path d="M279.70 322.70L279.70 326.87" stroke="#000" stroke-width="1.0"/>
<path d="M277.70 322.70L281.70 322.70" stroke="#000" stroke-width="1.0"/>
<path d="M277.70 326.87L281.70 326.87" stroke="#000" stroke-width="1.0"/>
<path d="M282.82 324.09L282.82 328.26" stroke="#000" stroke-width="1.0"/>
<path d="M280.82 324.09L284.82 324.09" stroke="#000" stroke-width="1.0"/>
<path d="M280.82 328.26L284.82 328.26" stroke="#000" stroke-width="1.0"/>
<path d="M285.95 326.87L285.95 331.03" stroke="#000" stroke-width="1.0"/>
<path d="M283.95 326.87L287.95 326.87" stroke="#000" stroke-width="1.0"/>
<path d="M283.95 331.03L287.95 331.03" stroke="#000" stroke-width="1.0"/>
<path d="M289.07 319.93L289.07 340.75" stroke="#000" stroke-width="1.0"/>
<path d="M287.07 319.93L291.07 319.93" stroke="#000" stroke-width="1.0"/>
<path d="M287.07 340.75L291.07 340.75" stroke="#000" stroke-width="1.0"/>
<path d="M292.20 308.13L292.20 338.67" stroke="#000" stroke-width="1.0"/>
<path d="M290.20 308.13L294.20 308.13" stroke="#000" stroke-width="1.0"/>
<path d="M290.20 338.67L294.20 338.67" stroke="#000" stroke-width="1.0"/>
<path d="M295.32 311.60L295.32 346.30" stroke="#000" stroke-width="1.0"/>
<path d="M293.32 311.60L297.32 311.60" stroke="#000" stroke-width="1.0"/>
<path d="M293.32 346.30L297.32 346.30" stroke="#000" stroke-width="1.0"/>
<path d="M298.45 311.60L298.45 350.47" stroke="#000" stroke-width="1.0"/>
<path d="M296.45 311.60L300.45 311.60" stroke="#000" stroke-width="1.0"/>
<path d="M296.45 350.47L300.45 350.47" stroke="#000" stroke-width="1.0"/>
<path d="M301.57 313.68L301.57 352.55" stroke="#000" stroke-width="1.0"/>
<path d="M299.57 313.68L303.57 313.68" stroke="#000" stroke-width="1.0"/>
<path d="M299.57 352.55L303.57 352.55" stroke="#000" stroke-width="1.0"/>
<path d="M304.70 322.01L304.70 358.11" stroke="#000" stroke-width="1.0"/>
<path d="M302.70 322.01L306.70 322.01" stroke="#000" stroke-width="1.0"/>
<path d="M302.70 358.11L306.70 358.11" stroke="#000" stroke-width="1.0"/>
<path d="M307.82 325.48L307.82 360.19" stroke="#000" stroke-width="1.0"/>
<path d="M305.82 325.48L309.82 325.48" stroke="#000" stroke-width="1.0"/>
<path d="M305.82 360.19L309.82 360.19" stroke="#000" stroke-width="1.0"/>
<path d="M310.95 326.87L310.95 368.52" stroke="#000" stroke-width="1.0"/>
<path d="M308.95 326.87L312.95 326.87" stroke="#000" stroke-width="1.0"/>
<path d="M308.95 368.52L312.95 368.52" stroke="#000" stroke-width="1.0"/>
<path d="M314.07 330.34L314.07 344.22" stroke="#000" stroke-width="1.0"/>
<path d="M312.07 330.34L316.07 330.34" stroke="#000" stroke-width="1.0"/>
<path d="M312.07 344.22L316.07 344.22" stroke="#000" stroke-width="1.0"/>
<path d="M317.20 332.42L317.20 346.30" stroke="#000" stroke-width="1.0"/>
<path d="M315.20 332.42L319.20 332.42" stroke="#000" stroke-width="1.0"/>
<path d="M315.20 346.30L319.20 346.30" stroke="#000" stroke-width="1.0"/>
<path d="M320.32 331.03L320.32 349.08" stroke="#000" stroke-width="1.0"/>
<path d="M318.32 331.03L322.32 331.03" stroke="#000" stroke-width="1.0"/>
<path d="M318.32 349.08L322.32 349.08" stroke="#000" stroke-width="1.0"/>
<path d="M229.70 299.08L231.80 302.76L227.60 302.76Z"/>
<path d="M232.82 301.17L234.92 304.84L230.72 304.84Z"/>
<path d="M235.95 303.25L238.05 306.92L233.85 306.92Z"/>
<path d="M239.07 307.41L241.17 311.09L236.97 311.09Z"/>
<path d="M242.20 311.58L244.30 315.25L240.10 315.25Z"/>
<path d="M245.32 309.50L247.42 313.17L243.22 313.17Z"/>
<path d="M248.45 307.41L250.55 311.09L246.35 311.09Z"/>
<path d="M251.57 306.72L253.67 310.39L249.47 310.39Z"/>
<path d="M254.70 308.11L256.80 311.78L252.60 311.78Z"/>
<path d="M257.82 306.72L259.93 310.39L255.72 310.39Z"/>
<path d="M260.95 306.72L263.05 310.39L258.85 310.39Z"/>
<path d="M264.07 308.80L266.18 312.48L261.97 312.48Z"/>
<path d="M267.20 314.36L269.30 318.03L265.10 318.03Z"/>
<path d="M270.32 317.13L272.43 320.81L268.22 320.81Z"/>
<path d="M273.45 319.91L275.55 323.58L271.35 323.58Z"/>
<path d="M276.57 321.30L278.68 324.97L274.47 324.97Z"/>
<path d="M279.70 322.69L281.80 326.36L277.60 326.36Z"/>
<path d="M282.82 324.07L284.93 327.75L280.72 327.75Z"/>
<path d="M285.95 326.85L288.05 330.53L283.85 330.53Z"/>
<path d="M289.07 328.24L291.18 331.91L286.97 331.91Z"/>
<path d="M292.20 321.30L294.30 324.97L290.10 324.97Z"/>
<path d="M295.32 326.85L297.43 330.53L293.22 330.53Z"/>
<path d="M298.45 328.93L300.55 332.61L296.35 332.61Z"/>
<path d="M301.57 331.01L303.68 334.69L299.47 334.69Z"/>
<path d="M304.70 337.96L306.80 341.63L302.60 341.63Z"/>
<path d="M307.82 340.73L309.93 344.41L305.72 344.41Z"/>
<path d="M310.95 345.59L313.05 349.27L308.85 349.27Z"/>
<path d="M314.07 335.18L316.18 338.86L311.97 338.86Z"/>
<path d="M317.20 337.26L319.30 340.94L315.10 340.94Z"/>
<path d="M320.32 337.96L322.43 341.63L318.22 341.63Z"/>
<path d="M232.30 353.20L243.80 353.20" stroke="#000" stroke-width="1.2"/>
<circle cx="238.05" cy="353.20" r="1.45" class="mo"/>
<text x="245.40" y="355.48" font-size="6.15" class="b">Rag1-/- BM only</text>
<path d="M232.30 359.90L243.80 359.90" stroke="#000" stroke-width="1.2"/>
<path d="M238.05 357.80L240.15 361.47L235.95 361.47Z"/>
<text x="245.40" y="362.18" font-size="6.15" class="b">CD62L-</text>
<path d="M232.30 366.60L243.80 366.60" stroke="#000" stroke-width="1.2"/>
<rect x="236.60" y="365.15" width="2.90" height="2.90" class="mo"/>
<text x="245.40" y="368.88" font-size="6.15" class="b">Mock challenged</text>
<path d="M390.50 291.60L390.50 371.65" stroke="#000" stroke-width="1.3"/>
<path d="M388.30 371.00L390.50 371.00" stroke="#000" stroke-width="1.0"/>
<text transform="translate(387.00 373.15) scale(0.88 1)" font-size="6.0" class="b" text-anchor="end">-10</text>
<path d="M388.30 357.87L390.50 357.87" stroke="#000" stroke-width="1.0"/>
<text transform="translate(387.00 360.02) scale(0.88 1)" font-size="6.0" class="b" text-anchor="end">-8</text>
<path d="M388.30 344.73L390.50 344.73" stroke="#000" stroke-width="1.0"/>
<text transform="translate(387.00 346.88) scale(0.88 1)" font-size="6.0" class="b" text-anchor="end">-6</text>
<path d="M388.30 331.60L390.50 331.60" stroke="#000" stroke-width="1.0"/>
<text transform="translate(387.00 333.75) scale(0.88 1)" font-size="6.0" class="b" text-anchor="end">-4</text>
<path d="M388.30 318.47L390.50 318.47" stroke="#000" stroke-width="1.0"/>
<text transform="translate(387.00 320.62) scale(0.88 1)" font-size="6.0" class="b" text-anchor="end">-2</text>
<path d="M388.30 305.33L390.50 305.33" stroke="#000" stroke-width="1.0"/>
<text transform="translate(387.00 307.48) scale(0.88 1)" font-size="6.0" class="b" text-anchor="end">0</text>
<path d="M388.30 292.20L390.50 292.20" stroke="#000" stroke-width="1.0"/>
<text transform="translate(387.00 294.35) scale(0.88 1)" font-size="6.0" class="b" text-anchor="end">2</text>
<path d="M389.90 305.33L507.50 305.33" stroke="#000" stroke-width="1.3"/>
<path d="M391.00 305.33L391.00 307.93" stroke="#000" stroke-width="1.0"/>
<path d="M402.60 305.33L402.60 307.93" stroke="#000" stroke-width="1.0"/>
<text transform="translate(402.60 298.50) scale(0.88 1)" font-size="6.0" class="b" text-anchor="middle">4</text>
<path d="M414.20 305.33L414.20 307.93" stroke="#000" stroke-width="1.0"/>
<text transform="translate(414.20 298.50) scale(0.88 1)" font-size="6.0" class="b" text-anchor="middle">8</text>
<path d="M425.80 305.33L425.80 307.93" stroke="#000" stroke-width="1.0"/>
<text transform="translate(425.80 298.50) scale(0.88 1)" font-size="6.0" class="b" text-anchor="middle">12</text>
<path d="M437.40 305.33L437.40 307.93" stroke="#000" stroke-width="1.0"/>
<text transform="translate(437.40 298.50) scale(0.88 1)" font-size="6.0" class="b" text-anchor="middle">16</text>
<path d="M449.00 305.33L449.00 307.93" stroke="#000" stroke-width="1.0"/>
<text transform="translate(449.00 298.50) scale(0.88 1)" font-size="6.0" class="b" text-anchor="middle">20</text>
<path d="M460.60 305.33L460.60 307.93" stroke="#000" stroke-width="1.0"/>
<text transform="translate(460.60 298.50) scale(0.88 1)" font-size="6.0" class="b" text-anchor="middle">24</text>
<path d="M472.20 305.33L472.20 307.93" stroke="#000" stroke-width="1.0"/>
<text transform="translate(472.20 298.50) scale(0.88 1)" font-size="6.0" class="b" text-anchor="middle">28</text>
<path d="M483.80 305.33L483.80 307.93" stroke="#000" stroke-width="1.0"/>
<text transform="translate(483.80 298.50) scale(0.88 1)" font-size="6.0" class="b" text-anchor="middle">32</text>
<path d="M495.40 305.33L495.40 307.93" stroke="#000" stroke-width="1.0"/>
<text transform="translate(495.40 298.50) scale(0.88 1)" font-size="6.0" class="b" text-anchor="middle">36</text>
<path d="M507.00 305.33L507.00 307.93" stroke="#000" stroke-width="1.0"/>
<text transform="translate(507.00 298.50) scale(0.88 1)" font-size="6.0" class="b" text-anchor="middle">40</text>
<text x="375.20" y="331.20" font-size="7.76" class="b" text-anchor="middle" transform="rotate(-90 375.20 331.20)">Change in temperature(<tspan font-size="4.6" dy="-2.8">o</tspan><tspan dy="2.8">C)</tspan></text>
<text x="448.25" y="383.00" font-size="7.57" class="b" text-anchor="middle">Days post challenge</text>
<polyline points="391.00,305.33 393.90,305.33 396.80,305.33 399.70,306.65 402.60,308.62 405.50,309.27 408.40,310.59 411.30,309.27 414.20,310.59 417.10,308.62 420.00,306.65 422.90,305.33 425.80,305.33 428.70,305.33 431.60,305.33 434.50,303.36 437.40,304.02 440.30,304.02 443.20,304.68 446.10,304.02 449.00,305.33 451.90,302.05 454.80,303.36 457.70,303.36 460.60,303.36 463.50,302.05 466.40,309.93 469.30,302.05 472.20,303.36 475.10,303.36 478.00,304.02 480.90,304.68 483.80,304.02 486.70,302.71 489.60,303.36 492.50,303.36 495.40,302.71 498.30,302.05 501.20,304.02 504.10,307.30 507.00,305.33" fill="none" stroke="#000" stroke-width="1.35" stroke-linejoin="miter"/>
<rect x="389.55" y="303.88" width="2.90" height="2.90" class="mo"/>
<rect x="392.45" y="303.88" width="2.90" height="2.90" class="mo"/>
<rect x="395.35" y="303.88" width="2.90" height="2.90" class="mo"/>
<rect x="398.25" y="305.20" width="2.90" height="2.90" class="mo"/>
<rect x="401.15" y="307.17" width="2.90" height="2.90" class="mo"/>
<rect x="404.05" y="307.82" width="2.90" height="2.90" class="mo"/>
<rect x="406.95" y="309.14" width="2.90" height="2.90" class="mo"/>
<rect x="409.85" y="307.82" width="2.90" height="2.90" class="mo"/>
<rect x="412.75" y="309.14" width="2.90" height="2.90" class="mo"/>
<rect x="415.65" y="307.17" width="2.90" height="2.90" class="mo"/>
<rect x="418.55" y="305.20" width="2.90" height="2.90" class="mo"/>
<rect x="421.45" y="303.88" width="2.90" height="2.90" class="mo"/>
<rect x="424.35" y="303.88" width="2.90" height="2.90" class="mo"/>
<rect x="427.25" y="303.88" width="2.90" height="2.90" class="mo"/>
<rect x="430.15" y="303.88" width="2.90" height="2.90" class="mo"/>
<rect x="433.05" y="301.91" width="2.90" height="2.90" class="mo"/>
<rect x="435.95" y="302.57" width="2.90" height="2.90" class="mo"/>
<rect x="438.85" y="302.57" width="2.90" height="2.90" class="mo"/>
<rect x="441.75" y="303.23" width="2.90" height="2.90" class="mo"/>
<rect x="444.65" y="302.57" width="2.90" height="2.90" class="mo"/>
<rect x="447.55" y="303.88" width="2.90" height="2.90" class="mo"/>
<rect x="450.45" y="300.60" width="2.90" height="2.90" class="mo"/>
<rect x="453.35" y="301.91" width="2.90" height="2.90" class="mo"/>
<rect x="456.25" y="301.91" width="2.90" height="2.90" class="mo"/>
<rect x="459.15" y="301.91" width="2.90" height="2.90" class="mo"/>
<rect x="462.05" y="300.60" width="2.90" height="2.90" class="mo"/>
<rect x="464.95" y="308.48" width="2.90" height="2.90" class="mo"/>
<rect x="467.85" y="300.60" width="2.90" height="2.90" class="mo"/>
<rect x="470.75" y="301.91" width="2.90" height="2.90" class="mo"/>
<rect x="473.65" y="301.91" width="2.90" height="2.90" class="mo"/>
<rect x="476.55" y="302.57" width="2.90" height="2.90" class="mo"/>
<rect x="479.45" y="303.23" width="2.90" height="2.90" class="mo"/>
<rect x="482.35" y="302.57" width="2.90" height="2.90" class="mo"/>
<rect x="485.25" y="301.26" width="2.90" height="2.90" class="mo"/>
<rect x="488.15" y="301.91" width="2.90" height="2.90" class="mo"/>
<rect x="491.05" y="301.91" width="2.90" height="2.90" class="mo"/>
<rect x="493.95" y="301.26" width="2.90" height="2.90" class="mo"/>
<rect x="496.85" y="300.60" width="2.90" height="2.90" class="mo"/>
<rect x="499.75" y="302.57" width="2.90" height="2.90" class="mo"/>
<rect x="502.65" y="305.85" width="2.90" height="2.90" class="mo"/>
<rect x="505.55" y="303.88" width="2.90" height="2.90" class="mo"/>
<polyline points="391.00,305.33 393.90,308.62 396.80,315.18 399.70,318.47 402.60,319.12 405.50,317.81 408.40,319.78 411.30,317.15 414.20,317.81 417.10,318.47 420.00,317.15 422.90,316.50 425.80,315.84 428.70,323.72 431.60,327.66 434.50,330.29 437.40,332.91 440.30,332.91 443.20,334.88 446.10,338.17 449.00,342.11 451.90,348.02 454.80,344.73 457.70,365.75 460.60,348.02 463.50,341.45 466.40,344.73" fill="none" stroke="#000" stroke-width="1.35" stroke-linejoin="miter"/>
<path d="M428.70 320.44L428.70 327.00" stroke="#000" stroke-width="1.0"/>
<path d="M426.70 320.44L430.70 320.44" stroke="#000" stroke-width="1.0"/>
<path d="M426.70 327.00L430.70 327.00" stroke="#000" stroke-width="1.0"/>
<path d="M431.60 324.38L431.60 330.94" stroke="#000" stroke-width="1.0"/>
<path d="M429.60 324.38L433.60 324.38" stroke="#000" stroke-width="1.0"/>
<path d="M429.60 330.94L433.60 330.94" stroke="#000" stroke-width="1.0"/>
<path d="M434.50 327.00L434.50 333.57" stroke="#000" stroke-width="1.0"/>
<path d="M432.50 327.00L436.50 327.00" stroke="#000" stroke-width="1.0"/>
<path d="M432.50 333.57L436.50 333.57" stroke="#000" stroke-width="1.0"/>
<path d="M437.40 329.63L437.40 336.20" stroke="#000" stroke-width="1.0"/>
<path d="M435.40 329.63L439.40 329.63" stroke="#000" stroke-width="1.0"/>
<path d="M435.40 336.20L439.40 336.20" stroke="#000" stroke-width="1.0"/>
<path d="M440.30 329.63L440.30 336.20" stroke="#000" stroke-width="1.0"/>
<path d="M438.30 329.63L442.30 329.63" stroke="#000" stroke-width="1.0"/>
<path d="M438.30 336.20L442.30 336.20" stroke="#000" stroke-width="1.0"/>
<path d="M443.20 331.60L443.20 338.17" stroke="#000" stroke-width="1.0"/>
<path d="M441.20 331.60L445.20 331.60" stroke="#000" stroke-width="1.0"/>
<path d="M441.20 338.17L445.20 338.17" stroke="#000" stroke-width="1.0"/>
<path d="M446.10 331.60L446.10 344.73" stroke="#000" stroke-width="1.0"/>
<path d="M444.10 331.60L448.10 331.60" stroke="#000" stroke-width="1.0"/>
<path d="M444.10 344.73L448.10 344.73" stroke="#000" stroke-width="1.0"/>
<path d="M449.00 332.26L449.00 351.96" stroke="#000" stroke-width="1.0"/>
<path d="M447.00 332.26L451.00 332.26" stroke="#000" stroke-width="1.0"/>
<path d="M447.00 351.96L451.00 351.96" stroke="#000" stroke-width="1.0"/>
<path d="M451.90 334.88L451.90 361.15" stroke="#000" stroke-width="1.0"/>
<path d="M449.90 334.88L453.90 334.88" stroke="#000" stroke-width="1.0"/>
<path d="M449.90 361.15L453.90 361.15" stroke="#000" stroke-width="1.0"/>
<path d="M454.80 328.32L454.80 361.15" stroke="#000" stroke-width="1.0"/>
<path d="M452.80 328.32L456.80 328.32" stroke="#000" stroke-width="1.0"/>
<path d="M452.80 361.15L456.80 361.15" stroke="#000" stroke-width="1.0"/>
<path d="M457.70 352.61L457.70 371.00" stroke="#000" stroke-width="1.0"/>
<path d="M455.70 352.61L459.70 352.61" stroke="#000" stroke-width="1.0"/>
<path d="M460.60 338.17L460.60 357.87" stroke="#000" stroke-width="1.0"/>
<path d="M458.60 338.17L462.60 338.17" stroke="#000" stroke-width="1.0"/>
<path d="M458.60 357.87L462.60 357.87" stroke="#000" stroke-width="1.0"/>
<path d="M463.50 334.88L463.50 348.02" stroke="#000" stroke-width="1.0"/>
<path d="M461.50 334.88L465.50 334.88" stroke="#000" stroke-width="1.0"/>
<path d="M461.50 348.02L465.50 348.02" stroke="#000" stroke-width="1.0"/>
<circle cx="391.00" cy="305.33" r="1.45" class="mo"/>
<circle cx="393.90" cy="308.62" r="1.45" class="mo"/>
<circle cx="396.80" cy="315.18" r="1.45" class="mo"/>
<circle cx="399.70" cy="318.47" r="1.45" class="mo"/>
<circle cx="402.60" cy="319.12" r="1.45" class="mo"/>
<circle cx="405.50" cy="317.81" r="1.45" class="mo"/>
<circle cx="408.40" cy="319.78" r="1.45" class="mo"/>
<circle cx="411.30" cy="317.15" r="1.45" class="mo"/>
<circle cx="414.20" cy="317.81" r="1.45" class="mo"/>
<circle cx="417.10" cy="318.47" r="1.45" class="mo"/>
<circle cx="420.00" cy="317.15" r="1.45" class="mo"/>
<circle cx="422.90" cy="316.50" r="1.45" class="mo"/>
<circle cx="425.80" cy="315.84" r="1.45" class="mo"/>
<circle cx="428.70" cy="323.72" r="1.45" class="mo"/>
<circle cx="431.60" cy="327.66" r="1.45" class="mo"/>
<circle cx="434.50" cy="330.29" r="1.45" class="mo"/>
<circle cx="437.40" cy="332.91" r="1.45" class="mo"/>
<circle cx="440.30" cy="332.91" r="1.45" class="mo"/>
<circle cx="443.20" cy="334.88" r="1.45" class="mo"/>
<circle cx="446.10" cy="338.17" r="1.45" class="mo"/>
<circle cx="449.00" cy="342.11" r="1.45" class="mo"/>
<circle cx="451.90" cy="348.02" r="1.45" class="mo"/>
<circle cx="454.80" cy="344.73" r="1.45" class="mo"/>
<circle cx="457.70" cy="365.75" r="1.45" class="mo"/>
<circle cx="460.60" cy="348.02" r="1.45" class="mo"/>
<circle cx="463.50" cy="341.45" r="1.45" class="mo"/>
<circle cx="466.40" cy="344.73" r="1.45" class="mo"/>
<polyline points="391.00,305.33 393.90,307.96 396.80,313.21 399.70,315.84 402.60,317.15 405.50,317.15 408.40,318.47 411.30,317.15 414.20,317.15 417.10,317.81 420.00,316.50 422.90,315.84 425.80,314.53 428.70,319.78 431.60,321.75 434.50,322.41 437.40,322.41 440.30,326.35 443.20,328.97 446.10,331.60 449.00,335.54 451.90,339.48 454.80,340.79 457.70,344.73 460.60,342.11 463.50,346.05 466.40,341.45 469.30,344.73" fill="none" stroke="#000" stroke-width="1.35" stroke-linejoin="miter"/>
<path d="M428.70 317.81L428.70 321.75" stroke="#000" stroke-width="1.0"/>
<path d="M426.70 317.81L430.70 317.81" stroke="#000" stroke-width="1.0"/>
<path d="M426.70 321.75L430.70 321.75" stroke="#000" stroke-width="1.0"/>
<path d="M431.60 319.78L431.60 323.72" stroke="#000" stroke-width="1.0"/>
<path d="M429.60 319.78L433.60 319.78" stroke="#000" stroke-width="1.0"/>
<path d="M429.60 323.72L433.60 323.72" stroke="#000" stroke-width="1.0"/>
<path d="M434.50 320.44L434.50 324.38" stroke="#000" stroke-width="1.0"/>
<path d="M432.50 320.44L436.50 320.44" stroke="#000" stroke-width="1.0"/>
<path d="M432.50 324.38L436.50 324.38" stroke="#000" stroke-width="1.0"/>
<path d="M437.40 320.44L437.40 324.38" stroke="#000" stroke-width="1.0"/>
<path d="M435.40 320.44L439.40 320.44" stroke="#000" stroke-width="1.0"/>
<path d="M435.40 324.38L439.40 324.38" stroke="#000" stroke-width="1.0"/>
<path d="M440.30 324.38L440.30 328.32" stroke="#000" stroke-width="1.0"/>
<path d="M438.30 324.38L442.30 324.38" stroke="#000" stroke-width="1.0"/>
<path d="M438.30 328.32L442.30 328.32" stroke="#000" stroke-width="1.0"/>
<path d="M443.20 327.00L443.20 330.94" stroke="#000" stroke-width="1.0"/>
<path d="M441.20 327.00L445.20 327.00" stroke="#000" stroke-width="1.0"/>
<path d="M441.20 330.94L445.20 330.94" stroke="#000" stroke-width="1.0"/>
<path d="M446.10 326.35L446.10 336.85" stroke="#000" stroke-width="1.0"/>
<path d="M444.10 326.35L448.10 326.35" stroke="#000" stroke-width="1.0"/>
<path d="M444.10 336.85L448.10 336.85" stroke="#000" stroke-width="1.0"/>
<path d="M449.00 328.97L449.00 342.11" stroke="#000" stroke-width="1.0"/>
<path d="M447.00 328.97L451.00 328.97" stroke="#000" stroke-width="1.0"/>
<path d="M447.00 342.11L451.00 342.11" stroke="#000" stroke-width="1.0"/>
<path d="M451.90 331.60L451.90 347.36" stroke="#000" stroke-width="1.0"/>
<path d="M449.90 331.60L453.90 331.60" stroke="#000" stroke-width="1.0"/>
<path d="M449.90 347.36L453.90 347.36" stroke="#000" stroke-width="1.0"/>
<path d="M454.80 324.38L454.80 357.21" stroke="#000" stroke-width="1.0"/>
<path d="M452.80 324.38L456.80 324.38" stroke="#000" stroke-width="1.0"/>
<path d="M452.80 357.21L456.80 357.21" stroke="#000" stroke-width="1.0"/>
<path d="M457.70 334.88L457.70 354.58" stroke="#000" stroke-width="1.0"/>
<path d="M455.70 334.88L459.70 334.88" stroke="#000" stroke-width="1.0"/>
<path d="M455.70 354.58L459.70 354.58" stroke="#000" stroke-width="1.0"/>
<path d="M460.60 334.23L460.60 349.99" stroke="#000" stroke-width="1.0"/>
<path d="M458.60 334.23L462.60 334.23" stroke="#000" stroke-width="1.0"/>
<path d="M458.60 349.99L462.60 349.99" stroke="#000" stroke-width="1.0"/>
<path d="M463.50 336.20L463.50 355.90" stroke="#000" stroke-width="1.0"/>
<path d="M461.50 336.20L465.50 336.20" stroke="#000" stroke-width="1.0"/>
<path d="M461.50 355.90L465.50 355.90" stroke="#000" stroke-width="1.0"/>
<path d="M466.40 325.03L466.40 357.87" stroke="#000" stroke-width="1.0"/>
<path d="M464.40 325.03L468.40 325.03" stroke="#000" stroke-width="1.0"/>
<path d="M464.40 357.87L468.40 357.87" stroke="#000" stroke-width="1.0"/>
<path d="M391.00 303.23L393.10 306.91L388.90 306.91Z"/>
<path d="M393.90 305.86L396.00 309.53L391.80 309.53Z"/>
<path d="M396.80 311.11L398.90 314.79L394.70 314.79Z"/>
<path d="M399.70 313.74L401.80 317.41L397.60 317.41Z"/>
<path d="M402.60 315.05L404.70 318.73L400.50 318.73Z"/>
<path d="M405.50 315.05L407.60 318.73L403.40 318.73Z"/>
<path d="M408.40 316.37L410.50 320.04L406.30 320.04Z"/>
<path d="M411.30 315.05L413.40 318.73L409.20 318.73Z"/>
<path d="M414.20 315.05L416.30 318.73L412.10 318.73Z"/>
<path d="M417.10 315.71L419.20 319.38L415.00 319.38Z"/>
<path d="M420.00 314.40L422.10 318.07L417.90 318.07Z"/>
<path d="M422.90 313.74L425.00 317.41L420.80 317.41Z"/>
<path d="M425.80 312.43L427.90 316.10L423.70 316.10Z"/>
<path d="M428.70 317.68L430.80 321.35L426.60 321.35Z"/>
<path d="M431.60 319.65L433.70 323.32L429.50 323.32Z"/>
<path d="M434.50 320.31L436.60 323.98L432.40 323.98Z"/>
<path d="M437.40 320.31L439.50 323.98L435.30 323.98Z"/>
<path d="M440.30 324.25L442.40 327.92L438.20 327.92Z"/>
<path d="M443.20 326.87L445.30 330.55L441.10 330.55Z"/>
<path d="M446.10 329.50L448.20 333.18L444.00 333.18Z"/>
<path d="M449.00 333.44L451.10 337.11L446.90 337.11Z"/>
<path d="M451.90 337.38L454.00 341.06L449.80 341.06Z"/>
<path d="M454.80 338.69L456.90 342.37L452.70 342.37Z"/>
<path d="M457.70 342.63L459.80 346.31L455.60 346.31Z"/>
<path d="M460.60 340.01L462.70 343.68L458.50 343.68Z"/>
<path d="M463.50 343.95L465.60 347.62L461.40 347.62Z"/>
<path d="M466.40 339.35L468.50 343.02L464.30 343.02Z"/>
<path d="M469.30 342.63L471.40 346.31L467.20 346.31Z"/>
<path d="M447.40 314.80L458.50 314.80" stroke="#000" stroke-width="1.2"/>
<circle cx="452.95" cy="314.80" r="1.45" class="mo"/>
<text x="460.10" y="316.95" font-size="5.8" class="b">Rag2<tspan font-size="3.8" dy="-2.2">-/-</tspan><tspan dy="2.2">&#947;C</tspan><tspan font-size="3.8" dy="-2.2">-/-</tspan><tspan dy="2.2"> BM only</tspan></text>
<path d="M447.40 320.85L458.50 320.85" stroke="#000" stroke-width="1.2"/>
<path d="M452.95 318.75L455.05 322.43L450.85 322.43Z"/>
<text x="460.10" y="323.00" font-size="5.8" class="b">CD62L-</text>
<path d="M447.40 326.90L458.50 326.90" stroke="#000" stroke-width="1.2"/>
<rect x="451.50" y="325.45" width="2.90" height="2.90" class="mo"/>
<text x="460.10" y="329.05" font-size="5.8" class="b">Mock challenged</text>
<path d="M60.40 394.80L60.40 479.45" stroke="#000" stroke-width="1.3"/>
<path d="M58.20 478.80L60.40 478.80" stroke="#000" stroke-width="1.0"/>
<text transform="translate(56.90 480.95) scale(0.88 1)" font-size="6.0" class="b" text-anchor="end">0</text>
<path d="M58.20 462.12L60.40 462.12" stroke="#000" stroke-width="1.0"/>
<text transform="translate(56.90 464.27) scale(0.88 1)" font-size="6.0" class="b" text-anchor="end">20</text>
<path d="M58.20 445.44L60.40 445.44" stroke="#000" stroke-width="1.0"/>
<text transform="translate(56.90 447.59) scale(0.88 1)" font-size="6.0" class="b" text-anchor="end">40</text>
<path d="M58.20 428.76L60.40 428.76" stroke="#000" stroke-width="1.0"/>
<text transform="translate(56.90 430.91) scale(0.88 1)" font-size="6.0" class="b" text-anchor="end">60</text>
<path d="M58.20 412.08L60.40 412.08" stroke="#000" stroke-width="1.0"/>
<text transform="translate(56.90 414.23) scale(0.88 1)" font-size="6.0" class="b" text-anchor="end">80</text>
<path d="M58.20 395.40L60.40 395.40" stroke="#000" stroke-width="1.0"/>
<text transform="translate(56.90 397.55) scale(0.88 1)" font-size="6.0" class="b" text-anchor="end">100</text>
<path d="M59.80 478.80L186.60 478.80" stroke="#000" stroke-width="1.3"/>
<path d="M61.00 478.80L61.00 481.40" stroke="#000" stroke-width="1.0"/>
<text transform="translate(61.00 488.30) scale(0.88 1)" font-size="6.0" class="b" text-anchor="middle">0</text>
<path d="M73.51 478.80L73.51 481.40" stroke="#000" stroke-width="1.0"/>
<text transform="translate(73.51 488.30) scale(0.88 1)" font-size="6.0" class="b" text-anchor="middle">4</text>
<path d="M86.02 478.80L86.02 481.40" stroke="#000" stroke-width="1.0"/>
<text transform="translate(86.02 488.30) scale(0.88 1)" font-size="6.0" class="b" text-anchor="middle">8</text>
<path d="M98.53 478.80L98.53 481.40" stroke="#000" stroke-width="1.0"/>
<text transform="translate(98.53 488.30) scale(0.88 1)" font-size="6.0" class="b" text-anchor="middle">12</text>
<path d="M111.04 478.80L111.04 481.40" stroke="#000" stroke-width="1.0"/>
<text transform="translate(111.04 488.30) scale(0.88 1)" font-size="6.0" class="b" text-anchor="middle">16</text>
<path d="M123.55 478.80L123.55 481.40" stroke="#000" stroke-width="1.0"/>
<text transform="translate(123.55 488.30) scale(0.88 1)" font-size="6.0" class="b" text-anchor="middle">20</text>
<path d="M136.06 478.80L136.06 481.40" stroke="#000" stroke-width="1.0"/>
<text transform="translate(136.06 488.30) scale(0.88 1)" font-size="6.0" class="b" text-anchor="middle">24</text>
<path d="M148.57 478.80L148.57 481.40" stroke="#000" stroke-width="1.0"/>
<text transform="translate(148.57 488.30) scale(0.88 1)" font-size="6.0" class="b" text-anchor="middle">28</text>
<path d="M161.08 478.80L161.08 481.40" stroke="#000" stroke-width="1.0"/>
<text transform="translate(161.08 488.30) scale(0.88 1)" font-size="6.0" class="b" text-anchor="middle">32</text>
<path d="M173.59 478.80L173.59 481.40" stroke="#000" stroke-width="1.0"/>
<text transform="translate(173.59 488.30) scale(0.88 1)" font-size="6.0" class="b" text-anchor="middle">36</text>
<path d="M186.10 478.80L186.10 481.40" stroke="#000" stroke-width="1.0"/>
<text transform="translate(186.10 488.30) scale(0.88 1)" font-size="6.0" class="b" text-anchor="middle">40</text>
<text x="42.20" y="436.35" font-size="8.23" class="b" text-anchor="middle" transform="rotate(-90 42.20 436.35)">Percent survival</text>
<text x="123.10" y="498.80" font-size="8.1" class="b" text-anchor="middle">Days post challenge</text>
<polyline points="61.00,395.40 186.10,395.40 186.10,395.40" fill="none" stroke="#555" stroke-width="0.9" stroke-linejoin="miter"/>
<polyline points="61.00,395.40 92.28,395.40 92.28,400.99 101.66,400.99 101.66,428.76 104.78,428.76 104.78,456.53 107.91,456.53 107.91,473.21 117.30,473.21 117.30,478.80" fill="none" stroke="#000" stroke-width="1.6" stroke-linejoin="miter" stroke-dasharray="3.2,1.5"/>
<polyline points="61.00,395.40 107.91,395.40 107.91,406.49 117.30,406.49 117.30,412.08 120.42,412.08 120.42,417.67 123.55,417.67 123.55,423.17 126.68,423.17 126.68,434.35 129.81,434.35 129.81,445.44 132.93,445.44 132.93,451.03 136.06,451.03 136.06,456.53 142.31,456.53 142.31,462.12 161.08,462.12 161.08,467.71 170.46,467.71 170.46,473.21 186.10,473.21 186.10,473.21" fill="none" stroke="#000" stroke-width="1.6" stroke-linejoin="miter"/>
<path d="M122.90 402.40L134.40 402.40" stroke="#000" stroke-width="1.5" stroke-dasharray="3,1.3"/>
<text x="137.30" y="404.66" font-size="6.1" class="b">TCD BM only</text>
<path d="M122.90 408.50L134.40 408.50" stroke="#000" stroke-width="1.5"/>
<text x="137.30" y="410.76" font-size="6.1" class="b">CD62L-</text>
<path d="M122.90 414.60L134.40 414.60" stroke="#444" stroke-width="0.8"/>
<path d="M128.65 413.65L129.59 415.31L127.71 415.31Z"/>
<text x="137.30" y="416.86" font-size="6.1" class="b">Mock challenged</text>
<path d="M228.50 397.20L228.50 479.95" stroke="#000" stroke-width="1.3"/>
<path d="M226.30 479.30L228.50 479.30" stroke="#000" stroke-width="1.0"/>
<text transform="translate(225.00 481.45) scale(0.88 1)" font-size="6.0" class="b" text-anchor="end">0</text>
<path d="M226.30 463.00L228.50 463.00" stroke="#000" stroke-width="1.0"/>
<text transform="translate(225.00 465.15) scale(0.88 1)" font-size="6.0" class="b" text-anchor="end">20</text>
<path d="M226.30 446.70L228.50 446.70" stroke="#000" stroke-width="1.0"/>
<text transform="translate(225.00 448.85) scale(0.88 1)" font-size="6.0" class="b" text-anchor="end">40</text>
<path d="M226.30 430.40L228.50 430.40" stroke="#000" stroke-width="1.0"/>
<text transform="translate(225.00 432.55) scale(0.88 1)" font-size="6.0" class="b" text-anchor="end">60</text>
<path d="M226.30 414.10L228.50 414.10" stroke="#000" stroke-width="1.0"/>
<text transform="translate(225.00 416.25) scale(0.88 1)" font-size="6.0" class="b" text-anchor="end">80</text>
<path d="M226.30 397.80L228.50 397.80" stroke="#000" stroke-width="1.0"/>
<text transform="translate(225.00 399.95) scale(0.88 1)" font-size="6.0" class="b" text-anchor="end">100</text>
<path d="M227.90 479.30L352.00 479.30" stroke="#000" stroke-width="1.3"/>
<path d="M228.60 479.30L228.60 481.90" stroke="#000" stroke-width="1.0"/>
<text transform="translate(228.60 489.00) scale(0.88 1)" font-size="6.0" class="b" text-anchor="middle">0</text>
<path d="M240.89 479.30L240.89 481.90" stroke="#000" stroke-width="1.0"/>
<text transform="translate(240.89 489.00) scale(0.88 1)" font-size="6.0" class="b" text-anchor="middle">4</text>
<path d="M253.18 479.30L253.18 481.90" stroke="#000" stroke-width="1.0"/>
<text transform="translate(253.18 489.00) scale(0.88 1)" font-size="6.0" class="b" text-anchor="middle">8</text>
<path d="M265.47 479.30L265.47 481.90" stroke="#000" stroke-width="1.0"/>
<text transform="translate(265.47 489.00) scale(0.88 1)" font-size="6.0" class="b" text-anchor="middle">12</text>
<path d="M277.76 479.30L277.76 481.90" stroke="#000" stroke-width="1.0"/>
<text transform="translate(277.76 489.00) scale(0.88 1)" font-size="6.0" class="b" text-anchor="middle">16</text>
<path d="M290.05 479.30L290.05 481.90" stroke="#000" stroke-width="1.0"/>
<text transform="translate(290.05 489.00) scale(0.88 1)" font-size="6.0" class="b" text-anchor="middle">20</text>
<path d="M302.34 479.30L302.34 481.90" stroke="#000" stroke-width="1.0"/>
<text transform="translate(302.34 489.00) scale(0.88 1)" font-size="6.0" class="b" text-anchor="middle">24</text>
<path d="M314.63 479.30L314.63 481.90" stroke="#000" stroke-width="1.0"/>
<text transform="translate(314.63 489.00) scale(0.88 1)" font-size="6.0" class="b" text-anchor="middle">28</text>
<path d="M326.92 479.30L326.92 481.90" stroke="#000" stroke-width="1.0"/>
<text transform="translate(326.92 489.00) scale(0.88 1)" font-size="6.0" class="b" text-anchor="middle">32</text>
<path d="M339.21 479.30L339.21 481.90" stroke="#000" stroke-width="1.0"/>
<text transform="translate(339.21 489.00) scale(0.88 1)" font-size="6.0" class="b" text-anchor="middle">36</text>
<path d="M351.50 479.30L351.50 481.90" stroke="#000" stroke-width="1.0"/>
<text transform="translate(351.50 489.00) scale(0.88 1)" font-size="6.0" class="b" text-anchor="middle">40</text>
<text x="211.20" y="438.40" font-size="8.02" class="b" text-anchor="middle" transform="rotate(-90 211.20 438.40)">Percent survival</text>
<text x="289.75" y="499.20" font-size="8.09" class="b" text-anchor="middle">Days post challenge</text>
<polyline points="228.60,397.80 351.50,397.80 351.50,397.80" fill="none" stroke="#555" stroke-width="0.9" stroke-linejoin="miter"/>
<polyline points="228.60,397.80 243.96,397.80 243.96,403.26 253.18,403.26 253.18,408.64 274.69,408.64 274.69,438.55 277.76,438.55 277.76,444.01 280.83,444.01 280.83,449.39 283.90,449.39 283.90,468.46 286.98,468.46 286.98,473.84 290.05,473.84 290.05,479.30" fill="none" stroke="#000" stroke-width="1.6" stroke-linejoin="miter" stroke-dasharray="3.2,1.5"/>
<polyline points="228.60,397.80 277.76,397.80 277.76,403.26 280.83,403.26 280.83,414.10 283.90,414.10 283.90,452.16 290.05,452.16 290.05,463.00 311.56,463.00 311.56,468.46 314.63,468.46 314.63,473.84 320.77,473.84 320.77,479.30" fill="none" stroke="#000" stroke-width="1.6" stroke-linejoin="miter"/>
<path d="M288.90 405.80L299.50 405.80" stroke="#000" stroke-width="1.5" stroke-dasharray="3,1.3"/>
<text x="302.40" y="408.08" font-size="6.15" class="b">Rag1<tspan font-size="3.8" dy="-2.2">-/-</tspan><tspan dy="2.2"> BM only</tspan></text>
<path d="M288.90 412.10L299.50 412.10" stroke="#000" stroke-width="1.5"/>
<text x="302.40" y="414.38" font-size="6.15" class="b">CD62L-</text>
<path d="M288.90 418.40L299.50 418.40" stroke="#444" stroke-width="0.8"/>
<path d="M294.20 417.46L295.14 419.11L293.25 419.11Z"/>
<text x="302.40" y="420.68" font-size="6.15" class="b">Mock challenged</text>
<path d="M386.90 396.40L386.90 479.75" stroke="#000" stroke-width="1.3"/>
<path d="M384.70 479.10L386.90 479.10" stroke="#000" stroke-width="1.0"/>
<text transform="translate(383.40 481.25) scale(0.88 1)" font-size="6.0" class="b" text-anchor="end">0</text>
<path d="M384.70 462.68L386.90 462.68" stroke="#000" stroke-width="1.0"/>
<text transform="translate(383.40 464.83) scale(0.88 1)" font-size="6.0" class="b" text-anchor="end">20</text>
<path d="M384.70 446.26L386.90 446.26" stroke="#000" stroke-width="1.0"/>
<text transform="translate(383.40 448.41) scale(0.88 1)" font-size="6.0" class="b" text-anchor="end">40</text>
<path d="M384.70 429.84L386.90 429.84" stroke="#000" stroke-width="1.0"/>
<text transform="translate(383.40 431.99) scale(0.88 1)" font-size="6.0" class="b" text-anchor="end">60</text>
<path d="M384.70 413.42L386.90 413.42" stroke="#000" stroke-width="1.0"/>
<text transform="translate(383.40 415.57) scale(0.88 1)" font-size="6.0" class="b" text-anchor="end">80</text>
<path d="M384.70 397.00L386.90 397.00" stroke="#000" stroke-width="1.0"/>
<text transform="translate(383.40 399.15) scale(0.88 1)" font-size="6.0" class="b" text-anchor="end">100</text>
<path d="M386.30 479.10L512.00 479.10" stroke="#000" stroke-width="1.3"/>
<path d="M387.50 479.10L387.50 481.70" stroke="#000" stroke-width="1.0"/>
<text transform="translate(387.50 488.80) scale(0.88 1)" font-size="6.0" class="b" text-anchor="middle">0</text>
<path d="M399.90 479.10L399.90 481.70" stroke="#000" stroke-width="1.0"/>
<text transform="translate(399.90 488.80) scale(0.88 1)" font-size="6.0" class="b" text-anchor="middle">4</text>
<path d="M412.30 479.10L412.30 481.70" stroke="#000" stroke-width="1.0"/>
<text transform="translate(412.30 488.80) scale(0.88 1)" font-size="6.0" class="b" text-anchor="middle">8</text>
<path d="M424.70 479.10L424.70 481.70" stroke="#000" stroke-width="1.0"/>
<text transform="translate(424.70 488.80) scale(0.88 1)" font-size="6.0" class="b" text-anchor="middle">12</text>
<path d="M437.10 479.10L437.10 481.70" stroke="#000" stroke-width="1.0"/>
<text transform="translate(437.10 488.80) scale(0.88 1)" font-size="6.0" class="b" text-anchor="middle">16</text>
<path d="M449.50 479.10L449.50 481.70" stroke="#000" stroke-width="1.0"/>
<text transform="translate(449.50 488.80) scale(0.88 1)" font-size="6.0" class="b" text-anchor="middle">20</text>
<path d="M461.90 479.10L461.90 481.70" stroke="#000" stroke-width="1.0"/>
<text transform="translate(461.90 488.80) scale(0.88 1)" font-size="6.0" class="b" text-anchor="middle">24</text>
<path d="M474.30 479.10L474.30 481.70" stroke="#000" stroke-width="1.0"/>
<text transform="translate(474.30 488.80) scale(0.88 1)" font-size="6.0" class="b" text-anchor="middle">28</text>
<path d="M486.70 479.10L486.70 481.70" stroke="#000" stroke-width="1.0"/>
<text transform="translate(486.70 488.80) scale(0.88 1)" font-size="6.0" class="b" text-anchor="middle">32</text>
<path d="M499.10 479.10L499.10 481.70" stroke="#000" stroke-width="1.0"/>
<text transform="translate(499.10 488.80) scale(0.88 1)" font-size="6.0" class="b" text-anchor="middle">36</text>
<path d="M511.50 479.10L511.50 481.70" stroke="#000" stroke-width="1.0"/>
<text transform="translate(511.50 488.80) scale(0.88 1)" font-size="6.0" class="b" text-anchor="middle">40</text>
<text x="370.30" y="438.00" font-size="8.05" class="b" text-anchor="middle" transform="rotate(-90 370.30 438.00)">Percent survival</text>
<text x="449.00" y="499.50" font-size="8.25" class="b" text-anchor="middle">Days post challenge</text>
<polyline points="387.50,397.00 511.50,397.00 511.50,397.00" fill="none" stroke="#555" stroke-width="0.9" stroke-linejoin="miter"/>
<polyline points="387.50,397.00 434.00,397.00 434.00,407.92 440.20,407.92 440.20,413.42 443.30,413.42 443.30,440.76 446.40,440.76 446.40,451.76 449.50,451.76 449.50,457.18 452.60,457.18 452.60,462.68 455.70,462.68 455.70,468.18 461.90,468.18 461.90,473.60 468.10,473.60 468.10,479.10" fill="none" stroke="#000" stroke-width="1.6" stroke-linejoin="miter" stroke-dasharray="3.2,1.5"/>
<polyline points="387.50,397.00 437.10,397.00 437.10,402.50 440.20,402.50 440.20,407.92 443.30,407.92 443.30,413.42 449.50,413.42 449.50,424.34 452.60,424.34 452.60,435.34 455.70,435.34 455.70,446.26 458.80,446.26 458.80,451.76 461.90,451.76 461.90,462.68 465.00,462.68 465.00,468.18 468.10,468.18 468.10,473.60 471.20,473.60 471.20,479.10" fill="none" stroke="#000" stroke-width="1.6" stroke-linejoin="miter"/>
<path d="M450.00 403.50L460.80 403.50" stroke="#000" stroke-width="1.5" stroke-dasharray="3,1.3"/>
<text x="463.80" y="405.72" font-size="6.0" class="b">Rag2<tspan font-size="3.8" dy="-2.2">-/-</tspan><tspan dy="2.2">&#947;C</tspan><tspan font-size="3.8" dy="-2.2">-/-</tspan><tspan dy="2.2"> BM only</tspan></text>
<path d="M450.00 409.80L460.80 409.80" stroke="#000" stroke-width="1.5"/>
<text x="463.80" y="412.02" font-size="6.0" class="b">CD62L-</text>
<path d="M450.00 416.10L460.80 416.10" stroke="#444" stroke-width="0.8"/>
<path d="M455.40 415.16L456.34 416.81L454.45 416.81Z"/>
<text x="463.80" y="418.32" font-size="6.0" class="b">Mock challenged</text>
</svg>
</body></html>
